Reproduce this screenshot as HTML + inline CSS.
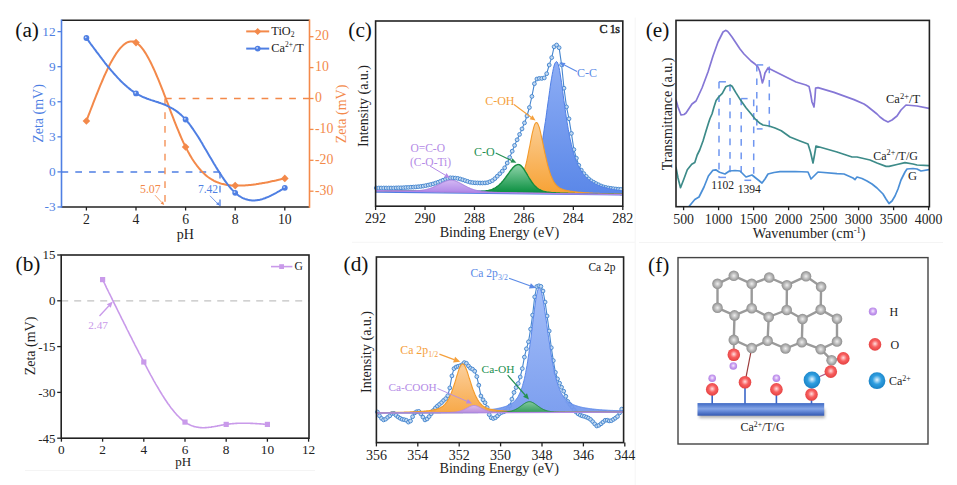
<!DOCTYPE html>
<html><head><meta charset="utf-8"><style>
html,body{margin:0;padding:0;background:#fff;}
svg{display:block;font-family:'Liberation Serif', serif;}
</style></head><body>
<svg width="957" height="485" viewBox="0 0 957 485">
<defs><linearGradient id="gcB" gradientUnits="userSpaceOnUse" x1="0" y1="60" x2="0" y2="195"><stop offset="0" stop-color="#8eaef5"/><stop offset="1" stop-color="#5a87e8"/></linearGradient><linearGradient id="gcO" gradientUnits="userSpaceOnUse" x1="0" y1="120" x2="0" y2="195"><stop offset="0" stop-color="#fbcf97"/><stop offset="1" stop-color="#f7a133"/></linearGradient><linearGradient id="gcG" gradientUnits="userSpaceOnUse" x1="0" y1="163" x2="0" y2="192"><stop offset="0" stop-color="#96d8b0"/><stop offset="1" stop-color="#0e9143"/></linearGradient><linearGradient id="gcP" gradientUnits="userSpaceOnUse" x1="0" y1="178" x2="0" y2="195"><stop offset="0" stop-color="#d9bff6"/><stop offset="1" stop-color="#a97fe4"/></linearGradient><linearGradient id="gdB" gradientUnits="userSpaceOnUse" x1="0" y1="287" x2="0" y2="413"><stop offset="0" stop-color="#9cb8f7"/><stop offset="1" stop-color="#7398ee"/></linearGradient><linearGradient id="gdO" gradientUnits="userSpaceOnUse" x1="0" y1="363" x2="0" y2="413"><stop offset="0" stop-color="#fbcd98"/><stop offset="1" stop-color="#f7a23a"/></linearGradient><linearGradient id="gdG" gradientUnits="userSpaceOnUse" x1="0" y1="400" x2="0" y2="413"><stop offset="0" stop-color="#8fd1a0"/><stop offset="1" stop-color="#2a9a50"/></linearGradient><linearGradient id="gdP" gradientUnits="userSpaceOnUse" x1="0" y1="404" x2="0" y2="413"><stop offset="0" stop-color="#e0c8f8"/><stop offset="1" stop-color="#b58ae8"/></linearGradient><radialGradient id="sgG" cx="0.5" cy="0.5" r="0.5"><stop offset="0" stop-color="#eeeeee"/><stop offset="0.45" stop-color="#c2c2c2"/><stop offset="0.8" stop-color="#a0a0a0"/><stop offset="1" stop-color="#8e8e8e"/></radialGradient><radialGradient id="sgR" cx="0.5" cy="0.45" r="0.6"><stop offset="0" stop-color="#ffe0e0"/><stop offset="0.45" stop-color="#f86060"/><stop offset="1" stop-color="#e03a3a"/></radialGradient><radialGradient id="sgC" cx="0.5" cy="0.45" r="0.6"><stop offset="0" stop-color="#e8f6ff"/><stop offset="0.45" stop-color="#2f9ee0"/><stop offset="1" stop-color="#137bbf"/></radialGradient><radialGradient id="sgH" cx="0.5" cy="0.45" r="0.6"><stop offset="0" stop-color="#f6eeff"/><stop offset="0.5" stop-color="#c89cf0"/><stop offset="1" stop-color="#a87ade"/></radialGradient><linearGradient id="barG" x1="0" y1="0" x2="0" y2="1"><stop offset="0" stop-color="#3d68c4"/><stop offset="0.45" stop-color="#86a6e6"/><stop offset="0.6" stop-color="#6d90dc"/><stop offset="1" stop-color="#3358b2"/></linearGradient><filter id="shadow" x="-10%" y="-50%" width="120%" height="250%"><feGaussianBlur stdDeviation="1.6"/></filter></defs>
<rect width="957" height="485" fill="#fff"/>
<line x1="61.50" y1="171.90" x2="220.00" y2="171.90" stroke="#4f7fe3" stroke-width="1.45" stroke-dasharray="6.7,7.1"/>
<line x1="220.00" y1="171.90" x2="220.00" y2="207.00" stroke="#4f7fe3" stroke-width="1.3" stroke-dasharray="6.7,7.1"/>
<line x1="165.00" y1="98.50" x2="309.50" y2="98.50" stroke="#f3894a" stroke-width="1.45" stroke-dasharray="6.7,7.1"/>
<line x1="165.00" y1="98.50" x2="165.00" y2="207.00" stroke="#f3894a" stroke-width="1.3" stroke-dasharray="6.7,7.1"/>
<line x1="61.50" y1="20.30" x2="309.50" y2="20.30" stroke="#222" stroke-width="1.6" />
<line x1="61.50" y1="207.00" x2="309.50" y2="207.00" stroke="#222" stroke-width="1.6" />
<line x1="61.50" y1="19.50" x2="61.50" y2="207.80" stroke="#4f7fe3" stroke-width="1.6" />
<line x1="309.50" y1="19.50" x2="309.50" y2="207.80" stroke="#f3894a" stroke-width="1.6" />
<line x1="57.50" y1="206.97" x2="61.50" y2="206.97" stroke="#4f7fe3" stroke-width="1.3" />
<text x="55.60" y="211.37" font-size="13.3" fill="#4f7fe3" stroke="#4f7fe3" stroke-width="0.0" text-anchor="end" >-3</text>
<line x1="57.50" y1="171.90" x2="61.50" y2="171.90" stroke="#4f7fe3" stroke-width="1.3" />
<text x="55.60" y="176.30" font-size="13.3" fill="#4f7fe3" stroke="#4f7fe3" stroke-width="0.0" text-anchor="end" >0</text>
<line x1="57.50" y1="136.83" x2="61.50" y2="136.83" stroke="#4f7fe3" stroke-width="1.3" />
<text x="55.60" y="141.23" font-size="13.3" fill="#4f7fe3" stroke="#4f7fe3" stroke-width="0.0" text-anchor="end" >3</text>
<line x1="57.50" y1="101.76" x2="61.50" y2="101.76" stroke="#4f7fe3" stroke-width="1.3" />
<text x="55.60" y="106.16" font-size="13.3" fill="#4f7fe3" stroke="#4f7fe3" stroke-width="0.0" text-anchor="end" >6</text>
<line x1="57.50" y1="66.69" x2="61.50" y2="66.69" stroke="#4f7fe3" stroke-width="1.3" />
<text x="55.60" y="71.09" font-size="13.3" fill="#4f7fe3" stroke="#4f7fe3" stroke-width="0.0" text-anchor="end" >9</text>
<line x1="57.50" y1="31.62" x2="61.50" y2="31.62" stroke="#4f7fe3" stroke-width="1.3" />
<text x="55.60" y="36.02" font-size="13.3" fill="#4f7fe3" stroke="#4f7fe3" stroke-width="0.0" text-anchor="end" >12</text>
<line x1="309.50" y1="36.70" x2="313.50" y2="36.70" stroke="#f3894a" stroke-width="1.3" />
<text x="315.00" y="40.30" font-size="13.8" fill="#f3894a" stroke="#f3894a" stroke-width="0.0" text-anchor="start" >20</text>
<line x1="309.50" y1="67.60" x2="313.50" y2="67.60" stroke="#f3894a" stroke-width="1.3" />
<text x="315.00" y="71.20" font-size="13.8" fill="#f3894a" stroke="#f3894a" stroke-width="0.0" text-anchor="start" >10</text>
<line x1="309.50" y1="98.50" x2="313.50" y2="98.50" stroke="#f3894a" stroke-width="1.3" />
<text x="315.00" y="102.10" font-size="13.8" fill="#f3894a" stroke="#f3894a" stroke-width="0.0" text-anchor="start" >0</text>
<line x1="309.50" y1="129.40" x2="313.50" y2="129.40" stroke="#f3894a" stroke-width="1.3" />
<text x="315.00" y="133.00" font-size="13.8" fill="#f3894a" stroke="#f3894a" stroke-width="0.0" text-anchor="start" >-10</text>
<line x1="309.50" y1="160.30" x2="313.50" y2="160.30" stroke="#f3894a" stroke-width="1.3" />
<text x="315.00" y="163.90" font-size="13.8" fill="#f3894a" stroke="#f3894a" stroke-width="0.0" text-anchor="start" >-20</text>
<line x1="309.50" y1="191.20" x2="313.50" y2="191.20" stroke="#f3894a" stroke-width="1.3" />
<text x="315.00" y="194.80" font-size="13.8" fill="#f3894a" stroke="#f3894a" stroke-width="0.0" text-anchor="start" >-30</text>
<line x1="86.40" y1="207.00" x2="86.40" y2="210.50" stroke="#222" stroke-width="1.3" />
<text x="86.40" y="223.60" font-size="13.7" fill="#222" stroke="#222" stroke-width="0.0" text-anchor="middle" >2</text>
<line x1="136.00" y1="207.00" x2="136.00" y2="210.50" stroke="#222" stroke-width="1.3" />
<text x="136.00" y="223.60" font-size="13.7" fill="#222" stroke="#222" stroke-width="0.0" text-anchor="middle" >4</text>
<line x1="185.60" y1="207.00" x2="185.60" y2="210.50" stroke="#222" stroke-width="1.3" />
<text x="185.60" y="223.60" font-size="13.7" fill="#222" stroke="#222" stroke-width="0.0" text-anchor="middle" >6</text>
<line x1="235.20" y1="207.00" x2="235.20" y2="210.50" stroke="#222" stroke-width="1.3" />
<text x="235.20" y="223.60" font-size="13.7" fill="#222" stroke="#222" stroke-width="0.0" text-anchor="middle" >8</text>
<line x1="284.80" y1="207.00" x2="284.80" y2="210.50" stroke="#222" stroke-width="1.3" />
<text x="284.80" y="223.60" font-size="13.7" fill="#222" stroke="#222" stroke-width="0.0" text-anchor="middle" >10</text>
<text x="185.30" y="239.00" font-size="14" fill="#222" stroke="#222" stroke-width="0.0" text-anchor="middle" >pH</text>
<text x="0" y="0" font-size="14" fill="#4f7fe3" stroke="#4f7fe3" stroke-width="0.0" text-anchor="middle" dominant-baseline="central" transform="translate(38.00,113.50) rotate(-90)" >Zeta (mV)</text>
<text x="0" y="0" font-size="14" fill="#f3894a" stroke="#f3894a" stroke-width="0.0" text-anchor="middle" dominant-baseline="central" transform="translate(341.50,114.00) rotate(-90)" >Zeta (mV)</text>
<text x="15.30" y="37.20" font-size="21.3" fill="#111" stroke="#111" stroke-width="0.0" text-anchor="start" >(a)</text>
<path d="M86.4,121.0 L87.4,118.4 L88.4,115.7 L89.4,113.1 L90.4,110.5 L91.4,107.9 L92.4,105.3 L93.4,102.7 L94.4,100.1 L95.4,97.6 L96.4,95.0 L97.4,92.6 L98.4,90.1 L99.4,87.6 L100.4,85.2 L101.4,82.9 L102.4,80.5 L103.3,78.3 L104.3,76.0 L105.3,73.8 L106.3,71.7 L107.3,69.6 L108.3,67.5 L109.3,65.5 L110.3,63.6 L111.3,61.8 L112.3,60.0 L113.3,58.2 L114.3,56.6 L115.3,55.0 L116.3,53.4 L117.3,52.0 L118.3,50.6 L119.3,49.4 L120.3,48.2 L121.3,47.1 L122.3,46.1 L123.3,45.1 L124.3,44.3 L125.3,43.6 L126.3,42.9 L127.3,42.4 L128.3,42.0 L129.3,41.7 L130.3,41.5 L131.3,41.4 L132.3,41.4 L133.3,41.6 L134.3,41.8 L135.3,42.2 L136.2,42.7 L137.2,43.4 L138.2,44.2 L139.2,45.0 L140.2,46.0 L141.2,47.1 L142.2,48.4 L143.2,49.7 L144.2,51.1 L145.2,52.6 L146.2,54.2 L147.2,55.9 L148.2,57.7 L149.2,59.6 L150.2,61.5 L151.2,63.5 L152.2,65.6 L153.2,67.7 L154.2,69.9 L155.2,72.2 L156.2,74.5 L157.2,76.8 L158.2,79.2 L159.2,81.7 L160.2,84.1 L161.2,86.6 L162.2,89.2 L163.2,91.7 L164.2,94.3 L165.2,96.9 L166.2,99.5 L167.2,102.1 L168.2,104.7 L169.1,107.3 L170.1,110.0 L171.1,112.6 L172.1,115.2 L173.1,117.7 L174.1,120.3 L175.1,122.8 L176.1,125.3 L177.1,127.8 L178.1,130.2 L179.1,132.6 L180.1,135.0 L181.1,137.3 L182.1,139.6 L183.1,141.8 L184.1,143.9 L185.1,146.0 L186.1,148.0 L187.1,149.9 L188.1,151.8 L189.1,153.6 L190.1,155.4 L191.1,157.0 L192.1,158.7 L193.1,160.2 L194.1,161.7 L195.1,163.2 L196.1,164.5 L197.1,165.9 L198.1,167.1 L199.1,168.3 L200.1,169.5 L201.1,170.6 L202.1,171.6 L203.0,172.6 L204.0,173.6 L205.0,174.5 L206.0,175.4 L207.0,176.2 L208.0,177.0 L209.0,177.7 L210.0,178.4 L211.0,179.0 L212.0,179.6 L213.0,180.2 L214.0,180.8 L215.0,181.3 L216.0,181.7 L217.0,182.1 L218.0,182.5 L219.0,182.9 L220.0,183.3 L221.0,183.6 L222.0,183.9 L223.0,184.1 L224.0,184.3 L225.0,184.5 L226.0,184.7 L227.0,184.9 L228.0,185.0 L229.0,185.2 L230.0,185.3 L231.0,185.4 L232.0,185.4 L233.0,185.5 L234.0,185.6 L235.0,185.6 L235.9,185.6 L236.9,185.6 L237.9,185.6 L238.9,185.6 L239.9,185.6 L240.9,185.6 L241.9,185.6 L242.9,185.5 L243.9,185.5 L244.9,185.4 L245.9,185.3 L246.9,185.3 L247.9,185.2 L248.9,185.1 L249.9,185.0 L250.9,184.9 L251.9,184.8 L252.9,184.7 L253.9,184.5 L254.9,184.4 L255.9,184.3 L256.9,184.1 L257.9,184.0 L258.9,183.8 L259.9,183.6 L260.9,183.5 L261.9,183.3 L262.9,183.1 L263.9,182.9 L264.9,182.7 L265.9,182.6 L266.9,182.4 L267.9,182.2 L268.8,182.0 L269.8,181.8 L270.8,181.5 L271.8,181.3 L272.8,181.1 L273.8,180.9 L274.8,180.7 L275.8,180.5 L276.8,180.2 L277.8,180.0 L278.8,179.8 L279.8,179.6 L280.8,179.3 L281.8,179.1 L282.8,178.9 L283.8,178.6 L284.8,178.4" stroke="#f3894a" stroke-width="2.0" fill="none" stroke-linejoin="round" stroke-linecap="round" />
<path d="M86.4,38.0 L87.4,39.4 L88.4,40.7 L89.4,42.1 L90.4,43.5 L91.4,44.8 L92.4,46.2 L93.4,47.5 L94.4,48.9 L95.4,50.2 L96.4,51.6 L97.4,52.9 L98.4,54.2 L99.4,55.5 L100.4,56.9 L101.4,58.2 L102.4,59.5 L103.3,60.7 L104.3,62.0 L105.3,63.3 L106.3,64.5 L107.3,65.8 L108.3,67.0 L109.3,68.2 L110.3,69.4 L111.3,70.6 L112.3,71.7 L113.3,72.9 L114.3,74.0 L115.3,75.1 L116.3,76.2 L117.3,77.3 L118.3,78.4 L119.3,79.4 L120.3,80.5 L121.3,81.5 L122.3,82.4 L123.3,83.4 L124.3,84.3 L125.3,85.2 L126.3,86.1 L127.3,87.0 L128.3,87.8 L129.3,88.6 L130.3,89.4 L131.3,90.2 L132.3,90.9 L133.3,91.6 L134.3,92.3 L135.3,92.9 L136.2,93.6 L137.2,94.1 L138.2,94.7 L139.2,95.2 L140.2,95.7 L141.2,96.2 L142.2,96.7 L143.2,97.1 L144.2,97.5 L145.2,97.9 L146.2,98.3 L147.2,98.7 L148.2,99.0 L149.2,99.4 L150.2,99.7 L151.2,100.1 L152.2,100.4 L153.2,100.7 L154.2,101.0 L155.2,101.4 L156.2,101.7 L157.2,102.0 L158.2,102.3 L159.2,102.7 L160.2,103.0 L161.2,103.4 L162.2,103.7 L163.2,104.1 L164.2,104.5 L165.2,104.9 L166.2,105.3 L167.2,105.8 L168.2,106.3 L169.1,106.7 L170.1,107.3 L171.1,107.8 L172.1,108.4 L173.1,108.9 L174.1,109.6 L175.1,110.2 L176.1,110.9 L177.1,111.6 L178.1,112.4 L179.1,113.2 L180.1,114.1 L181.1,114.9 L182.1,115.9 L183.1,116.9 L184.1,117.9 L185.1,118.9 L186.1,120.1 L187.1,121.2 L188.1,122.5 L189.1,123.7 L190.1,125.0 L191.1,126.4 L192.1,127.8 L193.1,129.2 L194.1,130.7 L195.1,132.2 L196.1,133.7 L197.1,135.2 L198.1,136.8 L199.1,138.4 L200.1,140.0 L201.1,141.7 L202.1,143.3 L203.0,145.0 L204.0,146.7 L205.0,148.4 L206.0,150.1 L207.0,151.8 L208.0,153.5 L209.0,155.2 L210.0,156.9 L211.0,158.6 L212.0,160.3 L213.0,162.0 L214.0,163.7 L215.0,165.3 L216.0,167.0 L217.0,168.6 L218.0,170.2 L219.0,171.8 L220.0,173.4 L221.0,174.9 L222.0,176.5 L223.0,177.9 L224.0,179.4 L225.0,180.8 L226.0,182.2 L227.0,183.5 L228.0,184.8 L229.0,186.1 L230.0,187.3 L231.0,188.5 L232.0,189.6 L233.0,190.6 L234.0,191.6 L235.0,192.6 L235.9,193.5 L236.9,194.3 L237.9,195.0 L238.9,195.8 L239.9,196.4 L240.9,197.0 L241.9,197.6 L242.9,198.1 L243.9,198.5 L244.9,198.9 L245.9,199.2 L246.9,199.5 L247.9,199.8 L248.9,200.0 L249.9,200.2 L250.9,200.3 L251.9,200.4 L252.9,200.4 L253.9,200.4 L254.9,200.4 L255.9,200.3 L256.9,200.2 L257.9,200.0 L258.9,199.9 L259.9,199.7 L260.9,199.4 L261.9,199.2 L262.9,198.9 L263.9,198.5 L264.9,198.2 L265.9,197.8 L266.9,197.4 L267.9,197.0 L268.8,196.6 L269.8,196.1 L270.8,195.7 L271.8,195.2 L272.8,194.7 L273.8,194.1 L274.8,193.6 L275.8,193.1 L276.8,192.5 L277.8,191.9 L278.8,191.4 L279.8,190.8 L280.8,190.2 L281.8,189.6 L282.8,189.0 L283.8,188.4 L284.8,187.8" stroke="#4f7fe3" stroke-width="2.0" fill="none" stroke-linejoin="round" stroke-linecap="round" />
<path d="M86.40,117.20 L90.20,121.00 L86.40,124.80 L82.60,121.00 Z" fill="#f3894a"/>
<path d="M136.00,38.80 L139.80,42.60 L136.00,46.40 L132.20,42.60 Z" fill="#f3894a"/>
<path d="M185.60,143.20 L189.40,147.00 L185.60,150.80 L181.80,147.00 Z" fill="#f3894a"/>
<path d="M235.20,181.80 L239.00,185.60 L235.20,189.40 L231.40,185.60 Z" fill="#f3894a"/>
<path d="M284.80,174.60 L288.60,178.40 L284.80,182.20 L281.00,178.40 Z" fill="#f3894a"/>
<circle cx="86.40" cy="38.00" r="2.9" fill="#4f7fe3"/><circle cx="85.70" cy="37.30" r="0.9" fill="#c9d8f7"/>
<circle cx="136.00" cy="93.40" r="2.9" fill="#4f7fe3"/><circle cx="135.30" cy="92.70" r="0.9" fill="#c9d8f7"/>
<circle cx="185.60" cy="119.50" r="2.9" fill="#4f7fe3"/><circle cx="184.90" cy="118.80" r="0.9" fill="#c9d8f7"/>
<circle cx="235.20" cy="192.80" r="2.9" fill="#4f7fe3"/><circle cx="234.50" cy="192.10" r="0.9" fill="#c9d8f7"/>
<circle cx="284.80" cy="187.80" r="2.9" fill="#4f7fe3"/><circle cx="284.10" cy="187.10" r="0.9" fill="#c9d8f7"/>
<text x="140.00" y="192.80" font-size="11.8" fill="#f3894a" stroke="#f3894a" stroke-width="0.0" text-anchor="start" >5.07</text>
<text x="197.90" y="192.70" font-size="11.5" fill="#4f7fe3" stroke="#4f7fe3" stroke-width="0.0" text-anchor="start" >7.42</text>
<line x1="155.00" y1="195.20" x2="161.80" y2="202.45" stroke="#f3894a" stroke-width="0.8" />
<path d="M164.20,205.00 L160.64,203.54 L162.97,201.35 Z" fill="#f3894a"/>
<line x1="210.00" y1="195.80" x2="217.15" y2="203.10" stroke="#4f7fe3" stroke-width="0.8" />
<path d="M219.60,205.60 L216.01,204.22 L218.29,201.98 Z" fill="#4f7fe3"/>
<line x1="246.20" y1="31.40" x2="269.20" y2="31.40" stroke="#f3894a" stroke-width="2" />
<path d="M257.70,27.90 L261.20,31.40 L257.70,34.90 L254.20,31.40 Z" fill="#f3894a"/>
<text x="271.30" y="34.70" font-size="12.3" fill="#222" stroke="#222" stroke-width="0.0" text-anchor="start" >TiO<tspan font-size="7.6" dy="2.6">2</tspan></text>
<line x1="246.20" y1="48.60" x2="269.20" y2="48.60" stroke="#4f7fe3" stroke-width="2" />
<circle cx="257.7" cy="48.6" r="2.9" fill="#4f7fe3"/><circle cx="257.1" cy="47.9" r="0.9" fill="#c9d8f7"/>
<text x="271.30" y="51.80" font-size="12.3" fill="#222" stroke="#222" stroke-width="0.0" text-anchor="start" >Ca<tspan font-size="7.4" dy="-5">2+</tspan><tspan dy="5">/T</tspan></text>
<line x1="61.20" y1="300.80" x2="309.00" y2="300.80" stroke="#c2c2c2" stroke-width="1.3" stroke-dasharray="7,6"/>
<rect x="61.2" y="255.0" width="247.8" height="183.2" fill="none" stroke="#222" stroke-width="1.6"/>
<line x1="57.20" y1="255.00" x2="61.20" y2="255.00" stroke="#222" stroke-width="1.3" />
<text x="55.50" y="259.40" font-size="12.9" fill="#222" stroke="#222" stroke-width="0.0" text-anchor="end" >15</text>
<line x1="57.20" y1="300.80" x2="61.20" y2="300.80" stroke="#222" stroke-width="1.3" />
<text x="55.50" y="305.20" font-size="12.9" fill="#222" stroke="#222" stroke-width="0.0" text-anchor="end" >0</text>
<line x1="57.20" y1="346.60" x2="61.20" y2="346.60" stroke="#222" stroke-width="1.3" />
<text x="55.50" y="351.00" font-size="12.9" fill="#222" stroke="#222" stroke-width="0.0" text-anchor="end" >-15</text>
<line x1="57.20" y1="392.39" x2="61.20" y2="392.39" stroke="#222" stroke-width="1.3" />
<text x="55.50" y="396.79" font-size="12.9" fill="#222" stroke="#222" stroke-width="0.0" text-anchor="end" >-30</text>
<line x1="57.20" y1="438.19" x2="61.20" y2="438.19" stroke="#222" stroke-width="1.3" />
<text x="55.50" y="442.58" font-size="12.9" fill="#222" stroke="#222" stroke-width="0.0" text-anchor="end" >-45</text>
<line x1="61.40" y1="438.20" x2="61.40" y2="441.70" stroke="#222" stroke-width="1.3" />
<text x="61.40" y="454.30" font-size="13.3" fill="#222" stroke="#222" stroke-width="0.0" text-anchor="middle" >0</text>
<line x1="102.60" y1="438.20" x2="102.60" y2="441.70" stroke="#222" stroke-width="1.3" />
<text x="102.60" y="454.30" font-size="13.3" fill="#222" stroke="#222" stroke-width="0.0" text-anchor="middle" >2</text>
<line x1="143.80" y1="438.20" x2="143.80" y2="441.70" stroke="#222" stroke-width="1.3" />
<text x="143.80" y="454.30" font-size="13.3" fill="#222" stroke="#222" stroke-width="0.0" text-anchor="middle" >4</text>
<line x1="185.00" y1="438.20" x2="185.00" y2="441.70" stroke="#222" stroke-width="1.3" />
<text x="185.00" y="454.30" font-size="13.3" fill="#222" stroke="#222" stroke-width="0.0" text-anchor="middle" >6</text>
<line x1="226.20" y1="438.20" x2="226.20" y2="441.70" stroke="#222" stroke-width="1.3" />
<text x="226.20" y="454.30" font-size="13.3" fill="#222" stroke="#222" stroke-width="0.0" text-anchor="middle" >8</text>
<line x1="267.40" y1="438.20" x2="267.40" y2="441.70" stroke="#222" stroke-width="1.3" />
<text x="267.40" y="454.30" font-size="13.3" fill="#222" stroke="#222" stroke-width="0.0" text-anchor="middle" >10</text>
<line x1="308.60" y1="438.20" x2="308.60" y2="441.70" stroke="#222" stroke-width="1.3" />
<text x="308.60" y="454.30" font-size="13.3" fill="#222" stroke="#222" stroke-width="0.0" text-anchor="middle" >12</text>
<text x="183.10" y="466.00" font-size="13" fill="#222" stroke="#222" stroke-width="0.0" text-anchor="middle" >pH</text>
<text x="0" y="0" font-size="14" fill="#222" stroke="#222" stroke-width="0.0" text-anchor="middle" dominant-baseline="central" transform="translate(30.50,346.00) rotate(-90)" >Zeta (mV)</text>
<text x="15.60" y="271.20" font-size="21.3" fill="#111" stroke="#111" stroke-width="0.0" text-anchor="start" >(b)</text>
<path d="M102.6,279.6 L103.4,281.3 L104.3,283.0 L105.1,284.7 L105.9,286.4 L106.7,288.1 L107.6,289.8 L108.4,291.5 L109.2,293.1 L110.1,294.8 L110.9,296.5 L111.7,298.2 L112.5,299.9 L113.4,301.6 L114.2,303.3 L115.0,305.0 L115.9,306.6 L116.7,308.3 L117.5,310.0 L118.3,311.7 L119.2,313.4 L120.0,315.0 L120.8,316.7 L121.6,318.4 L122.5,320.0 L123.3,321.7 L124.1,323.4 L125.0,325.0 L125.8,326.7 L126.6,328.4 L127.4,330.0 L128.3,331.7 L129.1,333.3 L129.9,335.0 L130.8,336.6 L131.6,338.2 L132.4,339.9 L133.2,341.5 L134.1,343.1 L134.9,344.8 L135.7,346.4 L136.6,348.0 L137.4,349.6 L138.2,351.2 L139.0,352.8 L139.9,354.4 L140.7,356.0 L141.5,357.6 L142.4,359.2 L143.2,360.8 L144.0,362.4 L144.8,364.0 L145.7,365.5 L146.5,367.1 L147.3,368.7 L148.1,370.2 L149.0,371.8 L149.8,373.3 L150.6,374.8 L151.5,376.3 L152.3,377.8 L153.1,379.3 L153.9,380.8 L154.8,382.3 L155.6,383.8 L156.4,385.2 L157.3,386.6 L158.1,388.0 L158.9,389.4 L159.7,390.8 L160.6,392.2 L161.4,393.5 L162.2,394.9 L163.1,396.2 L163.9,397.5 L164.7,398.8 L165.5,400.0 L166.4,401.3 L167.2,402.5 L168.0,403.7 L168.9,404.8 L169.7,406.0 L170.5,407.1 L171.3,408.2 L172.2,409.3 L173.0,410.3 L173.8,411.3 L174.6,412.3 L175.5,413.3 L176.3,414.2 L177.1,415.1 L178.0,416.0 L178.8,416.8 L179.6,417.6 L180.4,418.4 L181.3,419.2 L182.1,419.9 L182.9,420.5 L183.8,421.2 L184.6,421.8 L185.4,422.4 L186.2,422.9 L187.1,423.4 L187.9,423.9 L188.7,424.3 L189.6,424.8 L190.4,425.1 L191.2,425.5 L192.0,425.8 L192.9,426.1 L193.7,426.4 L194.5,426.6 L195.4,426.8 L196.2,427.0 L197.0,427.1 L197.8,427.3 L198.7,427.4 L199.5,427.5 L200.3,427.6 L201.1,427.6 L202.0,427.7 L202.8,427.7 L203.6,427.7 L204.5,427.7 L205.3,427.6 L206.1,427.6 L206.9,427.5 L207.8,427.5 L208.6,427.4 L209.4,427.3 L210.3,427.2 L211.1,427.1 L211.9,426.9 L212.7,426.8 L213.6,426.7 L214.4,426.5 L215.2,426.4 L216.1,426.2 L216.9,426.1 L217.7,425.9 L218.5,425.8 L219.4,425.6 L220.2,425.5 L221.0,425.3 L221.9,425.1 L222.7,425.0 L223.5,424.8 L224.3,424.7 L225.2,424.6 L226.0,424.4 L226.8,424.3 L227.6,424.2 L228.5,424.1 L229.3,424.0 L230.1,423.9 L231.0,423.8 L231.8,423.7 L232.6,423.6 L233.4,423.6 L234.3,423.5 L235.1,423.5 L235.9,423.4 L236.8,423.4 L237.6,423.3 L238.4,423.3 L239.2,423.3 L240.1,423.2 L240.9,423.2 L241.7,423.2 L242.6,423.2 L243.4,423.2 L244.2,423.2 L245.0,423.2 L245.9,423.2 L246.7,423.2 L247.5,423.2 L248.4,423.3 L249.2,423.3 L250.0,423.3 L250.8,423.4 L251.7,423.4 L252.5,423.4 L253.3,423.5 L254.1,423.5 L255.0,423.5 L255.8,423.6 L256.6,423.6 L257.5,423.7 L258.3,423.7 L259.1,423.8 L259.9,423.9 L260.8,423.9 L261.6,424.0 L262.4,424.0 L263.3,424.1 L264.1,424.2 L264.9,424.2 L265.7,424.3 L266.6,424.3 L267.4,424.4" stroke="#c99aea" stroke-width="1.6" fill="none" stroke-linejoin="round" stroke-linecap="round" />
<rect x="100.00" y="277.00" width="5.2" height="5.2" fill="#c99aea"/>
<rect x="141.20" y="359.40" width="5.2" height="5.2" fill="#c99aea"/>
<rect x="182.40" y="419.50" width="5.2" height="5.2" fill="#c99aea"/>
<rect x="223.60" y="421.80" width="5.2" height="5.2" fill="#c99aea"/>
<rect x="264.80" y="421.80" width="5.2" height="5.2" fill="#c99aea"/>
<text x="88.20" y="328.80" font-size="11.3" fill="#c99aea" stroke="#c99aea" stroke-width="0.0" text-anchor="start" >2.47</text>
<line x1="99.50" y1="316.00" x2="108.73" y2="306.01" stroke="#c99aea" stroke-width="1.3" />
<path d="M112.80,301.60 L110.71,307.84 L106.75,304.18 Z" fill="#c99aea"/>
<line x1="271.00" y1="266.60" x2="292.40" y2="266.60" stroke="#c99aea" stroke-width="1.6" />
<rect x="279.2" y="264.2" width="4.8" height="4.8" fill="#c99aea"/>
<text x="294.60" y="270.20" font-size="11.6" fill="#222" stroke="#222" stroke-width="0.0" text-anchor="start" >G</text>
<line x1="25.00" y1="470.50" x2="315.00" y2="470.50" stroke="#f4f4f4" stroke-width="1" />
<line x1="639.00" y1="242.50" x2="943.00" y2="242.50" stroke="#f4f4f4" stroke-width="1" />
<line x1="635.20" y1="17.50" x2="635.20" y2="485.00" stroke="#f5f5f5" stroke-width="1" />
<line x1="352.00" y1="242.30" x2="635.20" y2="242.30" stroke="#f6f6f6" stroke-width="1" />
<path d="M376.3,188.0 L378.8,188.0 L381.2,188.0 L383.7,188.0 L386.2,188.0 L388.7,188.0 L391.1,188.0 L393.6,188.0 L396.1,187.9 L398.5,187.8 L401.0,187.8 L403.5,187.7 L405.9,187.5 L408.4,187.4 L410.9,187.2 L413.4,187.1 L415.8,186.9 L418.3,186.7 L420.8,186.4 L423.2,186.1 L425.7,185.6 L428.2,185.1 L430.6,184.5 L433.1,183.9 L435.6,183.1 L438.1,182.2 L440.5,181.3 L443.0,180.2 L445.5,179.2 L447.9,178.4 L450.4,177.8 L452.9,177.9 L455.3,178.1 L457.8,178.4 L460.3,179.0 L462.8,179.8 L465.2,180.6 L467.7,181.4 L470.2,182.2 L472.6,182.6 L475.1,182.8 L477.6,182.9 L480.0,183.0 L482.5,183.0 L485.0,182.9 L487.5,182.6 L489.9,181.7 L492.4,180.6 L494.9,178.6 L497.3,176.2 L499.8,173.7 L502.3,171.1 L504.7,167.8 L507.2,163.0 L509.7,157.4 L512.2,151.2 L514.6,145.4 L517.1,139.8 L519.6,134.4 L522.0,128.9 L524.5,122.9 L527.0,116.0 L529.4,107.5 L531.9,96.4 L534.4,83.7 L536.9,79.0 L539.3,78.4 L541.8,78.4 L544.3,77.9 L546.7,73.7 L549.2,65.0 L551.7,57.6 L554.1,46.8 L556.6,45.0 L559.1,47.7 L561.6,64.8 L564.0,88.2 L566.5,106.9 L569.0,118.8 L571.4,133.4 L573.9,149.6 L576.4,158.2 L578.8,165.3 L581.3,170.2 L583.8,173.6 L586.3,176.4 L588.7,178.9 L591.2,180.8 L593.7,182.3 L596.1,183.6 L598.6,184.8 L601.1,186.0 L603.5,186.9 L606.0,187.5 L608.5,188.0 L611.0,188.4 L613.4,188.7 L615.9,189.0 L618.4,189.2 L620.8,189.4" stroke="#4686cf" stroke-width="1.1" fill="none" stroke-linejoin="round" stroke-linecap="round" />
<circle cx="376.3" cy="188.0" r="1.9" fill="#c2d9f1" stroke="#4686cf" stroke-width="0.95"/>
<circle cx="378.8" cy="188.0" r="1.9" fill="#c2d9f1" stroke="#4686cf" stroke-width="0.95"/>
<circle cx="381.2" cy="188.0" r="1.9" fill="#c2d9f1" stroke="#4686cf" stroke-width="0.95"/>
<circle cx="383.7" cy="188.0" r="1.9" fill="#c2d9f1" stroke="#4686cf" stroke-width="0.95"/>
<circle cx="386.2" cy="188.0" r="1.9" fill="#c2d9f1" stroke="#4686cf" stroke-width="0.95"/>
<circle cx="388.7" cy="188.0" r="1.9" fill="#c2d9f1" stroke="#4686cf" stroke-width="0.95"/>
<circle cx="391.1" cy="188.0" r="1.9" fill="#c2d9f1" stroke="#4686cf" stroke-width="0.95"/>
<circle cx="393.6" cy="188.0" r="1.9" fill="#c2d9f1" stroke="#4686cf" stroke-width="0.95"/>
<circle cx="396.1" cy="187.9" r="1.9" fill="#c2d9f1" stroke="#4686cf" stroke-width="0.95"/>
<circle cx="398.5" cy="187.8" r="1.9" fill="#c2d9f1" stroke="#4686cf" stroke-width="0.95"/>
<circle cx="401.0" cy="187.8" r="1.9" fill="#c2d9f1" stroke="#4686cf" stroke-width="0.95"/>
<circle cx="403.5" cy="187.7" r="1.9" fill="#c2d9f1" stroke="#4686cf" stroke-width="0.95"/>
<circle cx="405.9" cy="187.5" r="1.9" fill="#c2d9f1" stroke="#4686cf" stroke-width="0.95"/>
<circle cx="408.4" cy="187.4" r="1.9" fill="#c2d9f1" stroke="#4686cf" stroke-width="0.95"/>
<circle cx="410.9" cy="187.2" r="1.9" fill="#c2d9f1" stroke="#4686cf" stroke-width="0.95"/>
<circle cx="413.4" cy="187.1" r="1.9" fill="#c2d9f1" stroke="#4686cf" stroke-width="0.95"/>
<circle cx="415.8" cy="186.9" r="1.9" fill="#c2d9f1" stroke="#4686cf" stroke-width="0.95"/>
<circle cx="418.3" cy="186.7" r="1.9" fill="#c2d9f1" stroke="#4686cf" stroke-width="0.95"/>
<circle cx="420.8" cy="186.4" r="1.9" fill="#c2d9f1" stroke="#4686cf" stroke-width="0.95"/>
<circle cx="423.2" cy="186.1" r="1.9" fill="#c2d9f1" stroke="#4686cf" stroke-width="0.95"/>
<circle cx="425.7" cy="185.6" r="1.9" fill="#c2d9f1" stroke="#4686cf" stroke-width="0.95"/>
<circle cx="428.2" cy="185.1" r="1.9" fill="#c2d9f1" stroke="#4686cf" stroke-width="0.95"/>
<circle cx="430.6" cy="184.5" r="1.9" fill="#c2d9f1" stroke="#4686cf" stroke-width="0.95"/>
<circle cx="433.1" cy="183.9" r="1.9" fill="#c2d9f1" stroke="#4686cf" stroke-width="0.95"/>
<circle cx="435.6" cy="183.1" r="1.9" fill="#c2d9f1" stroke="#4686cf" stroke-width="0.95"/>
<circle cx="438.1" cy="182.2" r="1.9" fill="#c2d9f1" stroke="#4686cf" stroke-width="0.95"/>
<circle cx="440.5" cy="181.3" r="1.9" fill="#c2d9f1" stroke="#4686cf" stroke-width="0.95"/>
<circle cx="443.0" cy="180.2" r="1.9" fill="#c2d9f1" stroke="#4686cf" stroke-width="0.95"/>
<circle cx="445.5" cy="179.2" r="1.9" fill="#c2d9f1" stroke="#4686cf" stroke-width="0.95"/>
<circle cx="447.9" cy="178.4" r="1.9" fill="#c2d9f1" stroke="#4686cf" stroke-width="0.95"/>
<circle cx="450.4" cy="177.8" r="1.9" fill="#c2d9f1" stroke="#4686cf" stroke-width="0.95"/>
<circle cx="452.9" cy="177.9" r="1.9" fill="#c2d9f1" stroke="#4686cf" stroke-width="0.95"/>
<circle cx="455.3" cy="178.1" r="1.9" fill="#c2d9f1" stroke="#4686cf" stroke-width="0.95"/>
<circle cx="457.8" cy="178.4" r="1.9" fill="#c2d9f1" stroke="#4686cf" stroke-width="0.95"/>
<circle cx="460.3" cy="179.0" r="1.9" fill="#c2d9f1" stroke="#4686cf" stroke-width="0.95"/>
<circle cx="462.8" cy="179.8" r="1.9" fill="#c2d9f1" stroke="#4686cf" stroke-width="0.95"/>
<circle cx="465.2" cy="180.6" r="1.9" fill="#c2d9f1" stroke="#4686cf" stroke-width="0.95"/>
<circle cx="467.7" cy="181.4" r="1.9" fill="#c2d9f1" stroke="#4686cf" stroke-width="0.95"/>
<circle cx="470.2" cy="182.2" r="1.9" fill="#c2d9f1" stroke="#4686cf" stroke-width="0.95"/>
<circle cx="472.6" cy="182.6" r="1.9" fill="#c2d9f1" stroke="#4686cf" stroke-width="0.95"/>
<circle cx="475.1" cy="182.8" r="1.9" fill="#c2d9f1" stroke="#4686cf" stroke-width="0.95"/>
<circle cx="477.6" cy="182.9" r="1.9" fill="#c2d9f1" stroke="#4686cf" stroke-width="0.95"/>
<circle cx="480.0" cy="183.0" r="1.9" fill="#c2d9f1" stroke="#4686cf" stroke-width="0.95"/>
<circle cx="482.5" cy="183.0" r="1.9" fill="#c2d9f1" stroke="#4686cf" stroke-width="0.95"/>
<circle cx="485.0" cy="182.9" r="1.9" fill="#c2d9f1" stroke="#4686cf" stroke-width="0.95"/>
<circle cx="487.5" cy="182.6" r="1.9" fill="#c2d9f1" stroke="#4686cf" stroke-width="0.95"/>
<circle cx="489.9" cy="181.7" r="1.9" fill="#c2d9f1" stroke="#4686cf" stroke-width="0.95"/>
<circle cx="492.4" cy="180.6" r="1.9" fill="#c2d9f1" stroke="#4686cf" stroke-width="0.95"/>
<circle cx="494.9" cy="178.6" r="1.9" fill="#c2d9f1" stroke="#4686cf" stroke-width="0.95"/>
<circle cx="497.3" cy="176.2" r="1.9" fill="#c2d9f1" stroke="#4686cf" stroke-width="0.95"/>
<circle cx="499.8" cy="173.7" r="1.9" fill="#c2d9f1" stroke="#4686cf" stroke-width="0.95"/>
<circle cx="502.3" cy="171.1" r="1.9" fill="#c2d9f1" stroke="#4686cf" stroke-width="0.95"/>
<circle cx="504.7" cy="167.8" r="1.9" fill="#c2d9f1" stroke="#4686cf" stroke-width="0.95"/>
<circle cx="507.2" cy="163.0" r="1.9" fill="#c2d9f1" stroke="#4686cf" stroke-width="0.95"/>
<circle cx="509.7" cy="157.4" r="1.9" fill="#c2d9f1" stroke="#4686cf" stroke-width="0.95"/>
<circle cx="512.2" cy="151.2" r="1.9" fill="#c2d9f1" stroke="#4686cf" stroke-width="0.95"/>
<circle cx="514.6" cy="145.4" r="1.9" fill="#c2d9f1" stroke="#4686cf" stroke-width="0.95"/>
<circle cx="517.1" cy="139.8" r="1.9" fill="#c2d9f1" stroke="#4686cf" stroke-width="0.95"/>
<circle cx="519.6" cy="134.4" r="1.9" fill="#c2d9f1" stroke="#4686cf" stroke-width="0.95"/>
<circle cx="522.0" cy="128.9" r="1.9" fill="#c2d9f1" stroke="#4686cf" stroke-width="0.95"/>
<circle cx="524.5" cy="122.9" r="1.9" fill="#c2d9f1" stroke="#4686cf" stroke-width="0.95"/>
<circle cx="527.0" cy="116.0" r="1.9" fill="#c2d9f1" stroke="#4686cf" stroke-width="0.95"/>
<circle cx="529.4" cy="107.5" r="1.9" fill="#c2d9f1" stroke="#4686cf" stroke-width="0.95"/>
<circle cx="531.9" cy="96.4" r="1.9" fill="#c2d9f1" stroke="#4686cf" stroke-width="0.95"/>
<circle cx="534.4" cy="83.7" r="1.9" fill="#c2d9f1" stroke="#4686cf" stroke-width="0.95"/>
<circle cx="536.9" cy="79.0" r="1.9" fill="#c2d9f1" stroke="#4686cf" stroke-width="0.95"/>
<circle cx="539.3" cy="78.4" r="1.9" fill="#c2d9f1" stroke="#4686cf" stroke-width="0.95"/>
<circle cx="541.8" cy="78.4" r="1.9" fill="#c2d9f1" stroke="#4686cf" stroke-width="0.95"/>
<circle cx="544.3" cy="77.9" r="1.9" fill="#c2d9f1" stroke="#4686cf" stroke-width="0.95"/>
<circle cx="546.7" cy="73.7" r="1.9" fill="#c2d9f1" stroke="#4686cf" stroke-width="0.95"/>
<circle cx="549.2" cy="65.0" r="1.9" fill="#c2d9f1" stroke="#4686cf" stroke-width="0.95"/>
<circle cx="551.7" cy="57.6" r="1.9" fill="#c2d9f1" stroke="#4686cf" stroke-width="0.95"/>
<circle cx="554.1" cy="46.8" r="1.9" fill="#c2d9f1" stroke="#4686cf" stroke-width="0.95"/>
<circle cx="556.6" cy="45.0" r="1.9" fill="#c2d9f1" stroke="#4686cf" stroke-width="0.95"/>
<circle cx="559.1" cy="47.7" r="1.9" fill="#c2d9f1" stroke="#4686cf" stroke-width="0.95"/>
<circle cx="561.6" cy="64.8" r="1.9" fill="#c2d9f1" stroke="#4686cf" stroke-width="0.95"/>
<circle cx="564.0" cy="88.2" r="1.9" fill="#c2d9f1" stroke="#4686cf" stroke-width="0.95"/>
<circle cx="566.5" cy="106.9" r="1.9" fill="#c2d9f1" stroke="#4686cf" stroke-width="0.95"/>
<circle cx="569.0" cy="118.8" r="1.9" fill="#c2d9f1" stroke="#4686cf" stroke-width="0.95"/>
<circle cx="571.4" cy="133.4" r="1.9" fill="#c2d9f1" stroke="#4686cf" stroke-width="0.95"/>
<circle cx="573.9" cy="149.6" r="1.9" fill="#c2d9f1" stroke="#4686cf" stroke-width="0.95"/>
<circle cx="576.4" cy="158.2" r="1.9" fill="#c2d9f1" stroke="#4686cf" stroke-width="0.95"/>
<circle cx="578.8" cy="165.3" r="1.9" fill="#c2d9f1" stroke="#4686cf" stroke-width="0.95"/>
<circle cx="581.3" cy="170.2" r="1.9" fill="#c2d9f1" stroke="#4686cf" stroke-width="0.95"/>
<circle cx="583.8" cy="173.6" r="1.9" fill="#c2d9f1" stroke="#4686cf" stroke-width="0.95"/>
<circle cx="586.3" cy="176.4" r="1.9" fill="#c2d9f1" stroke="#4686cf" stroke-width="0.95"/>
<circle cx="588.7" cy="178.9" r="1.9" fill="#c2d9f1" stroke="#4686cf" stroke-width="0.95"/>
<circle cx="591.2" cy="180.8" r="1.9" fill="#c2d9f1" stroke="#4686cf" stroke-width="0.95"/>
<circle cx="593.7" cy="182.3" r="1.9" fill="#c2d9f1" stroke="#4686cf" stroke-width="0.95"/>
<circle cx="596.1" cy="183.6" r="1.9" fill="#c2d9f1" stroke="#4686cf" stroke-width="0.95"/>
<circle cx="598.6" cy="184.8" r="1.9" fill="#c2d9f1" stroke="#4686cf" stroke-width="0.95"/>
<circle cx="601.1" cy="186.0" r="1.9" fill="#c2d9f1" stroke="#4686cf" stroke-width="0.95"/>
<circle cx="603.5" cy="186.9" r="1.9" fill="#c2d9f1" stroke="#4686cf" stroke-width="0.95"/>
<circle cx="606.0" cy="187.5" r="1.9" fill="#c2d9f1" stroke="#4686cf" stroke-width="0.95"/>
<circle cx="608.5" cy="188.0" r="1.9" fill="#c2d9f1" stroke="#4686cf" stroke-width="0.95"/>
<circle cx="611.0" cy="188.4" r="1.9" fill="#c2d9f1" stroke="#4686cf" stroke-width="0.95"/>
<circle cx="613.4" cy="188.7" r="1.9" fill="#c2d9f1" stroke="#4686cf" stroke-width="0.95"/>
<circle cx="615.9" cy="189.0" r="1.9" fill="#c2d9f1" stroke="#4686cf" stroke-width="0.95"/>
<circle cx="618.4" cy="189.2" r="1.9" fill="#c2d9f1" stroke="#4686cf" stroke-width="0.95"/>
<circle cx="620.8" cy="189.4" r="1.9" fill="#c2d9f1" stroke="#4686cf" stroke-width="0.95"/>
<path d="M375.6,190.6 L376.2,190.6 L376.8,190.7 L377.5,190.7 L378.1,190.7 L378.7,190.7 L379.3,190.7 L379.9,190.7 L380.6,190.7 L381.2,190.7 L381.8,190.7 L382.4,190.7 L383.0,190.7 L383.7,190.7 L384.3,190.7 L384.9,190.8 L385.5,190.8 L386.1,190.8 L386.8,190.8 L387.4,190.8 L388.0,190.8 L388.6,190.8 L389.2,190.8 L389.8,190.8 L390.5,190.8 L391.1,190.8 L391.7,190.8 L392.3,190.8 L392.9,190.8 L393.6,190.8 L394.2,190.9 L394.8,190.9 L395.4,190.9 L396.0,190.9 L396.7,190.9 L397.3,190.9 L397.9,190.9 L398.5,190.9 L399.1,190.9 L399.8,190.9 L400.4,190.9 L401.0,190.9 L401.6,190.9 L402.2,190.9 L402.9,190.9 L403.5,191.0 L404.1,191.0 L404.7,191.0 L405.3,191.0 L406.0,191.0 L406.6,191.0 L407.2,191.0 L407.8,191.0 L408.4,191.0 L409.1,191.0 L409.7,191.0 L410.3,191.0 L410.9,191.0 L411.5,191.0 L412.2,191.0 L412.8,191.0 L413.4,191.1 L414.0,191.1 L414.6,191.1 L415.3,191.1 L415.9,191.1 L416.5,191.1 L417.1,191.1 L417.7,191.1 L418.3,191.1 L419.0,191.1 L419.6,191.1 L420.2,191.1 L420.8,191.1 L421.4,191.1 L422.1,191.1 L422.7,191.1 L423.3,191.1 L423.9,191.1 L424.5,191.1 L425.2,191.2 L425.8,191.2 L426.4,191.2 L427.0,191.2 L427.6,191.2 L428.3,191.2 L428.9,191.2 L429.5,191.2 L430.1,191.2 L430.7,191.2 L431.4,191.2 L432.0,191.2 L432.6,191.2 L433.2,191.2 L433.8,191.2 L434.5,191.2 L435.1,191.2 L435.7,191.2 L436.3,191.2 L436.9,191.2 L437.6,191.2 L438.2,191.2 L438.8,191.2 L439.4,191.2 L440.0,191.2 L440.7,191.2 L441.3,191.2 L441.9,191.2 L442.5,191.3 L443.1,191.3 L443.8,191.3 L444.4,191.3 L445.0,191.3 L445.6,191.3 L446.2,191.3 L446.8,191.3 L447.5,191.3 L448.1,191.3 L448.7,191.3 L449.3,191.3 L449.9,191.3 L450.6,191.3 L451.2,191.3 L451.8,191.3 L452.4,191.3 L453.0,191.3 L453.7,191.3 L454.3,191.3 L454.9,191.3 L455.5,191.3 L456.1,191.3 L456.8,191.3 L457.4,191.3 L458.0,191.3 L458.6,191.3 L459.2,191.3 L459.9,191.3 L460.5,191.3 L461.1,191.3 L461.7,191.3 L462.3,191.2 L463.0,191.2 L463.6,191.2 L464.2,191.2 L464.8,191.2 L465.4,191.2 L466.1,191.2 L466.7,191.2 L467.3,191.2 L467.9,191.2 L468.5,191.2 L469.2,191.2 L469.8,191.2 L470.4,191.2 L471.0,191.2 L471.6,191.2 L472.2,191.2 L472.9,191.2 L473.5,191.1 L474.1,191.1 L474.7,191.1 L475.3,191.1 L476.0,191.1 L476.6,191.1 L477.2,191.1 L477.8,191.1 L478.4,191.1 L479.1,191.1 L479.7,191.0 L480.3,191.0 L480.9,191.0 L481.5,191.0 L482.2,191.0 L482.8,191.0 L483.4,191.0 L484.0,190.9 L484.6,190.9 L485.3,190.9 L485.9,190.9 L486.5,190.9 L487.1,190.8 L487.7,190.8 L488.4,190.8 L489.0,190.8 L489.6,190.8 L490.2,190.7 L490.8,190.7 L491.5,190.7 L492.1,190.7 L492.7,190.6 L493.3,190.6 L493.9,190.6 L494.6,190.5 L495.2,190.5 L495.8,190.5 L496.4,190.4 L497.0,190.4 L497.7,190.4 L498.3,190.3 L498.9,190.3 L499.5,190.2 L500.1,190.2 L500.7,190.1 L501.4,190.1 L502.0,190.0 L502.6,190.0 L503.2,189.9 L503.8,189.9 L504.5,189.8 L505.1,189.8 L505.7,189.7 L506.3,189.6 L506.9,189.6 L507.6,189.5 L508.2,189.4 L508.8,189.4 L509.4,189.3 L510.0,189.2 L510.7,189.1 L511.3,189.0 L511.9,188.9 L512.5,188.8 L513.1,188.7 L513.8,188.6 L514.4,188.5 L515.0,188.4 L515.6,188.3 L516.2,188.1 L516.9,188.0 L517.5,187.8 L518.1,187.7 L518.7,187.5 L519.3,187.3 L520.0,187.2 L520.6,187.0 L521.2,186.7 L521.8,186.5 L522.4,186.3 L523.1,186.0 L523.7,185.7 L524.3,185.4 L524.9,185.0 L525.5,184.7 L526.2,184.3 L526.8,183.8 L527.4,183.3 L528.0,182.8 L528.6,182.2 L529.2,181.5 L529.9,180.8 L530.5,180.0 L531.1,179.1 L531.7,178.2 L532.3,177.1 L533.0,176.0 L533.6,174.7 L534.2,173.3 L534.8,171.8 L535.4,170.1 L536.1,168.3 L536.7,166.4 L537.3,164.3 L537.9,162.1 L538.5,159.6 L539.2,157.0 L539.8,154.3 L540.4,151.3 L541.0,148.2 L541.6,144.9 L542.3,141.4 L542.9,137.7 L543.5,133.9 L544.1,129.9 L544.7,125.8 L545.4,121.6 L546.0,117.3 L546.6,112.9 L547.2,108.4 L547.8,103.9 L548.5,99.3 L549.1,94.9 L549.7,90.5 L550.3,86.2 L550.9,82.1 L551.6,78.2 L552.2,74.6 L552.8,71.4 L553.4,68.5 L554.0,66.1 L554.6,64.1 L555.3,62.7 L555.9,61.9 L556.5,61.6 L557.1,62.0 L557.7,63.1 L558.4,65.0 L559.0,67.5 L559.6,70.6 L560.2,74.1 L560.8,78.0 L561.5,82.3 L562.1,86.7 L562.7,91.3 L563.3,95.9 L563.9,100.5 L564.6,105.1 L565.2,109.5 L565.8,113.8 L566.4,118.0 L567.0,122.0 L567.7,125.8 L568.3,129.4 L568.9,132.8 L569.5,136.1 L570.1,139.1 L570.8,142.0 L571.4,144.7 L572.0,147.2 L572.6,149.6 L573.2,151.9 L573.9,154.0 L574.5,156.0 L575.1,157.8 L575.7,159.6 L576.3,161.2 L577.0,162.7 L577.6,164.2 L578.2,165.5 L578.8,166.8 L579.4,168.0 L580.1,169.1 L580.7,170.1 L581.3,171.1 L581.9,172.1 L582.5,173.0 L583.1,173.8 L583.8,174.6 L584.4,175.3 L585.0,176.1 L585.6,176.7 L586.2,177.4 L586.9,178.0 L587.5,178.5 L588.1,179.1 L588.7,179.6 L589.3,180.1 L590.0,180.6 L590.6,181.0 L591.2,181.5 L591.8,181.9 L592.4,182.3 L593.1,182.6 L593.7,183.0 L594.3,183.3 L594.9,183.7 L595.5,184.0 L596.2,184.3 L596.8,184.6 L597.4,184.8 L598.0,185.1 L598.6,185.4 L599.3,185.6 L599.9,185.8 L600.5,186.1 L601.1,186.3 L601.7,186.5 L602.4,186.7 L603.0,186.9 L603.6,187.1 L604.2,187.3 L604.8,187.5 L605.5,187.6 L606.1,187.8 L606.7,188.0 L607.3,188.1 L607.9,188.3 L608.6,188.4 L609.2,188.6 L609.8,188.7 L610.4,188.8 L611.0,189.0 L611.6,189.1 L612.3,189.2 L612.9,189.3 L613.5,189.5 L614.1,189.6 L614.7,189.7 L615.4,189.8 L616.0,189.9 L616.6,190.0 L617.2,190.1 L617.8,190.2 L618.5,190.3 L619.1,190.4 L619.7,190.5 L620.3,190.5 L620.9,190.6 L621.6,190.7 L622.2,190.8 L622.8,190.9 L622.8,194.6 L622.2,194.6 L621.6,194.6 L620.9,194.6 L620.3,194.6 L619.7,194.6 L619.1,194.5 L618.5,194.5 L617.8,194.5 L617.2,194.5 L616.6,194.5 L616.0,194.5 L615.4,194.5 L614.7,194.5 L614.1,194.5 L613.5,194.5 L612.9,194.5 L612.3,194.4 L611.6,194.4 L611.0,194.4 L610.4,194.4 L609.8,194.4 L609.2,194.4 L608.6,194.4 L607.9,194.4 L607.3,194.4 L606.7,194.4 L606.1,194.3 L605.5,194.3 L604.8,194.3 L604.2,194.3 L603.6,194.3 L603.0,194.3 L602.4,194.3 L601.7,194.3 L601.1,194.3 L600.5,194.3 L599.9,194.3 L599.3,194.2 L598.6,194.2 L598.0,194.2 L597.4,194.2 L596.8,194.2 L596.2,194.2 L595.5,194.2 L594.9,194.2 L594.3,194.2 L593.7,194.2 L593.1,194.2 L592.4,194.1 L591.8,194.1 L591.2,194.1 L590.6,194.1 L590.0,194.1 L589.3,194.1 L588.7,194.1 L588.1,194.1 L587.5,194.1 L586.9,194.1 L586.2,194.1 L585.6,194.0 L585.0,194.0 L584.4,194.0 L583.8,194.0 L583.1,194.0 L582.5,194.0 L581.9,194.0 L581.3,194.0 L580.7,194.0 L580.1,194.0 L579.4,194.0 L578.8,193.9 L578.2,193.9 L577.6,193.9 L577.0,193.9 L576.3,193.9 L575.7,193.9 L575.1,193.9 L574.5,193.9 L573.9,193.9 L573.2,193.9 L572.6,193.8 L572.0,193.8 L571.4,193.8 L570.8,193.8 L570.1,193.8 L569.5,193.8 L568.9,193.8 L568.3,193.8 L567.7,193.8 L567.0,193.8 L566.4,193.8 L565.8,193.7 L565.2,193.7 L564.6,193.7 L563.9,193.7 L563.3,193.7 L562.7,193.7 L562.1,193.7 L561.5,193.7 L560.8,193.7 L560.2,193.7 L559.6,193.7 L559.0,193.6 L558.4,193.6 L557.7,193.6 L557.1,193.6 L556.5,193.6 L555.9,193.6 L555.3,193.6 L554.6,193.6 L554.0,193.6 L553.4,193.6 L552.8,193.6 L552.2,193.5 L551.6,193.5 L550.9,193.5 L550.3,193.5 L549.7,193.5 L549.1,193.5 L548.5,193.5 L547.8,193.5 L547.2,193.5 L546.6,193.5 L546.0,193.5 L545.4,193.4 L544.7,193.4 L544.1,193.4 L543.5,193.4 L542.9,193.4 L542.3,193.4 L541.6,193.4 L541.0,193.4 L540.4,193.4 L539.8,193.4 L539.2,193.3 L538.5,193.3 L537.9,193.3 L537.3,193.3 L536.7,193.3 L536.1,193.3 L535.4,193.3 L534.8,193.3 L534.2,193.3 L533.6,193.3 L533.0,193.3 L532.3,193.2 L531.7,193.2 L531.1,193.2 L530.5,193.2 L529.9,193.2 L529.2,193.2 L528.6,193.2 L528.0,193.2 L527.4,193.2 L526.8,193.2 L526.2,193.2 L525.5,193.1 L524.9,193.1 L524.3,193.1 L523.7,193.1 L523.1,193.1 L522.4,193.1 L521.8,193.1 L521.2,193.1 L520.6,193.1 L520.0,193.1 L519.3,193.1 L518.7,193.0 L518.1,193.0 L517.5,193.0 L516.9,193.0 L516.2,193.0 L515.6,193.0 L515.0,193.0 L514.4,193.0 L513.8,193.0 L513.1,193.0 L512.5,192.9 L511.9,192.9 L511.3,192.9 L510.7,192.9 L510.0,192.9 L509.4,192.9 L508.8,192.9 L508.2,192.9 L507.6,192.9 L506.9,192.9 L506.3,192.9 L505.7,192.8 L505.1,192.8 L504.5,192.8 L503.8,192.8 L503.2,192.8 L502.6,192.8 L502.0,192.8 L501.4,192.8 L500.7,192.8 L500.1,192.8 L499.5,192.8 L498.9,192.7 L498.3,192.7 L497.7,192.7 L497.0,192.7 L496.4,192.7 L495.8,192.7 L495.2,192.7 L494.6,192.7 L493.9,192.7 L493.3,192.7 L492.7,192.7 L492.1,192.6 L491.5,192.6 L490.8,192.6 L490.2,192.6 L489.6,192.6 L489.0,192.6 L488.4,192.6 L487.7,192.6 L487.1,192.6 L486.5,192.6 L485.9,192.6 L485.3,192.5 L484.6,192.5 L484.0,192.5 L483.4,192.5 L482.8,192.5 L482.2,192.5 L481.5,192.5 L480.9,192.5 L480.3,192.5 L479.7,192.5 L479.1,192.4 L478.4,192.4 L477.8,192.4 L477.2,192.4 L476.6,192.4 L476.0,192.4 L475.3,192.4 L474.7,192.4 L474.1,192.4 L473.5,192.4 L472.9,192.4 L472.2,192.3 L471.6,192.3 L471.0,192.3 L470.4,192.3 L469.8,192.3 L469.2,192.3 L468.5,192.3 L467.9,192.3 L467.3,192.3 L466.7,192.3 L466.1,192.3 L465.4,192.2 L464.8,192.2 L464.2,192.2 L463.6,192.2 L463.0,192.2 L462.3,192.2 L461.7,192.2 L461.1,192.2 L460.5,192.2 L459.9,192.2 L459.2,192.2 L458.6,192.1 L458.0,192.1 L457.4,192.1 L456.8,192.1 L456.1,192.1 L455.5,192.1 L454.9,192.1 L454.3,192.1 L453.7,192.1 L453.0,192.1 L452.4,192.0 L451.8,192.0 L451.2,192.0 L450.6,192.0 L449.9,192.0 L449.3,192.0 L448.7,192.0 L448.1,192.0 L447.5,192.0 L446.8,192.0 L446.2,192.0 L445.6,191.9 L445.0,191.9 L444.4,191.9 L443.8,191.9 L443.1,191.9 L442.5,191.9 L441.9,191.9 L441.3,191.9 L440.7,191.9 L440.0,191.9 L439.4,191.9 L438.8,191.8 L438.2,191.8 L437.6,191.8 L436.9,191.8 L436.3,191.8 L435.7,191.8 L435.1,191.8 L434.5,191.8 L433.8,191.8 L433.2,191.8 L432.6,191.8 L432.0,191.7 L431.4,191.7 L430.7,191.7 L430.1,191.7 L429.5,191.7 L428.9,191.7 L428.3,191.7 L427.6,191.7 L427.0,191.7 L426.4,191.7 L425.8,191.7 L425.2,191.6 L424.5,191.6 L423.9,191.6 L423.3,191.6 L422.7,191.6 L422.1,191.6 L421.4,191.6 L420.8,191.6 L420.2,191.6 L419.6,191.6 L419.0,191.5 L418.3,191.5 L417.7,191.5 L417.1,191.5 L416.5,191.5 L415.9,191.5 L415.3,191.5 L414.6,191.5 L414.0,191.5 L413.4,191.5 L412.8,191.5 L412.2,191.4 L411.5,191.4 L410.9,191.4 L410.3,191.4 L409.7,191.4 L409.1,191.4 L408.4,191.4 L407.8,191.4 L407.2,191.4 L406.6,191.4 L406.0,191.4 L405.3,191.3 L404.7,191.3 L404.1,191.3 L403.5,191.3 L402.9,191.3 L402.2,191.3 L401.6,191.3 L401.0,191.3 L400.4,191.3 L399.8,191.3 L399.1,191.3 L398.5,191.2 L397.9,191.2 L397.3,191.2 L396.7,191.2 L396.0,191.2 L395.4,191.2 L394.8,191.2 L394.2,191.2 L393.6,191.2 L392.9,191.2 L392.3,191.2 L391.7,191.1 L391.1,191.1 L390.5,191.1 L389.8,191.1 L389.2,191.1 L388.6,191.1 L388.0,191.1 L387.4,191.1 L386.8,191.1 L386.1,191.1 L385.5,191.0 L384.9,191.0 L384.3,191.0 L383.7,191.0 L383.0,191.0 L382.4,191.0 L381.8,191.0 L381.2,191.0 L380.6,191.0 L379.9,191.0 L379.3,191.0 L378.7,190.9 L378.1,190.9 L377.5,190.9 L376.8,190.9 L376.2,190.9 L375.6,190.9 Z" fill="url(#gcB)" fill-opacity="1.0" stroke="none"/>
<path d="M375.6,190.6 L376.2,190.6 L376.8,190.7 L377.5,190.7 L378.1,190.7 L378.7,190.7 L379.3,190.7 L379.9,190.7 L380.6,190.7 L381.2,190.7 L381.8,190.7 L382.4,190.7 L383.0,190.7 L383.7,190.7 L384.3,190.7 L384.9,190.8 L385.5,190.8 L386.1,190.8 L386.8,190.8 L387.4,190.8 L388.0,190.8 L388.6,190.8 L389.2,190.8 L389.8,190.8 L390.5,190.8 L391.1,190.8 L391.7,190.8 L392.3,190.8 L392.9,190.8 L393.6,190.8 L394.2,190.9 L394.8,190.9 L395.4,190.9 L396.0,190.9 L396.7,190.9 L397.3,190.9 L397.9,190.9 L398.5,190.9 L399.1,190.9 L399.8,190.9 L400.4,190.9 L401.0,190.9 L401.6,190.9 L402.2,190.9 L402.9,190.9 L403.5,191.0 L404.1,191.0 L404.7,191.0 L405.3,191.0 L406.0,191.0 L406.6,191.0 L407.2,191.0 L407.8,191.0 L408.4,191.0 L409.1,191.0 L409.7,191.0 L410.3,191.0 L410.9,191.0 L411.5,191.0 L412.2,191.0 L412.8,191.0 L413.4,191.1 L414.0,191.1 L414.6,191.1 L415.3,191.1 L415.9,191.1 L416.5,191.1 L417.1,191.1 L417.7,191.1 L418.3,191.1 L419.0,191.1 L419.6,191.1 L420.2,191.1 L420.8,191.1 L421.4,191.1 L422.1,191.1 L422.7,191.1 L423.3,191.1 L423.9,191.1 L424.5,191.1 L425.2,191.2 L425.8,191.2 L426.4,191.2 L427.0,191.2 L427.6,191.2 L428.3,191.2 L428.9,191.2 L429.5,191.2 L430.1,191.2 L430.7,191.2 L431.4,191.2 L432.0,191.2 L432.6,191.2 L433.2,191.2 L433.8,191.2 L434.5,191.2 L435.1,191.2 L435.7,191.2 L436.3,191.2 L436.9,191.2 L437.6,191.2 L438.2,191.2 L438.8,191.2 L439.4,191.2 L440.0,191.2 L440.7,191.2 L441.3,191.2 L441.9,191.2 L442.5,191.3 L443.1,191.3 L443.8,191.3 L444.4,191.3 L445.0,191.3 L445.6,191.3 L446.2,191.3 L446.8,191.3 L447.5,191.3 L448.1,191.3 L448.7,191.3 L449.3,191.3 L449.9,191.3 L450.6,191.3 L451.2,191.3 L451.8,191.3 L452.4,191.3 L453.0,191.3 L453.7,191.3 L454.3,191.3 L454.9,191.3 L455.5,191.3 L456.1,191.3 L456.8,191.3 L457.4,191.3 L458.0,191.3 L458.6,191.3 L459.2,191.3 L459.9,191.3 L460.5,191.3 L461.1,191.3 L461.7,191.3 L462.3,191.2 L463.0,191.2 L463.6,191.2 L464.2,191.2 L464.8,191.2 L465.4,191.2 L466.1,191.2 L466.7,191.2 L467.3,191.2 L467.9,191.2 L468.5,191.2 L469.2,191.2 L469.8,191.2 L470.4,191.2 L471.0,191.2 L471.6,191.2 L472.2,191.2 L472.9,191.2 L473.5,191.1 L474.1,191.1 L474.7,191.1 L475.3,191.1 L476.0,191.1 L476.6,191.1 L477.2,191.1 L477.8,191.1 L478.4,191.1 L479.1,191.1 L479.7,191.0 L480.3,191.0 L480.9,191.0 L481.5,191.0 L482.2,191.0 L482.8,191.0 L483.4,191.0 L484.0,190.9 L484.6,190.9 L485.3,190.9 L485.9,190.9 L486.5,190.9 L487.1,190.8 L487.7,190.8 L488.4,190.8 L489.0,190.8 L489.6,190.8 L490.2,190.7 L490.8,190.7 L491.5,190.7 L492.1,190.7 L492.7,190.6 L493.3,190.6 L493.9,190.6 L494.6,190.5 L495.2,190.5 L495.8,190.5 L496.4,190.4 L497.0,190.4 L497.7,190.4 L498.3,190.3 L498.9,190.3 L499.5,190.2 L500.1,190.2 L500.7,190.1 L501.4,190.1 L502.0,190.0 L502.6,190.0 L503.2,189.9 L503.8,189.9 L504.5,189.8 L505.1,189.8 L505.7,189.7 L506.3,189.6 L506.9,189.6 L507.6,189.5 L508.2,189.4 L508.8,189.4 L509.4,189.3 L510.0,189.2 L510.7,189.1 L511.3,189.0 L511.9,188.9 L512.5,188.8 L513.1,188.7 L513.8,188.6 L514.4,188.5 L515.0,188.4 L515.6,188.3 L516.2,188.1 L516.9,188.0 L517.5,187.8 L518.1,187.7 L518.7,187.5 L519.3,187.3 L520.0,187.2 L520.6,187.0 L521.2,186.7 L521.8,186.5 L522.4,186.3 L523.1,186.0 L523.7,185.7 L524.3,185.4 L524.9,185.0 L525.5,184.7 L526.2,184.3 L526.8,183.8 L527.4,183.3 L528.0,182.8 L528.6,182.2 L529.2,181.5 L529.9,180.8 L530.5,180.0 L531.1,179.1 L531.7,178.2 L532.3,177.1 L533.0,176.0 L533.6,174.7 L534.2,173.3 L534.8,171.8 L535.4,170.1 L536.1,168.3 L536.7,166.4 L537.3,164.3 L537.9,162.1 L538.5,159.6 L539.2,157.0 L539.8,154.3 L540.4,151.3 L541.0,148.2 L541.6,144.9 L542.3,141.4 L542.9,137.7 L543.5,133.9 L544.1,129.9 L544.7,125.8 L545.4,121.6 L546.0,117.3 L546.6,112.9 L547.2,108.4 L547.8,103.9 L548.5,99.3 L549.1,94.9 L549.7,90.5 L550.3,86.2 L550.9,82.1 L551.6,78.2 L552.2,74.6 L552.8,71.4 L553.4,68.5 L554.0,66.1 L554.6,64.1 L555.3,62.7 L555.9,61.9 L556.5,61.6 L557.1,62.0 L557.7,63.1 L558.4,65.0 L559.0,67.5 L559.6,70.6 L560.2,74.1 L560.8,78.0 L561.5,82.3 L562.1,86.7 L562.7,91.3 L563.3,95.9 L563.9,100.5 L564.6,105.1 L565.2,109.5 L565.8,113.8 L566.4,118.0 L567.0,122.0 L567.7,125.8 L568.3,129.4 L568.9,132.8 L569.5,136.1 L570.1,139.1 L570.8,142.0 L571.4,144.7 L572.0,147.2 L572.6,149.6 L573.2,151.9 L573.9,154.0 L574.5,156.0 L575.1,157.8 L575.7,159.6 L576.3,161.2 L577.0,162.7 L577.6,164.2 L578.2,165.5 L578.8,166.8 L579.4,168.0 L580.1,169.1 L580.7,170.1 L581.3,171.1 L581.9,172.1 L582.5,173.0 L583.1,173.8 L583.8,174.6 L584.4,175.3 L585.0,176.1 L585.6,176.7 L586.2,177.4 L586.9,178.0 L587.5,178.5 L588.1,179.1 L588.7,179.6 L589.3,180.1 L590.0,180.6 L590.6,181.0 L591.2,181.5 L591.8,181.9 L592.4,182.3 L593.1,182.6 L593.7,183.0 L594.3,183.3 L594.9,183.7 L595.5,184.0 L596.2,184.3 L596.8,184.6 L597.4,184.8 L598.0,185.1 L598.6,185.4 L599.3,185.6 L599.9,185.8 L600.5,186.1 L601.1,186.3 L601.7,186.5 L602.4,186.7 L603.0,186.9 L603.6,187.1 L604.2,187.3 L604.8,187.5 L605.5,187.6 L606.1,187.8 L606.7,188.0 L607.3,188.1 L607.9,188.3 L608.6,188.4 L609.2,188.6 L609.8,188.7 L610.4,188.8 L611.0,189.0 L611.6,189.1 L612.3,189.2 L612.9,189.3 L613.5,189.5 L614.1,189.6 L614.7,189.7 L615.4,189.8 L616.0,189.9 L616.6,190.0 L617.2,190.1 L617.8,190.2 L618.5,190.3 L619.1,190.4 L619.7,190.5 L620.3,190.5 L620.9,190.6 L621.6,190.7 L622.2,190.8 L622.8,190.9" fill="none" stroke="#4f7fe6" stroke-width="1.0" stroke-linejoin="round"/>
<path d="M375.6,190.8 L376.2,190.8 L376.8,190.8 L377.5,190.8 L378.1,190.8 L378.7,190.8 L379.3,190.8 L379.9,190.8 L380.6,190.9 L381.2,190.9 L381.8,190.9 L382.4,190.9 L383.0,190.9 L383.7,190.9 L384.3,190.9 L384.9,190.9 L385.5,190.9 L386.1,190.9 L386.8,190.9 L387.4,190.9 L388.0,191.0 L388.6,191.0 L389.2,191.0 L389.8,191.0 L390.5,191.0 L391.1,191.0 L391.7,191.0 L392.3,191.0 L392.9,191.0 L393.6,191.0 L394.2,191.0 L394.8,191.0 L395.4,191.1 L396.0,191.1 L396.7,191.1 L397.3,191.1 L397.9,191.1 L398.5,191.1 L399.1,191.1 L399.8,191.1 L400.4,191.1 L401.0,191.1 L401.6,191.1 L402.2,191.1 L402.9,191.1 L403.5,191.2 L404.1,191.2 L404.7,191.2 L405.3,191.2 L406.0,191.2 L406.6,191.2 L407.2,191.2 L407.8,191.2 L408.4,191.2 L409.1,191.2 L409.7,191.2 L410.3,191.2 L410.9,191.2 L411.5,191.3 L412.2,191.3 L412.8,191.3 L413.4,191.3 L414.0,191.3 L414.6,191.3 L415.3,191.3 L415.9,191.3 L416.5,191.3 L417.1,191.3 L417.7,191.3 L418.3,191.3 L419.0,191.3 L419.6,191.3 L420.2,191.4 L420.8,191.4 L421.4,191.4 L422.1,191.4 L422.7,191.4 L423.3,191.4 L423.9,191.4 L424.5,191.4 L425.2,191.4 L425.8,191.4 L426.4,191.4 L427.0,191.4 L427.6,191.4 L428.3,191.4 L428.9,191.5 L429.5,191.5 L430.1,191.5 L430.7,191.5 L431.4,191.5 L432.0,191.5 L432.6,191.5 L433.2,191.5 L433.8,191.5 L434.5,191.5 L435.1,191.5 L435.7,191.5 L436.3,191.5 L436.9,191.5 L437.6,191.5 L438.2,191.5 L438.8,191.5 L439.4,191.6 L440.0,191.6 L440.7,191.6 L441.3,191.6 L441.9,191.6 L442.5,191.6 L443.1,191.6 L443.8,191.6 L444.4,191.6 L445.0,191.6 L445.6,191.6 L446.2,191.6 L446.8,191.6 L447.5,191.6 L448.1,191.6 L448.7,191.6 L449.3,191.6 L449.9,191.6 L450.6,191.6 L451.2,191.6 L451.8,191.6 L452.4,191.6 L453.0,191.7 L453.7,191.7 L454.3,191.7 L454.9,191.7 L455.5,191.7 L456.1,191.7 L456.8,191.7 L457.4,191.7 L458.0,191.7 L458.6,191.7 L459.2,191.7 L459.9,191.7 L460.5,191.7 L461.1,191.7 L461.7,191.7 L462.3,191.7 L463.0,191.7 L463.6,191.7 L464.2,191.7 L464.8,191.7 L465.4,191.7 L466.1,191.7 L466.7,191.7 L467.3,191.7 L467.9,191.7 L468.5,191.7 L469.2,191.7 L469.8,191.7 L470.4,191.7 L471.0,191.7 L471.6,191.7 L472.2,191.7 L472.9,191.7 L473.5,191.7 L474.1,191.7 L474.7,191.6 L475.3,191.6 L476.0,191.6 L476.6,191.6 L477.2,191.6 L477.8,191.6 L478.4,191.6 L479.1,191.6 L479.7,191.6 L480.3,191.6 L480.9,191.6 L481.5,191.6 L482.2,191.5 L482.8,191.5 L483.4,191.5 L484.0,191.5 L484.6,191.5 L485.3,191.5 L485.9,191.5 L486.5,191.4 L487.1,191.4 L487.7,191.4 L488.4,191.4 L489.0,191.4 L489.6,191.3 L490.2,191.3 L490.8,191.3 L491.5,191.3 L492.1,191.2 L492.7,191.2 L493.3,191.2 L493.9,191.1 L494.6,191.1 L495.2,191.1 L495.8,191.0 L496.4,191.0 L497.0,191.0 L497.7,190.9 L498.3,190.9 L498.9,190.8 L499.5,190.8 L500.1,190.7 L500.7,190.7 L501.4,190.6 L502.0,190.5 L502.6,190.5 L503.2,190.4 L503.8,190.3 L504.5,190.2 L505.1,190.1 L505.7,190.0 L506.3,189.9 L506.9,189.8 L507.6,189.7 L508.2,189.6 L508.8,189.4 L509.4,189.3 L510.0,189.1 L510.7,188.9 L511.3,188.7 L511.9,188.5 L512.5,188.3 L513.1,188.0 L513.8,187.7 L514.4,187.4 L515.0,187.0 L515.6,186.5 L516.2,186.0 L516.9,185.5 L517.5,184.8 L518.1,184.1 L518.7,183.3 L519.3,182.4 L520.0,181.4 L520.6,180.3 L521.2,179.0 L521.8,177.6 L522.4,176.0 L523.1,174.3 L523.7,172.5 L524.3,170.4 L524.9,168.2 L525.5,165.9 L526.2,163.3 L526.8,160.7 L527.4,157.8 L528.0,154.9 L528.6,151.8 L529.2,148.7 L529.9,145.5 L530.5,142.2 L531.1,139.1 L531.7,136.0 L532.3,133.1 L533.0,130.4 L533.6,127.9 L534.2,125.9 L534.8,124.3 L535.4,123.2 L536.1,122.6 L536.7,122.6 L537.3,123.0 L537.9,124.0 L538.5,125.4 L539.2,127.2 L539.8,129.4 L540.4,131.8 L541.0,134.5 L541.6,137.3 L542.3,140.3 L542.9,143.3 L543.5,146.3 L544.1,149.3 L544.7,152.3 L545.4,155.2 L546.0,157.9 L546.6,160.6 L547.2,163.2 L547.8,165.6 L548.5,167.9 L549.1,170.0 L549.7,172.0 L550.3,173.8 L550.9,175.5 L551.6,177.1 L552.2,178.5 L552.8,179.8 L553.4,181.0 L554.0,182.1 L554.6,183.0 L555.3,183.9 L555.9,184.7 L556.5,185.3 L557.1,186.0 L557.7,186.5 L558.4,187.0 L559.0,187.5 L559.6,187.9 L560.2,188.2 L560.8,188.5 L561.5,188.8 L562.1,189.1 L562.7,189.3 L563.3,189.6 L563.9,189.8 L564.6,190.0 L565.2,190.1 L565.8,190.3 L566.4,190.4 L567.0,190.6 L567.7,190.7 L568.3,190.8 L568.9,190.9 L569.5,191.0 L570.1,191.2 L570.8,191.3 L571.4,191.3 L572.0,191.4 L572.6,191.5 L573.2,191.6 L573.9,191.7 L574.5,191.8 L575.1,191.8 L575.7,191.9 L576.3,192.0 L577.0,192.0 L577.6,192.1 L578.2,192.2 L578.8,192.2 L579.4,192.3 L580.1,192.3 L580.7,192.4 L581.3,192.4 L581.9,192.5 L582.5,192.5 L583.1,192.6 L583.8,192.6 L584.4,192.7 L585.0,192.7 L585.6,192.7 L586.2,192.8 L586.9,192.8 L587.5,192.9 L588.1,192.9 L588.7,192.9 L589.3,193.0 L590.0,193.0 L590.6,193.0 L591.2,193.1 L591.8,193.1 L592.4,193.1 L593.1,193.2 L593.7,193.2 L594.3,193.2 L594.9,193.3 L595.5,193.3 L596.2,193.3 L596.8,193.3 L597.4,193.4 L598.0,193.4 L598.6,193.4 L599.3,193.4 L599.9,193.5 L600.5,193.5 L601.1,193.5 L601.7,193.5 L602.4,193.6 L603.0,193.6 L603.6,193.6 L604.2,193.6 L604.8,193.6 L605.5,193.7 L606.1,193.7 L606.7,193.7 L607.3,193.7 L607.9,193.8 L608.6,193.8 L609.2,193.8 L609.8,193.8 L610.4,193.8 L611.0,193.8 L611.6,193.9 L612.3,193.9 L612.9,193.9 L613.5,193.9 L614.1,193.9 L614.7,194.0 L615.4,194.0 L616.0,194.0 L616.6,194.0 L617.2,194.0 L617.8,194.0 L618.5,194.1 L619.1,194.1 L619.7,194.1 L620.3,194.1 L620.9,194.1 L621.6,194.1 L622.2,194.2 L622.8,194.2 L622.8,194.6 L622.2,194.6 L621.6,194.6 L620.9,194.6 L620.3,194.6 L619.7,194.6 L619.1,194.5 L618.5,194.5 L617.8,194.5 L617.2,194.5 L616.6,194.5 L616.0,194.5 L615.4,194.5 L614.7,194.5 L614.1,194.5 L613.5,194.5 L612.9,194.5 L612.3,194.4 L611.6,194.4 L611.0,194.4 L610.4,194.4 L609.8,194.4 L609.2,194.4 L608.6,194.4 L607.9,194.4 L607.3,194.4 L606.7,194.4 L606.1,194.3 L605.5,194.3 L604.8,194.3 L604.2,194.3 L603.6,194.3 L603.0,194.3 L602.4,194.3 L601.7,194.3 L601.1,194.3 L600.5,194.3 L599.9,194.3 L599.3,194.2 L598.6,194.2 L598.0,194.2 L597.4,194.2 L596.8,194.2 L596.2,194.2 L595.5,194.2 L594.9,194.2 L594.3,194.2 L593.7,194.2 L593.1,194.2 L592.4,194.1 L591.8,194.1 L591.2,194.1 L590.6,194.1 L590.0,194.1 L589.3,194.1 L588.7,194.1 L588.1,194.1 L587.5,194.1 L586.9,194.1 L586.2,194.1 L585.6,194.0 L585.0,194.0 L584.4,194.0 L583.8,194.0 L583.1,194.0 L582.5,194.0 L581.9,194.0 L581.3,194.0 L580.7,194.0 L580.1,194.0 L579.4,194.0 L578.8,193.9 L578.2,193.9 L577.6,193.9 L577.0,193.9 L576.3,193.9 L575.7,193.9 L575.1,193.9 L574.5,193.9 L573.9,193.9 L573.2,193.9 L572.6,193.8 L572.0,193.8 L571.4,193.8 L570.8,193.8 L570.1,193.8 L569.5,193.8 L568.9,193.8 L568.3,193.8 L567.7,193.8 L567.0,193.8 L566.4,193.8 L565.8,193.7 L565.2,193.7 L564.6,193.7 L563.9,193.7 L563.3,193.7 L562.7,193.7 L562.1,193.7 L561.5,193.7 L560.8,193.7 L560.2,193.7 L559.6,193.7 L559.0,193.6 L558.4,193.6 L557.7,193.6 L557.1,193.6 L556.5,193.6 L555.9,193.6 L555.3,193.6 L554.6,193.6 L554.0,193.6 L553.4,193.6 L552.8,193.6 L552.2,193.5 L551.6,193.5 L550.9,193.5 L550.3,193.5 L549.7,193.5 L549.1,193.5 L548.5,193.5 L547.8,193.5 L547.2,193.5 L546.6,193.5 L546.0,193.5 L545.4,193.4 L544.7,193.4 L544.1,193.4 L543.5,193.4 L542.9,193.4 L542.3,193.4 L541.6,193.4 L541.0,193.4 L540.4,193.4 L539.8,193.4 L539.2,193.3 L538.5,193.3 L537.9,193.3 L537.3,193.3 L536.7,193.3 L536.1,193.3 L535.4,193.3 L534.8,193.3 L534.2,193.3 L533.6,193.3 L533.0,193.3 L532.3,193.2 L531.7,193.2 L531.1,193.2 L530.5,193.2 L529.9,193.2 L529.2,193.2 L528.6,193.2 L528.0,193.2 L527.4,193.2 L526.8,193.2 L526.2,193.2 L525.5,193.1 L524.9,193.1 L524.3,193.1 L523.7,193.1 L523.1,193.1 L522.4,193.1 L521.8,193.1 L521.2,193.1 L520.6,193.1 L520.0,193.1 L519.3,193.1 L518.7,193.0 L518.1,193.0 L517.5,193.0 L516.9,193.0 L516.2,193.0 L515.6,193.0 L515.0,193.0 L514.4,193.0 L513.8,193.0 L513.1,193.0 L512.5,192.9 L511.9,192.9 L511.3,192.9 L510.7,192.9 L510.0,192.9 L509.4,192.9 L508.8,192.9 L508.2,192.9 L507.6,192.9 L506.9,192.9 L506.3,192.9 L505.7,192.8 L505.1,192.8 L504.5,192.8 L503.8,192.8 L503.2,192.8 L502.6,192.8 L502.0,192.8 L501.4,192.8 L500.7,192.8 L500.1,192.8 L499.5,192.8 L498.9,192.7 L498.3,192.7 L497.7,192.7 L497.0,192.7 L496.4,192.7 L495.8,192.7 L495.2,192.7 L494.6,192.7 L493.9,192.7 L493.3,192.7 L492.7,192.7 L492.1,192.6 L491.5,192.6 L490.8,192.6 L490.2,192.6 L489.6,192.6 L489.0,192.6 L488.4,192.6 L487.7,192.6 L487.1,192.6 L486.5,192.6 L485.9,192.6 L485.3,192.5 L484.6,192.5 L484.0,192.5 L483.4,192.5 L482.8,192.5 L482.2,192.5 L481.5,192.5 L480.9,192.5 L480.3,192.5 L479.7,192.5 L479.1,192.4 L478.4,192.4 L477.8,192.4 L477.2,192.4 L476.6,192.4 L476.0,192.4 L475.3,192.4 L474.7,192.4 L474.1,192.4 L473.5,192.4 L472.9,192.4 L472.2,192.3 L471.6,192.3 L471.0,192.3 L470.4,192.3 L469.8,192.3 L469.2,192.3 L468.5,192.3 L467.9,192.3 L467.3,192.3 L466.7,192.3 L466.1,192.3 L465.4,192.2 L464.8,192.2 L464.2,192.2 L463.6,192.2 L463.0,192.2 L462.3,192.2 L461.7,192.2 L461.1,192.2 L460.5,192.2 L459.9,192.2 L459.2,192.2 L458.6,192.1 L458.0,192.1 L457.4,192.1 L456.8,192.1 L456.1,192.1 L455.5,192.1 L454.9,192.1 L454.3,192.1 L453.7,192.1 L453.0,192.1 L452.4,192.0 L451.8,192.0 L451.2,192.0 L450.6,192.0 L449.9,192.0 L449.3,192.0 L448.7,192.0 L448.1,192.0 L447.5,192.0 L446.8,192.0 L446.2,192.0 L445.6,191.9 L445.0,191.9 L444.4,191.9 L443.8,191.9 L443.1,191.9 L442.5,191.9 L441.9,191.9 L441.3,191.9 L440.7,191.9 L440.0,191.9 L439.4,191.9 L438.8,191.8 L438.2,191.8 L437.6,191.8 L436.9,191.8 L436.3,191.8 L435.7,191.8 L435.1,191.8 L434.5,191.8 L433.8,191.8 L433.2,191.8 L432.6,191.8 L432.0,191.7 L431.4,191.7 L430.7,191.7 L430.1,191.7 L429.5,191.7 L428.9,191.7 L428.3,191.7 L427.6,191.7 L427.0,191.7 L426.4,191.7 L425.8,191.7 L425.2,191.6 L424.5,191.6 L423.9,191.6 L423.3,191.6 L422.7,191.6 L422.1,191.6 L421.4,191.6 L420.8,191.6 L420.2,191.6 L419.6,191.6 L419.0,191.5 L418.3,191.5 L417.7,191.5 L417.1,191.5 L416.5,191.5 L415.9,191.5 L415.3,191.5 L414.6,191.5 L414.0,191.5 L413.4,191.5 L412.8,191.5 L412.2,191.4 L411.5,191.4 L410.9,191.4 L410.3,191.4 L409.7,191.4 L409.1,191.4 L408.4,191.4 L407.8,191.4 L407.2,191.4 L406.6,191.4 L406.0,191.4 L405.3,191.3 L404.7,191.3 L404.1,191.3 L403.5,191.3 L402.9,191.3 L402.2,191.3 L401.6,191.3 L401.0,191.3 L400.4,191.3 L399.8,191.3 L399.1,191.3 L398.5,191.2 L397.9,191.2 L397.3,191.2 L396.7,191.2 L396.0,191.2 L395.4,191.2 L394.8,191.2 L394.2,191.2 L393.6,191.2 L392.9,191.2 L392.3,191.2 L391.7,191.1 L391.1,191.1 L390.5,191.1 L389.8,191.1 L389.2,191.1 L388.6,191.1 L388.0,191.1 L387.4,191.1 L386.8,191.1 L386.1,191.1 L385.5,191.0 L384.9,191.0 L384.3,191.0 L383.7,191.0 L383.0,191.0 L382.4,191.0 L381.8,191.0 L381.2,191.0 L380.6,191.0 L379.9,191.0 L379.3,191.0 L378.7,190.9 L378.1,190.9 L377.5,190.9 L376.8,190.9 L376.2,190.9 L375.6,190.9 Z" fill="url(#gcO)" fill-opacity="1.0" stroke="none"/>
<path d="M375.6,190.8 L376.2,190.8 L376.8,190.8 L377.5,190.8 L378.1,190.8 L378.7,190.8 L379.3,190.8 L379.9,190.8 L380.6,190.9 L381.2,190.9 L381.8,190.9 L382.4,190.9 L383.0,190.9 L383.7,190.9 L384.3,190.9 L384.9,190.9 L385.5,190.9 L386.1,190.9 L386.8,190.9 L387.4,190.9 L388.0,191.0 L388.6,191.0 L389.2,191.0 L389.8,191.0 L390.5,191.0 L391.1,191.0 L391.7,191.0 L392.3,191.0 L392.9,191.0 L393.6,191.0 L394.2,191.0 L394.8,191.0 L395.4,191.1 L396.0,191.1 L396.7,191.1 L397.3,191.1 L397.9,191.1 L398.5,191.1 L399.1,191.1 L399.8,191.1 L400.4,191.1 L401.0,191.1 L401.6,191.1 L402.2,191.1 L402.9,191.1 L403.5,191.2 L404.1,191.2 L404.7,191.2 L405.3,191.2 L406.0,191.2 L406.6,191.2 L407.2,191.2 L407.8,191.2 L408.4,191.2 L409.1,191.2 L409.7,191.2 L410.3,191.2 L410.9,191.2 L411.5,191.3 L412.2,191.3 L412.8,191.3 L413.4,191.3 L414.0,191.3 L414.6,191.3 L415.3,191.3 L415.9,191.3 L416.5,191.3 L417.1,191.3 L417.7,191.3 L418.3,191.3 L419.0,191.3 L419.6,191.3 L420.2,191.4 L420.8,191.4 L421.4,191.4 L422.1,191.4 L422.7,191.4 L423.3,191.4 L423.9,191.4 L424.5,191.4 L425.2,191.4 L425.8,191.4 L426.4,191.4 L427.0,191.4 L427.6,191.4 L428.3,191.4 L428.9,191.5 L429.5,191.5 L430.1,191.5 L430.7,191.5 L431.4,191.5 L432.0,191.5 L432.6,191.5 L433.2,191.5 L433.8,191.5 L434.5,191.5 L435.1,191.5 L435.7,191.5 L436.3,191.5 L436.9,191.5 L437.6,191.5 L438.2,191.5 L438.8,191.5 L439.4,191.6 L440.0,191.6 L440.7,191.6 L441.3,191.6 L441.9,191.6 L442.5,191.6 L443.1,191.6 L443.8,191.6 L444.4,191.6 L445.0,191.6 L445.6,191.6 L446.2,191.6 L446.8,191.6 L447.5,191.6 L448.1,191.6 L448.7,191.6 L449.3,191.6 L449.9,191.6 L450.6,191.6 L451.2,191.6 L451.8,191.6 L452.4,191.6 L453.0,191.7 L453.7,191.7 L454.3,191.7 L454.9,191.7 L455.5,191.7 L456.1,191.7 L456.8,191.7 L457.4,191.7 L458.0,191.7 L458.6,191.7 L459.2,191.7 L459.9,191.7 L460.5,191.7 L461.1,191.7 L461.7,191.7 L462.3,191.7 L463.0,191.7 L463.6,191.7 L464.2,191.7 L464.8,191.7 L465.4,191.7 L466.1,191.7 L466.7,191.7 L467.3,191.7 L467.9,191.7 L468.5,191.7 L469.2,191.7 L469.8,191.7 L470.4,191.7 L471.0,191.7 L471.6,191.7 L472.2,191.7 L472.9,191.7 L473.5,191.7 L474.1,191.7 L474.7,191.6 L475.3,191.6 L476.0,191.6 L476.6,191.6 L477.2,191.6 L477.8,191.6 L478.4,191.6 L479.1,191.6 L479.7,191.6 L480.3,191.6 L480.9,191.6 L481.5,191.6 L482.2,191.5 L482.8,191.5 L483.4,191.5 L484.0,191.5 L484.6,191.5 L485.3,191.5 L485.9,191.5 L486.5,191.4 L487.1,191.4 L487.7,191.4 L488.4,191.4 L489.0,191.4 L489.6,191.3 L490.2,191.3 L490.8,191.3 L491.5,191.3 L492.1,191.2 L492.7,191.2 L493.3,191.2 L493.9,191.1 L494.6,191.1 L495.2,191.1 L495.8,191.0 L496.4,191.0 L497.0,191.0 L497.7,190.9 L498.3,190.9 L498.9,190.8 L499.5,190.8 L500.1,190.7 L500.7,190.7 L501.4,190.6 L502.0,190.5 L502.6,190.5 L503.2,190.4 L503.8,190.3 L504.5,190.2 L505.1,190.1 L505.7,190.0 L506.3,189.9 L506.9,189.8 L507.6,189.7 L508.2,189.6 L508.8,189.4 L509.4,189.3 L510.0,189.1 L510.7,188.9 L511.3,188.7 L511.9,188.5 L512.5,188.3 L513.1,188.0 L513.8,187.7 L514.4,187.4 L515.0,187.0 L515.6,186.5 L516.2,186.0 L516.9,185.5 L517.5,184.8 L518.1,184.1 L518.7,183.3 L519.3,182.4 L520.0,181.4 L520.6,180.3 L521.2,179.0 L521.8,177.6 L522.4,176.0 L523.1,174.3 L523.7,172.5 L524.3,170.4 L524.9,168.2 L525.5,165.9 L526.2,163.3 L526.8,160.7 L527.4,157.8 L528.0,154.9 L528.6,151.8 L529.2,148.7 L529.9,145.5 L530.5,142.2 L531.1,139.1 L531.7,136.0 L532.3,133.1 L533.0,130.4 L533.6,127.9 L534.2,125.9 L534.8,124.3 L535.4,123.2 L536.1,122.6 L536.7,122.6 L537.3,123.0 L537.9,124.0 L538.5,125.4 L539.2,127.2 L539.8,129.4 L540.4,131.8 L541.0,134.5 L541.6,137.3 L542.3,140.3 L542.9,143.3 L543.5,146.3 L544.1,149.3 L544.7,152.3 L545.4,155.2 L546.0,157.9 L546.6,160.6 L547.2,163.2 L547.8,165.6 L548.5,167.9 L549.1,170.0 L549.7,172.0 L550.3,173.8 L550.9,175.5 L551.6,177.1 L552.2,178.5 L552.8,179.8 L553.4,181.0 L554.0,182.1 L554.6,183.0 L555.3,183.9 L555.9,184.7 L556.5,185.3 L557.1,186.0 L557.7,186.5 L558.4,187.0 L559.0,187.5 L559.6,187.9 L560.2,188.2 L560.8,188.5 L561.5,188.8 L562.1,189.1 L562.7,189.3 L563.3,189.6 L563.9,189.8 L564.6,190.0 L565.2,190.1 L565.8,190.3 L566.4,190.4 L567.0,190.6 L567.7,190.7 L568.3,190.8 L568.9,190.9 L569.5,191.0 L570.1,191.2 L570.8,191.3 L571.4,191.3 L572.0,191.4 L572.6,191.5 L573.2,191.6 L573.9,191.7 L574.5,191.8 L575.1,191.8 L575.7,191.9 L576.3,192.0 L577.0,192.0 L577.6,192.1 L578.2,192.2 L578.8,192.2 L579.4,192.3 L580.1,192.3 L580.7,192.4 L581.3,192.4 L581.9,192.5 L582.5,192.5 L583.1,192.6 L583.8,192.6 L584.4,192.7 L585.0,192.7 L585.6,192.7 L586.2,192.8 L586.9,192.8 L587.5,192.9 L588.1,192.9 L588.7,192.9 L589.3,193.0 L590.0,193.0 L590.6,193.0 L591.2,193.1 L591.8,193.1 L592.4,193.1 L593.1,193.2 L593.7,193.2 L594.3,193.2 L594.9,193.3 L595.5,193.3 L596.2,193.3 L596.8,193.3 L597.4,193.4 L598.0,193.4 L598.6,193.4 L599.3,193.4 L599.9,193.5 L600.5,193.5 L601.1,193.5 L601.7,193.5 L602.4,193.6 L603.0,193.6 L603.6,193.6 L604.2,193.6 L604.8,193.6 L605.5,193.7 L606.1,193.7 L606.7,193.7 L607.3,193.7 L607.9,193.8 L608.6,193.8 L609.2,193.8 L609.8,193.8 L610.4,193.8 L611.0,193.8 L611.6,193.9 L612.3,193.9 L612.9,193.9 L613.5,193.9 L614.1,193.9 L614.7,194.0 L615.4,194.0 L616.0,194.0 L616.6,194.0 L617.2,194.0 L617.8,194.0 L618.5,194.1 L619.1,194.1 L619.7,194.1 L620.3,194.1 L620.9,194.1 L621.6,194.1 L622.2,194.2 L622.8,194.2" fill="none" stroke="#f39a2a" stroke-width="1.1" stroke-linejoin="round"/>
<path d="M375.6,190.8 L376.2,190.8 L376.8,190.8 L377.5,190.8 L378.1,190.9 L378.7,190.9 L379.3,190.9 L379.9,190.9 L380.6,190.9 L381.2,190.9 L381.8,190.9 L382.4,190.9 L383.0,190.9 L383.7,190.9 L384.3,190.9 L384.9,191.0 L385.5,191.0 L386.1,191.0 L386.8,191.0 L387.4,191.0 L388.0,191.0 L388.6,191.0 L389.2,191.0 L389.8,191.0 L390.5,191.0 L391.1,191.0 L391.7,191.0 L392.3,191.1 L392.9,191.1 L393.6,191.1 L394.2,191.1 L394.8,191.1 L395.4,191.1 L396.0,191.1 L396.7,191.1 L397.3,191.1 L397.9,191.1 L398.5,191.1 L399.1,191.1 L399.8,191.2 L400.4,191.2 L401.0,191.2 L401.6,191.2 L402.2,191.2 L402.9,191.2 L403.5,191.2 L404.1,191.2 L404.7,191.2 L405.3,191.2 L406.0,191.2 L406.6,191.2 L407.2,191.2 L407.8,191.3 L408.4,191.3 L409.1,191.3 L409.7,191.3 L410.3,191.3 L410.9,191.3 L411.5,191.3 L412.2,191.3 L412.8,191.3 L413.4,191.3 L414.0,191.3 L414.6,191.3 L415.3,191.3 L415.9,191.4 L416.5,191.4 L417.1,191.4 L417.7,191.4 L418.3,191.4 L419.0,191.4 L419.6,191.4 L420.2,191.4 L420.8,191.4 L421.4,191.4 L422.1,191.4 L422.7,191.4 L423.3,191.4 L423.9,191.4 L424.5,191.5 L425.2,191.5 L425.8,191.5 L426.4,191.5 L427.0,191.5 L427.6,191.5 L428.3,191.5 L428.9,191.5 L429.5,191.5 L430.1,191.5 L430.7,191.5 L431.4,191.5 L432.0,191.5 L432.6,191.5 L433.2,191.5 L433.8,191.6 L434.5,191.6 L435.1,191.6 L435.7,191.6 L436.3,191.6 L436.9,191.6 L437.6,191.6 L438.2,191.6 L438.8,191.6 L439.4,191.6 L440.0,191.6 L440.7,191.6 L441.3,191.6 L441.9,191.6 L442.5,191.6 L443.1,191.6 L443.8,191.6 L444.4,191.7 L445.0,191.7 L445.6,191.7 L446.2,191.7 L446.8,191.7 L447.5,191.7 L448.1,191.7 L448.7,191.7 L449.3,191.7 L449.9,191.7 L450.6,191.7 L451.2,191.7 L451.8,191.7 L452.4,191.7 L453.0,191.7 L453.7,191.7 L454.3,191.7 L454.9,191.7 L455.5,191.7 L456.1,191.7 L456.8,191.7 L457.4,191.7 L458.0,191.7 L458.6,191.7 L459.2,191.7 L459.9,191.7 L460.5,191.7 L461.1,191.7 L461.7,191.7 L462.3,191.7 L463.0,191.7 L463.6,191.7 L464.2,191.7 L464.8,191.7 L465.4,191.7 L466.1,191.7 L466.7,191.7 L467.3,191.7 L467.9,191.7 L468.5,191.7 L469.2,191.7 L469.8,191.7 L470.4,191.7 L471.0,191.7 L471.6,191.7 L472.2,191.7 L472.9,191.6 L473.5,191.6 L474.1,191.6 L474.7,191.6 L475.3,191.6 L476.0,191.6 L476.6,191.6 L477.2,191.5 L477.8,191.5 L478.4,191.5 L479.1,191.5 L479.7,191.4 L480.3,191.4 L480.9,191.4 L481.5,191.3 L482.2,191.3 L482.8,191.2 L483.4,191.2 L484.0,191.1 L484.6,191.1 L485.3,191.0 L485.9,190.9 L486.5,190.8 L487.1,190.7 L487.7,190.6 L488.4,190.5 L489.0,190.3 L489.6,190.2 L490.2,190.0 L490.8,189.8 L491.5,189.6 L492.1,189.4 L492.7,189.1 L493.3,188.8 L493.9,188.5 L494.6,188.2 L495.2,187.9 L495.8,187.5 L496.4,187.1 L497.0,186.6 L497.7,186.2 L498.3,185.7 L498.9,185.2 L499.5,184.6 L500.1,184.0 L500.7,183.4 L501.4,182.7 L502.0,182.0 L502.6,181.3 L503.2,180.6 L503.8,179.8 L504.5,179.0 L505.1,178.2 L505.7,177.4 L506.3,176.5 L506.9,175.7 L507.6,174.8 L508.2,173.9 L508.8,173.1 L509.4,172.2 L510.0,171.4 L510.7,170.5 L511.3,169.7 L511.9,169.0 L512.5,168.2 L513.1,167.5 L513.8,166.9 L514.4,166.3 L515.0,165.8 L515.6,165.4 L516.2,165.1 L516.9,164.8 L517.5,164.6 L518.1,164.5 L518.7,164.6 L519.3,164.7 L520.0,165.0 L520.6,165.4 L521.2,165.9 L521.8,166.5 L522.4,167.2 L523.1,168.0 L523.7,168.9 L524.3,169.8 L524.9,170.8 L525.5,171.8 L526.2,172.8 L526.8,173.9 L527.4,174.9 L528.0,176.0 L528.6,177.0 L529.2,178.1 L529.9,179.1 L530.5,180.0 L531.1,181.0 L531.7,181.9 L532.3,182.8 L533.0,183.6 L533.6,184.4 L534.2,185.1 L534.8,185.8 L535.4,186.4 L536.1,187.0 L536.7,187.6 L537.3,188.1 L537.9,188.5 L538.5,189.0 L539.2,189.4 L539.8,189.7 L540.4,190.0 L541.0,190.3 L541.6,190.6 L542.3,190.8 L542.9,191.1 L543.5,191.3 L544.1,191.4 L544.7,191.6 L545.4,191.7 L546.0,191.9 L546.6,192.0 L547.2,192.1 L547.8,192.2 L548.5,192.3 L549.1,192.3 L549.7,192.4 L550.3,192.5 L550.9,192.5 L551.6,192.6 L552.2,192.6 L552.8,192.7 L553.4,192.7 L554.0,192.8 L554.6,192.8 L555.3,192.8 L555.9,192.9 L556.5,192.9 L557.1,192.9 L557.7,193.0 L558.4,193.0 L559.0,193.0 L559.6,193.0 L560.2,193.1 L560.8,193.1 L561.5,193.1 L562.1,193.1 L562.7,193.2 L563.3,193.2 L563.9,193.2 L564.6,193.2 L565.2,193.3 L565.8,193.3 L566.4,193.3 L567.0,193.3 L567.7,193.3 L568.3,193.4 L568.9,193.4 L569.5,193.4 L570.1,193.4 L570.8,193.4 L571.4,193.5 L572.0,193.5 L572.6,193.5 L573.2,193.5 L573.9,193.5 L574.5,193.5 L575.1,193.6 L575.7,193.6 L576.3,193.6 L577.0,193.6 L577.6,193.6 L578.2,193.6 L578.8,193.6 L579.4,193.7 L580.1,193.7 L580.7,193.7 L581.3,193.7 L581.9,193.7 L582.5,193.7 L583.1,193.7 L583.8,193.8 L584.4,193.8 L585.0,193.8 L585.6,193.8 L586.2,193.8 L586.9,193.8 L587.5,193.8 L588.1,193.9 L588.7,193.9 L589.3,193.9 L590.0,193.9 L590.6,193.9 L591.2,193.9 L591.8,193.9 L592.4,193.9 L593.1,194.0 L593.7,194.0 L594.3,194.0 L594.9,194.0 L595.5,194.0 L596.2,194.0 L596.8,194.0 L597.4,194.0 L598.0,194.1 L598.6,194.1 L599.3,194.1 L599.9,194.1 L600.5,194.1 L601.1,194.1 L601.7,194.1 L602.4,194.1 L603.0,194.2 L603.6,194.2 L604.2,194.2 L604.8,194.2 L605.5,194.2 L606.1,194.2 L606.7,194.2 L607.3,194.2 L607.9,194.2 L608.6,194.3 L609.2,194.3 L609.8,194.3 L610.4,194.3 L611.0,194.3 L611.6,194.3 L612.3,194.3 L612.9,194.3 L613.5,194.3 L614.1,194.4 L614.7,194.4 L615.4,194.4 L616.0,194.4 L616.6,194.4 L617.2,194.4 L617.8,194.4 L618.5,194.4 L619.1,194.4 L619.7,194.4 L620.3,194.5 L620.9,194.5 L621.6,194.5 L622.2,194.5 L622.8,194.5 L622.8,194.6 L622.2,194.6 L621.6,194.6 L620.9,194.6 L620.3,194.6 L619.7,194.6 L619.1,194.5 L618.5,194.5 L617.8,194.5 L617.2,194.5 L616.6,194.5 L616.0,194.5 L615.4,194.5 L614.7,194.5 L614.1,194.5 L613.5,194.5 L612.9,194.5 L612.3,194.4 L611.6,194.4 L611.0,194.4 L610.4,194.4 L609.8,194.4 L609.2,194.4 L608.6,194.4 L607.9,194.4 L607.3,194.4 L606.7,194.4 L606.1,194.3 L605.5,194.3 L604.8,194.3 L604.2,194.3 L603.6,194.3 L603.0,194.3 L602.4,194.3 L601.7,194.3 L601.1,194.3 L600.5,194.3 L599.9,194.3 L599.3,194.2 L598.6,194.2 L598.0,194.2 L597.4,194.2 L596.8,194.2 L596.2,194.2 L595.5,194.2 L594.9,194.2 L594.3,194.2 L593.7,194.2 L593.1,194.2 L592.4,194.1 L591.8,194.1 L591.2,194.1 L590.6,194.1 L590.0,194.1 L589.3,194.1 L588.7,194.1 L588.1,194.1 L587.5,194.1 L586.9,194.1 L586.2,194.1 L585.6,194.0 L585.0,194.0 L584.4,194.0 L583.8,194.0 L583.1,194.0 L582.5,194.0 L581.9,194.0 L581.3,194.0 L580.7,194.0 L580.1,194.0 L579.4,194.0 L578.8,193.9 L578.2,193.9 L577.6,193.9 L577.0,193.9 L576.3,193.9 L575.7,193.9 L575.1,193.9 L574.5,193.9 L573.9,193.9 L573.2,193.9 L572.6,193.8 L572.0,193.8 L571.4,193.8 L570.8,193.8 L570.1,193.8 L569.5,193.8 L568.9,193.8 L568.3,193.8 L567.7,193.8 L567.0,193.8 L566.4,193.8 L565.8,193.7 L565.2,193.7 L564.6,193.7 L563.9,193.7 L563.3,193.7 L562.7,193.7 L562.1,193.7 L561.5,193.7 L560.8,193.7 L560.2,193.7 L559.6,193.7 L559.0,193.6 L558.4,193.6 L557.7,193.6 L557.1,193.6 L556.5,193.6 L555.9,193.6 L555.3,193.6 L554.6,193.6 L554.0,193.6 L553.4,193.6 L552.8,193.6 L552.2,193.5 L551.6,193.5 L550.9,193.5 L550.3,193.5 L549.7,193.5 L549.1,193.5 L548.5,193.5 L547.8,193.5 L547.2,193.5 L546.6,193.5 L546.0,193.5 L545.4,193.4 L544.7,193.4 L544.1,193.4 L543.5,193.4 L542.9,193.4 L542.3,193.4 L541.6,193.4 L541.0,193.4 L540.4,193.4 L539.8,193.4 L539.2,193.3 L538.5,193.3 L537.9,193.3 L537.3,193.3 L536.7,193.3 L536.1,193.3 L535.4,193.3 L534.8,193.3 L534.2,193.3 L533.6,193.3 L533.0,193.3 L532.3,193.2 L531.7,193.2 L531.1,193.2 L530.5,193.2 L529.9,193.2 L529.2,193.2 L528.6,193.2 L528.0,193.2 L527.4,193.2 L526.8,193.2 L526.2,193.2 L525.5,193.1 L524.9,193.1 L524.3,193.1 L523.7,193.1 L523.1,193.1 L522.4,193.1 L521.8,193.1 L521.2,193.1 L520.6,193.1 L520.0,193.1 L519.3,193.1 L518.7,193.0 L518.1,193.0 L517.5,193.0 L516.9,193.0 L516.2,193.0 L515.6,193.0 L515.0,193.0 L514.4,193.0 L513.8,193.0 L513.1,193.0 L512.5,192.9 L511.9,192.9 L511.3,192.9 L510.7,192.9 L510.0,192.9 L509.4,192.9 L508.8,192.9 L508.2,192.9 L507.6,192.9 L506.9,192.9 L506.3,192.9 L505.7,192.8 L505.1,192.8 L504.5,192.8 L503.8,192.8 L503.2,192.8 L502.6,192.8 L502.0,192.8 L501.4,192.8 L500.7,192.8 L500.1,192.8 L499.5,192.8 L498.9,192.7 L498.3,192.7 L497.7,192.7 L497.0,192.7 L496.4,192.7 L495.8,192.7 L495.2,192.7 L494.6,192.7 L493.9,192.7 L493.3,192.7 L492.7,192.7 L492.1,192.6 L491.5,192.6 L490.8,192.6 L490.2,192.6 L489.6,192.6 L489.0,192.6 L488.4,192.6 L487.7,192.6 L487.1,192.6 L486.5,192.6 L485.9,192.6 L485.3,192.5 L484.6,192.5 L484.0,192.5 L483.4,192.5 L482.8,192.5 L482.2,192.5 L481.5,192.5 L480.9,192.5 L480.3,192.5 L479.7,192.5 L479.1,192.4 L478.4,192.4 L477.8,192.4 L477.2,192.4 L476.6,192.4 L476.0,192.4 L475.3,192.4 L474.7,192.4 L474.1,192.4 L473.5,192.4 L472.9,192.4 L472.2,192.3 L471.6,192.3 L471.0,192.3 L470.4,192.3 L469.8,192.3 L469.2,192.3 L468.5,192.3 L467.9,192.3 L467.3,192.3 L466.7,192.3 L466.1,192.3 L465.4,192.2 L464.8,192.2 L464.2,192.2 L463.6,192.2 L463.0,192.2 L462.3,192.2 L461.7,192.2 L461.1,192.2 L460.5,192.2 L459.9,192.2 L459.2,192.2 L458.6,192.1 L458.0,192.1 L457.4,192.1 L456.8,192.1 L456.1,192.1 L455.5,192.1 L454.9,192.1 L454.3,192.1 L453.7,192.1 L453.0,192.1 L452.4,192.0 L451.8,192.0 L451.2,192.0 L450.6,192.0 L449.9,192.0 L449.3,192.0 L448.7,192.0 L448.1,192.0 L447.5,192.0 L446.8,192.0 L446.2,192.0 L445.6,191.9 L445.0,191.9 L444.4,191.9 L443.8,191.9 L443.1,191.9 L442.5,191.9 L441.9,191.9 L441.3,191.9 L440.7,191.9 L440.0,191.9 L439.4,191.9 L438.8,191.8 L438.2,191.8 L437.6,191.8 L436.9,191.8 L436.3,191.8 L435.7,191.8 L435.1,191.8 L434.5,191.8 L433.8,191.8 L433.2,191.8 L432.6,191.8 L432.0,191.7 L431.4,191.7 L430.7,191.7 L430.1,191.7 L429.5,191.7 L428.9,191.7 L428.3,191.7 L427.6,191.7 L427.0,191.7 L426.4,191.7 L425.8,191.7 L425.2,191.6 L424.5,191.6 L423.9,191.6 L423.3,191.6 L422.7,191.6 L422.1,191.6 L421.4,191.6 L420.8,191.6 L420.2,191.6 L419.6,191.6 L419.0,191.5 L418.3,191.5 L417.7,191.5 L417.1,191.5 L416.5,191.5 L415.9,191.5 L415.3,191.5 L414.6,191.5 L414.0,191.5 L413.4,191.5 L412.8,191.5 L412.2,191.4 L411.5,191.4 L410.9,191.4 L410.3,191.4 L409.7,191.4 L409.1,191.4 L408.4,191.4 L407.8,191.4 L407.2,191.4 L406.6,191.4 L406.0,191.4 L405.3,191.3 L404.7,191.3 L404.1,191.3 L403.5,191.3 L402.9,191.3 L402.2,191.3 L401.6,191.3 L401.0,191.3 L400.4,191.3 L399.8,191.3 L399.1,191.3 L398.5,191.2 L397.9,191.2 L397.3,191.2 L396.7,191.2 L396.0,191.2 L395.4,191.2 L394.8,191.2 L394.2,191.2 L393.6,191.2 L392.9,191.2 L392.3,191.2 L391.7,191.1 L391.1,191.1 L390.5,191.1 L389.8,191.1 L389.2,191.1 L388.6,191.1 L388.0,191.1 L387.4,191.1 L386.8,191.1 L386.1,191.1 L385.5,191.0 L384.9,191.0 L384.3,191.0 L383.7,191.0 L383.0,191.0 L382.4,191.0 L381.8,191.0 L381.2,191.0 L380.6,191.0 L379.9,191.0 L379.3,191.0 L378.7,190.9 L378.1,190.9 L377.5,190.9 L376.8,190.9 L376.2,190.9 L375.6,190.9 Z" fill="url(#gcG)" fill-opacity="1.0" stroke="none"/>
<path d="M375.6,190.8 L376.2,190.8 L376.8,190.8 L377.5,190.8 L378.1,190.9 L378.7,190.9 L379.3,190.9 L379.9,190.9 L380.6,190.9 L381.2,190.9 L381.8,190.9 L382.4,190.9 L383.0,190.9 L383.7,190.9 L384.3,190.9 L384.9,191.0 L385.5,191.0 L386.1,191.0 L386.8,191.0 L387.4,191.0 L388.0,191.0 L388.6,191.0 L389.2,191.0 L389.8,191.0 L390.5,191.0 L391.1,191.0 L391.7,191.0 L392.3,191.1 L392.9,191.1 L393.6,191.1 L394.2,191.1 L394.8,191.1 L395.4,191.1 L396.0,191.1 L396.7,191.1 L397.3,191.1 L397.9,191.1 L398.5,191.1 L399.1,191.1 L399.8,191.2 L400.4,191.2 L401.0,191.2 L401.6,191.2 L402.2,191.2 L402.9,191.2 L403.5,191.2 L404.1,191.2 L404.7,191.2 L405.3,191.2 L406.0,191.2 L406.6,191.2 L407.2,191.2 L407.8,191.3 L408.4,191.3 L409.1,191.3 L409.7,191.3 L410.3,191.3 L410.9,191.3 L411.5,191.3 L412.2,191.3 L412.8,191.3 L413.4,191.3 L414.0,191.3 L414.6,191.3 L415.3,191.3 L415.9,191.4 L416.5,191.4 L417.1,191.4 L417.7,191.4 L418.3,191.4 L419.0,191.4 L419.6,191.4 L420.2,191.4 L420.8,191.4 L421.4,191.4 L422.1,191.4 L422.7,191.4 L423.3,191.4 L423.9,191.4 L424.5,191.5 L425.2,191.5 L425.8,191.5 L426.4,191.5 L427.0,191.5 L427.6,191.5 L428.3,191.5 L428.9,191.5 L429.5,191.5 L430.1,191.5 L430.7,191.5 L431.4,191.5 L432.0,191.5 L432.6,191.5 L433.2,191.5 L433.8,191.6 L434.5,191.6 L435.1,191.6 L435.7,191.6 L436.3,191.6 L436.9,191.6 L437.6,191.6 L438.2,191.6 L438.8,191.6 L439.4,191.6 L440.0,191.6 L440.7,191.6 L441.3,191.6 L441.9,191.6 L442.5,191.6 L443.1,191.6 L443.8,191.6 L444.4,191.7 L445.0,191.7 L445.6,191.7 L446.2,191.7 L446.8,191.7 L447.5,191.7 L448.1,191.7 L448.7,191.7 L449.3,191.7 L449.9,191.7 L450.6,191.7 L451.2,191.7 L451.8,191.7 L452.4,191.7 L453.0,191.7 L453.7,191.7 L454.3,191.7 L454.9,191.7 L455.5,191.7 L456.1,191.7 L456.8,191.7 L457.4,191.7 L458.0,191.7 L458.6,191.7 L459.2,191.7 L459.9,191.7 L460.5,191.7 L461.1,191.7 L461.7,191.7 L462.3,191.7 L463.0,191.7 L463.6,191.7 L464.2,191.7 L464.8,191.7 L465.4,191.7 L466.1,191.7 L466.7,191.7 L467.3,191.7 L467.9,191.7 L468.5,191.7 L469.2,191.7 L469.8,191.7 L470.4,191.7 L471.0,191.7 L471.6,191.7 L472.2,191.7 L472.9,191.6 L473.5,191.6 L474.1,191.6 L474.7,191.6 L475.3,191.6 L476.0,191.6 L476.6,191.6 L477.2,191.5 L477.8,191.5 L478.4,191.5 L479.1,191.5 L479.7,191.4 L480.3,191.4 L480.9,191.4 L481.5,191.3 L482.2,191.3 L482.8,191.2 L483.4,191.2 L484.0,191.1 L484.6,191.1 L485.3,191.0 L485.9,190.9 L486.5,190.8 L487.1,190.7 L487.7,190.6 L488.4,190.5 L489.0,190.3 L489.6,190.2 L490.2,190.0 L490.8,189.8 L491.5,189.6 L492.1,189.4 L492.7,189.1 L493.3,188.8 L493.9,188.5 L494.6,188.2 L495.2,187.9 L495.8,187.5 L496.4,187.1 L497.0,186.6 L497.7,186.2 L498.3,185.7 L498.9,185.2 L499.5,184.6 L500.1,184.0 L500.7,183.4 L501.4,182.7 L502.0,182.0 L502.6,181.3 L503.2,180.6 L503.8,179.8 L504.5,179.0 L505.1,178.2 L505.7,177.4 L506.3,176.5 L506.9,175.7 L507.6,174.8 L508.2,173.9 L508.8,173.1 L509.4,172.2 L510.0,171.4 L510.7,170.5 L511.3,169.7 L511.9,169.0 L512.5,168.2 L513.1,167.5 L513.8,166.9 L514.4,166.3 L515.0,165.8 L515.6,165.4 L516.2,165.1 L516.9,164.8 L517.5,164.6 L518.1,164.5 L518.7,164.6 L519.3,164.7 L520.0,165.0 L520.6,165.4 L521.2,165.9 L521.8,166.5 L522.4,167.2 L523.1,168.0 L523.7,168.9 L524.3,169.8 L524.9,170.8 L525.5,171.8 L526.2,172.8 L526.8,173.9 L527.4,174.9 L528.0,176.0 L528.6,177.0 L529.2,178.1 L529.9,179.1 L530.5,180.0 L531.1,181.0 L531.7,181.9 L532.3,182.8 L533.0,183.6 L533.6,184.4 L534.2,185.1 L534.8,185.8 L535.4,186.4 L536.1,187.0 L536.7,187.6 L537.3,188.1 L537.9,188.5 L538.5,189.0 L539.2,189.4 L539.8,189.7 L540.4,190.0 L541.0,190.3 L541.6,190.6 L542.3,190.8 L542.9,191.1 L543.5,191.3 L544.1,191.4 L544.7,191.6 L545.4,191.7 L546.0,191.9 L546.6,192.0 L547.2,192.1 L547.8,192.2 L548.5,192.3 L549.1,192.3 L549.7,192.4 L550.3,192.5 L550.9,192.5 L551.6,192.6 L552.2,192.6 L552.8,192.7 L553.4,192.7 L554.0,192.8 L554.6,192.8 L555.3,192.8 L555.9,192.9 L556.5,192.9 L557.1,192.9 L557.7,193.0 L558.4,193.0 L559.0,193.0 L559.6,193.0 L560.2,193.1 L560.8,193.1 L561.5,193.1 L562.1,193.1 L562.7,193.2 L563.3,193.2 L563.9,193.2 L564.6,193.2 L565.2,193.3 L565.8,193.3 L566.4,193.3 L567.0,193.3 L567.7,193.3 L568.3,193.4 L568.9,193.4 L569.5,193.4 L570.1,193.4 L570.8,193.4 L571.4,193.5 L572.0,193.5 L572.6,193.5 L573.2,193.5 L573.9,193.5 L574.5,193.5 L575.1,193.6 L575.7,193.6 L576.3,193.6 L577.0,193.6 L577.6,193.6 L578.2,193.6 L578.8,193.6 L579.4,193.7 L580.1,193.7 L580.7,193.7 L581.3,193.7 L581.9,193.7 L582.5,193.7 L583.1,193.7 L583.8,193.8 L584.4,193.8 L585.0,193.8 L585.6,193.8 L586.2,193.8 L586.9,193.8 L587.5,193.8 L588.1,193.9 L588.7,193.9 L589.3,193.9 L590.0,193.9 L590.6,193.9 L591.2,193.9 L591.8,193.9 L592.4,193.9 L593.1,194.0 L593.7,194.0 L594.3,194.0 L594.9,194.0 L595.5,194.0 L596.2,194.0 L596.8,194.0 L597.4,194.0 L598.0,194.1 L598.6,194.1 L599.3,194.1 L599.9,194.1 L600.5,194.1 L601.1,194.1 L601.7,194.1 L602.4,194.1 L603.0,194.2 L603.6,194.2 L604.2,194.2 L604.8,194.2 L605.5,194.2 L606.1,194.2 L606.7,194.2 L607.3,194.2 L607.9,194.2 L608.6,194.3 L609.2,194.3 L609.8,194.3 L610.4,194.3 L611.0,194.3 L611.6,194.3 L612.3,194.3 L612.9,194.3 L613.5,194.3 L614.1,194.4 L614.7,194.4 L615.4,194.4 L616.0,194.4 L616.6,194.4 L617.2,194.4 L617.8,194.4 L618.5,194.4 L619.1,194.4 L619.7,194.4 L620.3,194.5 L620.9,194.5 L621.6,194.5 L622.2,194.5 L622.8,194.5" fill="none" stroke="#148c3e" stroke-width="1.4" stroke-linejoin="round"/>
<path d="M375.6,190.8 L376.2,190.8 L376.8,190.8 L377.5,190.8 L378.1,190.8 L378.7,190.8 L379.3,190.8 L379.9,190.8 L380.6,190.8 L381.2,190.8 L381.8,190.8 L382.4,190.8 L383.0,190.8 L383.7,190.9 L384.3,190.9 L384.9,190.9 L385.5,190.9 L386.1,190.9 L386.8,190.9 L387.4,190.9 L388.0,190.9 L388.6,190.9 L389.2,190.9 L389.8,190.9 L390.5,190.9 L391.1,190.9 L391.7,190.9 L392.3,190.9 L392.9,190.9 L393.6,190.9 L394.2,190.9 L394.8,190.9 L395.4,191.0 L396.0,191.0 L396.7,191.0 L397.3,191.0 L397.9,191.0 L398.5,191.0 L399.1,191.0 L399.8,191.0 L400.4,191.0 L401.0,191.0 L401.6,191.0 L402.2,191.0 L402.9,191.0 L403.5,191.0 L404.1,191.0 L404.7,191.0 L405.3,191.0 L406.0,191.0 L406.6,191.0 L407.2,191.0 L407.8,191.0 L408.4,191.0 L409.1,191.0 L409.7,191.0 L410.3,190.9 L410.9,190.9 L411.5,190.9 L412.2,190.9 L412.8,190.9 L413.4,190.9 L414.0,190.8 L414.6,190.8 L415.3,190.8 L415.9,190.8 L416.5,190.7 L417.1,190.7 L417.7,190.7 L418.3,190.6 L419.0,190.6 L419.6,190.5 L420.2,190.4 L420.8,190.4 L421.4,190.3 L422.1,190.2 L422.7,190.1 L423.3,190.0 L423.9,189.9 L424.5,189.8 L425.2,189.7 L425.8,189.5 L426.4,189.4 L427.0,189.2 L427.6,189.1 L428.3,188.9 L428.9,188.7 L429.5,188.5 L430.1,188.3 L430.7,188.1 L431.4,187.9 L432.0,187.6 L432.6,187.4 L433.2,187.1 L433.8,186.9 L434.5,186.6 L435.1,186.3 L435.7,186.0 L436.3,185.7 L436.9,185.4 L437.6,185.1 L438.2,184.8 L438.8,184.4 L439.4,184.1 L440.0,183.8 L440.7,183.5 L441.3,183.1 L441.9,182.8 L442.5,182.5 L443.1,182.2 L443.8,181.9 L444.4,181.7 L445.0,181.4 L445.6,181.2 L446.2,180.9 L446.8,180.8 L447.5,180.6 L448.1,180.4 L448.7,180.3 L449.3,180.2 L449.9,180.2 L450.6,180.1 L451.2,180.1 L451.8,180.2 L452.4,180.2 L453.0,180.3 L453.7,180.5 L454.3,180.6 L454.9,180.8 L455.5,181.0 L456.1,181.2 L456.8,181.5 L457.4,181.8 L458.0,182.0 L458.6,182.3 L459.2,182.7 L459.9,183.0 L460.5,183.3 L461.1,183.6 L461.7,184.0 L462.3,184.3 L463.0,184.7 L463.6,185.0 L464.2,185.3 L464.8,185.7 L465.4,186.0 L466.1,186.3 L466.7,186.6 L467.3,187.0 L467.9,187.3 L468.5,187.6 L469.2,187.8 L469.8,188.1 L470.4,188.4 L471.0,188.6 L471.6,188.9 L472.2,189.1 L472.9,189.3 L473.5,189.5 L474.1,189.7 L474.7,189.9 L475.3,190.1 L476.0,190.2 L476.6,190.4 L477.2,190.5 L477.8,190.7 L478.4,190.8 L479.1,190.9 L479.7,191.0 L480.3,191.1 L480.9,191.2 L481.5,191.3 L482.2,191.4 L482.8,191.5 L483.4,191.6 L484.0,191.6 L484.6,191.7 L485.3,191.7 L485.9,191.8 L486.5,191.8 L487.1,191.9 L487.7,191.9 L488.4,192.0 L489.0,192.0 L489.6,192.1 L490.2,192.1 L490.8,192.1 L491.5,192.1 L492.1,192.2 L492.7,192.2 L493.3,192.2 L493.9,192.3 L494.6,192.3 L495.2,192.3 L495.8,192.3 L496.4,192.3 L497.0,192.4 L497.7,192.4 L498.3,192.4 L498.9,192.4 L499.5,192.4 L500.1,192.5 L500.7,192.5 L501.4,192.5 L502.0,192.5 L502.6,192.5 L503.2,192.5 L503.8,192.6 L504.5,192.6 L505.1,192.6 L505.7,192.6 L506.3,192.6 L506.9,192.6 L507.6,192.6 L508.2,192.7 L508.8,192.7 L509.4,192.7 L510.0,192.7 L510.7,192.7 L511.3,192.7 L511.9,192.7 L512.5,192.7 L513.1,192.8 L513.8,192.8 L514.4,192.8 L515.0,192.8 L515.6,192.8 L516.2,192.8 L516.9,192.8 L517.5,192.9 L518.1,192.9 L518.7,192.9 L519.3,192.9 L520.0,192.9 L520.6,192.9 L521.2,192.9 L521.8,192.9 L522.4,192.9 L523.1,193.0 L523.7,193.0 L524.3,193.0 L524.9,193.0 L525.5,193.0 L526.2,193.0 L526.8,193.0 L527.4,193.0 L528.0,193.1 L528.6,193.1 L529.2,193.1 L529.9,193.1 L530.5,193.1 L531.1,193.1 L531.7,193.1 L532.3,193.1 L533.0,193.1 L533.6,193.2 L534.2,193.2 L534.8,193.2 L535.4,193.2 L536.1,193.2 L536.7,193.2 L537.3,193.2 L537.9,193.2 L538.5,193.2 L539.2,193.2 L539.8,193.3 L540.4,193.3 L541.0,193.3 L541.6,193.3 L542.3,193.3 L542.9,193.3 L543.5,193.3 L544.1,193.3 L544.7,193.3 L545.4,193.4 L546.0,193.4 L546.6,193.4 L547.2,193.4 L547.8,193.4 L548.5,193.4 L549.1,193.4 L549.7,193.4 L550.3,193.4 L550.9,193.4 L551.6,193.5 L552.2,193.5 L552.8,193.5 L553.4,193.5 L554.0,193.5 L554.6,193.5 L555.3,193.5 L555.9,193.5 L556.5,193.5 L557.1,193.5 L557.7,193.6 L558.4,193.6 L559.0,193.6 L559.6,193.6 L560.2,193.6 L560.8,193.6 L561.5,193.6 L562.1,193.6 L562.7,193.6 L563.3,193.6 L563.9,193.7 L564.6,193.7 L565.2,193.7 L565.8,193.7 L566.4,193.7 L567.0,193.7 L567.7,193.7 L568.3,193.7 L568.9,193.7 L569.5,193.7 L570.1,193.8 L570.8,193.8 L571.4,193.8 L572.0,193.8 L572.6,193.8 L573.2,193.8 L573.9,193.8 L574.5,193.8 L575.1,193.8 L575.7,193.8 L576.3,193.9 L577.0,193.9 L577.6,193.9 L578.2,193.9 L578.8,193.9 L579.4,193.9 L580.1,193.9 L580.7,193.9 L581.3,193.9 L581.9,193.9 L582.5,194.0 L583.1,194.0 L583.8,194.0 L584.4,194.0 L585.0,194.0 L585.6,194.0 L586.2,194.0 L586.9,194.0 L587.5,194.0 L588.1,194.0 L588.7,194.0 L589.3,194.1 L590.0,194.1 L590.6,194.1 L591.2,194.1 L591.8,194.1 L592.4,194.1 L593.1,194.1 L593.7,194.1 L594.3,194.1 L594.9,194.1 L595.5,194.2 L596.2,194.2 L596.8,194.2 L597.4,194.2 L598.0,194.2 L598.6,194.2 L599.3,194.2 L599.9,194.2 L600.5,194.2 L601.1,194.2 L601.7,194.2 L602.4,194.3 L603.0,194.3 L603.6,194.3 L604.2,194.3 L604.8,194.3 L605.5,194.3 L606.1,194.3 L606.7,194.3 L607.3,194.3 L607.9,194.3 L608.6,194.4 L609.2,194.4 L609.8,194.4 L610.4,194.4 L611.0,194.4 L611.6,194.4 L612.3,194.4 L612.9,194.4 L613.5,194.4 L614.1,194.4 L614.7,194.4 L615.4,194.5 L616.0,194.5 L616.6,194.5 L617.2,194.5 L617.8,194.5 L618.5,194.5 L619.1,194.5 L619.7,194.5 L620.3,194.5 L620.9,194.5 L621.6,194.6 L622.2,194.6 L622.8,194.6 L622.8,194.6 L622.2,194.6 L621.6,194.6 L620.9,194.6 L620.3,194.6 L619.7,194.6 L619.1,194.5 L618.5,194.5 L617.8,194.5 L617.2,194.5 L616.6,194.5 L616.0,194.5 L615.4,194.5 L614.7,194.5 L614.1,194.5 L613.5,194.5 L612.9,194.5 L612.3,194.4 L611.6,194.4 L611.0,194.4 L610.4,194.4 L609.8,194.4 L609.2,194.4 L608.6,194.4 L607.9,194.4 L607.3,194.4 L606.7,194.4 L606.1,194.3 L605.5,194.3 L604.8,194.3 L604.2,194.3 L603.6,194.3 L603.0,194.3 L602.4,194.3 L601.7,194.3 L601.1,194.3 L600.5,194.3 L599.9,194.3 L599.3,194.2 L598.6,194.2 L598.0,194.2 L597.4,194.2 L596.8,194.2 L596.2,194.2 L595.5,194.2 L594.9,194.2 L594.3,194.2 L593.7,194.2 L593.1,194.2 L592.4,194.1 L591.8,194.1 L591.2,194.1 L590.6,194.1 L590.0,194.1 L589.3,194.1 L588.7,194.1 L588.1,194.1 L587.5,194.1 L586.9,194.1 L586.2,194.1 L585.6,194.0 L585.0,194.0 L584.4,194.0 L583.8,194.0 L583.1,194.0 L582.5,194.0 L581.9,194.0 L581.3,194.0 L580.7,194.0 L580.1,194.0 L579.4,194.0 L578.8,193.9 L578.2,193.9 L577.6,193.9 L577.0,193.9 L576.3,193.9 L575.7,193.9 L575.1,193.9 L574.5,193.9 L573.9,193.9 L573.2,193.9 L572.6,193.8 L572.0,193.8 L571.4,193.8 L570.8,193.8 L570.1,193.8 L569.5,193.8 L568.9,193.8 L568.3,193.8 L567.7,193.8 L567.0,193.8 L566.4,193.8 L565.8,193.7 L565.2,193.7 L564.6,193.7 L563.9,193.7 L563.3,193.7 L562.7,193.7 L562.1,193.7 L561.5,193.7 L560.8,193.7 L560.2,193.7 L559.6,193.7 L559.0,193.6 L558.4,193.6 L557.7,193.6 L557.1,193.6 L556.5,193.6 L555.9,193.6 L555.3,193.6 L554.6,193.6 L554.0,193.6 L553.4,193.6 L552.8,193.6 L552.2,193.5 L551.6,193.5 L550.9,193.5 L550.3,193.5 L549.7,193.5 L549.1,193.5 L548.5,193.5 L547.8,193.5 L547.2,193.5 L546.6,193.5 L546.0,193.5 L545.4,193.4 L544.7,193.4 L544.1,193.4 L543.5,193.4 L542.9,193.4 L542.3,193.4 L541.6,193.4 L541.0,193.4 L540.4,193.4 L539.8,193.4 L539.2,193.3 L538.5,193.3 L537.9,193.3 L537.3,193.3 L536.7,193.3 L536.1,193.3 L535.4,193.3 L534.8,193.3 L534.2,193.3 L533.6,193.3 L533.0,193.3 L532.3,193.2 L531.7,193.2 L531.1,193.2 L530.5,193.2 L529.9,193.2 L529.2,193.2 L528.6,193.2 L528.0,193.2 L527.4,193.2 L526.8,193.2 L526.2,193.2 L525.5,193.1 L524.9,193.1 L524.3,193.1 L523.7,193.1 L523.1,193.1 L522.4,193.1 L521.8,193.1 L521.2,193.1 L520.6,193.1 L520.0,193.1 L519.3,193.1 L518.7,193.0 L518.1,193.0 L517.5,193.0 L516.9,193.0 L516.2,193.0 L515.6,193.0 L515.0,193.0 L514.4,193.0 L513.8,193.0 L513.1,193.0 L512.5,192.9 L511.9,192.9 L511.3,192.9 L510.7,192.9 L510.0,192.9 L509.4,192.9 L508.8,192.9 L508.2,192.9 L507.6,192.9 L506.9,192.9 L506.3,192.9 L505.7,192.8 L505.1,192.8 L504.5,192.8 L503.8,192.8 L503.2,192.8 L502.6,192.8 L502.0,192.8 L501.4,192.8 L500.7,192.8 L500.1,192.8 L499.5,192.8 L498.9,192.7 L498.3,192.7 L497.7,192.7 L497.0,192.7 L496.4,192.7 L495.8,192.7 L495.2,192.7 L494.6,192.7 L493.9,192.7 L493.3,192.7 L492.7,192.7 L492.1,192.6 L491.5,192.6 L490.8,192.6 L490.2,192.6 L489.6,192.6 L489.0,192.6 L488.4,192.6 L487.7,192.6 L487.1,192.6 L486.5,192.6 L485.9,192.6 L485.3,192.5 L484.6,192.5 L484.0,192.5 L483.4,192.5 L482.8,192.5 L482.2,192.5 L481.5,192.5 L480.9,192.5 L480.3,192.5 L479.7,192.5 L479.1,192.4 L478.4,192.4 L477.8,192.4 L477.2,192.4 L476.6,192.4 L476.0,192.4 L475.3,192.4 L474.7,192.4 L474.1,192.4 L473.5,192.4 L472.9,192.4 L472.2,192.3 L471.6,192.3 L471.0,192.3 L470.4,192.3 L469.8,192.3 L469.2,192.3 L468.5,192.3 L467.9,192.3 L467.3,192.3 L466.7,192.3 L466.1,192.3 L465.4,192.2 L464.8,192.2 L464.2,192.2 L463.6,192.2 L463.0,192.2 L462.3,192.2 L461.7,192.2 L461.1,192.2 L460.5,192.2 L459.9,192.2 L459.2,192.2 L458.6,192.1 L458.0,192.1 L457.4,192.1 L456.8,192.1 L456.1,192.1 L455.5,192.1 L454.9,192.1 L454.3,192.1 L453.7,192.1 L453.0,192.1 L452.4,192.0 L451.8,192.0 L451.2,192.0 L450.6,192.0 L449.9,192.0 L449.3,192.0 L448.7,192.0 L448.1,192.0 L447.5,192.0 L446.8,192.0 L446.2,192.0 L445.6,191.9 L445.0,191.9 L444.4,191.9 L443.8,191.9 L443.1,191.9 L442.5,191.9 L441.9,191.9 L441.3,191.9 L440.7,191.9 L440.0,191.9 L439.4,191.9 L438.8,191.8 L438.2,191.8 L437.6,191.8 L436.9,191.8 L436.3,191.8 L435.7,191.8 L435.1,191.8 L434.5,191.8 L433.8,191.8 L433.2,191.8 L432.6,191.8 L432.0,191.7 L431.4,191.7 L430.7,191.7 L430.1,191.7 L429.5,191.7 L428.9,191.7 L428.3,191.7 L427.6,191.7 L427.0,191.7 L426.4,191.7 L425.8,191.7 L425.2,191.6 L424.5,191.6 L423.9,191.6 L423.3,191.6 L422.7,191.6 L422.1,191.6 L421.4,191.6 L420.8,191.6 L420.2,191.6 L419.6,191.6 L419.0,191.5 L418.3,191.5 L417.7,191.5 L417.1,191.5 L416.5,191.5 L415.9,191.5 L415.3,191.5 L414.6,191.5 L414.0,191.5 L413.4,191.5 L412.8,191.5 L412.2,191.4 L411.5,191.4 L410.9,191.4 L410.3,191.4 L409.7,191.4 L409.1,191.4 L408.4,191.4 L407.8,191.4 L407.2,191.4 L406.6,191.4 L406.0,191.4 L405.3,191.3 L404.7,191.3 L404.1,191.3 L403.5,191.3 L402.9,191.3 L402.2,191.3 L401.6,191.3 L401.0,191.3 L400.4,191.3 L399.8,191.3 L399.1,191.3 L398.5,191.2 L397.9,191.2 L397.3,191.2 L396.7,191.2 L396.0,191.2 L395.4,191.2 L394.8,191.2 L394.2,191.2 L393.6,191.2 L392.9,191.2 L392.3,191.2 L391.7,191.1 L391.1,191.1 L390.5,191.1 L389.8,191.1 L389.2,191.1 L388.6,191.1 L388.0,191.1 L387.4,191.1 L386.8,191.1 L386.1,191.1 L385.5,191.0 L384.9,191.0 L384.3,191.0 L383.7,191.0 L383.0,191.0 L382.4,191.0 L381.8,191.0 L381.2,191.0 L380.6,191.0 L379.9,191.0 L379.3,191.0 L378.7,190.9 L378.1,190.9 L377.5,190.9 L376.8,190.9 L376.2,190.9 L375.6,190.9 Z" fill="url(#gcP)" fill-opacity="1.0" stroke="none"/>
<path d="M375.6,190.8 L376.2,190.8 L376.8,190.8 L377.5,190.8 L378.1,190.8 L378.7,190.8 L379.3,190.8 L379.9,190.8 L380.6,190.8 L381.2,190.8 L381.8,190.8 L382.4,190.8 L383.0,190.8 L383.7,190.9 L384.3,190.9 L384.9,190.9 L385.5,190.9 L386.1,190.9 L386.8,190.9 L387.4,190.9 L388.0,190.9 L388.6,190.9 L389.2,190.9 L389.8,190.9 L390.5,190.9 L391.1,190.9 L391.7,190.9 L392.3,190.9 L392.9,190.9 L393.6,190.9 L394.2,190.9 L394.8,190.9 L395.4,191.0 L396.0,191.0 L396.7,191.0 L397.3,191.0 L397.9,191.0 L398.5,191.0 L399.1,191.0 L399.8,191.0 L400.4,191.0 L401.0,191.0 L401.6,191.0 L402.2,191.0 L402.9,191.0 L403.5,191.0 L404.1,191.0 L404.7,191.0 L405.3,191.0 L406.0,191.0 L406.6,191.0 L407.2,191.0 L407.8,191.0 L408.4,191.0 L409.1,191.0 L409.7,191.0 L410.3,190.9 L410.9,190.9 L411.5,190.9 L412.2,190.9 L412.8,190.9 L413.4,190.9 L414.0,190.8 L414.6,190.8 L415.3,190.8 L415.9,190.8 L416.5,190.7 L417.1,190.7 L417.7,190.7 L418.3,190.6 L419.0,190.6 L419.6,190.5 L420.2,190.4 L420.8,190.4 L421.4,190.3 L422.1,190.2 L422.7,190.1 L423.3,190.0 L423.9,189.9 L424.5,189.8 L425.2,189.7 L425.8,189.5 L426.4,189.4 L427.0,189.2 L427.6,189.1 L428.3,188.9 L428.9,188.7 L429.5,188.5 L430.1,188.3 L430.7,188.1 L431.4,187.9 L432.0,187.6 L432.6,187.4 L433.2,187.1 L433.8,186.9 L434.5,186.6 L435.1,186.3 L435.7,186.0 L436.3,185.7 L436.9,185.4 L437.6,185.1 L438.2,184.8 L438.8,184.4 L439.4,184.1 L440.0,183.8 L440.7,183.5 L441.3,183.1 L441.9,182.8 L442.5,182.5 L443.1,182.2 L443.8,181.9 L444.4,181.7 L445.0,181.4 L445.6,181.2 L446.2,180.9 L446.8,180.8 L447.5,180.6 L448.1,180.4 L448.7,180.3 L449.3,180.2 L449.9,180.2 L450.6,180.1 L451.2,180.1 L451.8,180.2 L452.4,180.2 L453.0,180.3 L453.7,180.5 L454.3,180.6 L454.9,180.8 L455.5,181.0 L456.1,181.2 L456.8,181.5 L457.4,181.8 L458.0,182.0 L458.6,182.3 L459.2,182.7 L459.9,183.0 L460.5,183.3 L461.1,183.6 L461.7,184.0 L462.3,184.3 L463.0,184.7 L463.6,185.0 L464.2,185.3 L464.8,185.7 L465.4,186.0 L466.1,186.3 L466.7,186.6 L467.3,187.0 L467.9,187.3 L468.5,187.6 L469.2,187.8 L469.8,188.1 L470.4,188.4 L471.0,188.6 L471.6,188.9 L472.2,189.1 L472.9,189.3 L473.5,189.5 L474.1,189.7 L474.7,189.9 L475.3,190.1 L476.0,190.2 L476.6,190.4 L477.2,190.5 L477.8,190.7 L478.4,190.8 L479.1,190.9 L479.7,191.0 L480.3,191.1 L480.9,191.2 L481.5,191.3 L482.2,191.4 L482.8,191.5 L483.4,191.6 L484.0,191.6 L484.6,191.7 L485.3,191.7 L485.9,191.8 L486.5,191.8 L487.1,191.9 L487.7,191.9 L488.4,192.0 L489.0,192.0 L489.6,192.1 L490.2,192.1 L490.8,192.1 L491.5,192.1 L492.1,192.2 L492.7,192.2 L493.3,192.2 L493.9,192.3 L494.6,192.3 L495.2,192.3 L495.8,192.3 L496.4,192.3 L497.0,192.4 L497.7,192.4 L498.3,192.4 L498.9,192.4 L499.5,192.4 L500.1,192.5 L500.7,192.5 L501.4,192.5 L502.0,192.5 L502.6,192.5 L503.2,192.5 L503.8,192.6 L504.5,192.6 L505.1,192.6 L505.7,192.6 L506.3,192.6 L506.9,192.6 L507.6,192.6 L508.2,192.7 L508.8,192.7 L509.4,192.7 L510.0,192.7 L510.7,192.7 L511.3,192.7 L511.9,192.7 L512.5,192.7 L513.1,192.8 L513.8,192.8 L514.4,192.8 L515.0,192.8 L515.6,192.8 L516.2,192.8 L516.9,192.8 L517.5,192.9 L518.1,192.9 L518.7,192.9 L519.3,192.9 L520.0,192.9 L520.6,192.9 L521.2,192.9 L521.8,192.9 L522.4,192.9 L523.1,193.0 L523.7,193.0 L524.3,193.0 L524.9,193.0 L525.5,193.0 L526.2,193.0 L526.8,193.0 L527.4,193.0 L528.0,193.1 L528.6,193.1 L529.2,193.1 L529.9,193.1 L530.5,193.1 L531.1,193.1 L531.7,193.1 L532.3,193.1 L533.0,193.1 L533.6,193.2 L534.2,193.2 L534.8,193.2 L535.4,193.2 L536.1,193.2 L536.7,193.2 L537.3,193.2 L537.9,193.2 L538.5,193.2 L539.2,193.2 L539.8,193.3 L540.4,193.3 L541.0,193.3 L541.6,193.3 L542.3,193.3 L542.9,193.3 L543.5,193.3 L544.1,193.3 L544.7,193.3 L545.4,193.4 L546.0,193.4 L546.6,193.4 L547.2,193.4 L547.8,193.4 L548.5,193.4 L549.1,193.4 L549.7,193.4 L550.3,193.4 L550.9,193.4 L551.6,193.5 L552.2,193.5 L552.8,193.5 L553.4,193.5 L554.0,193.5 L554.6,193.5 L555.3,193.5 L555.9,193.5 L556.5,193.5 L557.1,193.5 L557.7,193.6 L558.4,193.6 L559.0,193.6 L559.6,193.6 L560.2,193.6 L560.8,193.6 L561.5,193.6 L562.1,193.6 L562.7,193.6 L563.3,193.6 L563.9,193.7 L564.6,193.7 L565.2,193.7 L565.8,193.7 L566.4,193.7 L567.0,193.7 L567.7,193.7 L568.3,193.7 L568.9,193.7 L569.5,193.7 L570.1,193.8 L570.8,193.8 L571.4,193.8 L572.0,193.8 L572.6,193.8 L573.2,193.8 L573.9,193.8 L574.5,193.8 L575.1,193.8 L575.7,193.8 L576.3,193.9 L577.0,193.9 L577.6,193.9 L578.2,193.9 L578.8,193.9 L579.4,193.9 L580.1,193.9 L580.7,193.9 L581.3,193.9 L581.9,193.9 L582.5,194.0 L583.1,194.0 L583.8,194.0 L584.4,194.0 L585.0,194.0 L585.6,194.0 L586.2,194.0 L586.9,194.0 L587.5,194.0 L588.1,194.0 L588.7,194.0 L589.3,194.1 L590.0,194.1 L590.6,194.1 L591.2,194.1 L591.8,194.1 L592.4,194.1 L593.1,194.1 L593.7,194.1 L594.3,194.1 L594.9,194.1 L595.5,194.2 L596.2,194.2 L596.8,194.2 L597.4,194.2 L598.0,194.2 L598.6,194.2 L599.3,194.2 L599.9,194.2 L600.5,194.2 L601.1,194.2 L601.7,194.2 L602.4,194.3 L603.0,194.3 L603.6,194.3 L604.2,194.3 L604.8,194.3 L605.5,194.3 L606.1,194.3 L606.7,194.3 L607.3,194.3 L607.9,194.3 L608.6,194.4 L609.2,194.4 L609.8,194.4 L610.4,194.4 L611.0,194.4 L611.6,194.4 L612.3,194.4 L612.9,194.4 L613.5,194.4 L614.1,194.4 L614.7,194.4 L615.4,194.5 L616.0,194.5 L616.6,194.5 L617.2,194.5 L617.8,194.5 L618.5,194.5 L619.1,194.5 L619.7,194.5 L620.3,194.5 L620.9,194.5 L621.6,194.6 L622.2,194.6 L622.8,194.6" fill="none" stroke="#a57ddd" stroke-width="1.0" stroke-linejoin="round"/>
<line x1="375.60" y1="192.10" x2="622.80" y2="194.80" stroke="#4f7fe6" stroke-width="1.2" />
<line x1="375.60" y1="190.80" x2="622.80" y2="194.60" stroke="#b083e6" stroke-width="1.4" />
<rect x="375.6" y="21.0" width="247.19999999999993" height="185.2" fill="none" stroke="#222" stroke-width="1.6"/>
<line x1="375.60" y1="206.20" x2="375.60" y2="210.00" stroke="#222" stroke-width="1.3" />
<text x="375.60" y="223.20" font-size="14" fill="#222" stroke="#222" stroke-width="0.0" text-anchor="middle" >292</text>
<line x1="425.04" y1="206.20" x2="425.04" y2="210.00" stroke="#222" stroke-width="1.3" />
<text x="425.04" y="223.20" font-size="14" fill="#222" stroke="#222" stroke-width="0.0" text-anchor="middle" >290</text>
<line x1="474.48" y1="206.20" x2="474.48" y2="210.00" stroke="#222" stroke-width="1.3" />
<text x="474.48" y="223.20" font-size="14" fill="#222" stroke="#222" stroke-width="0.0" text-anchor="middle" >288</text>
<line x1="523.92" y1="206.20" x2="523.92" y2="210.00" stroke="#222" stroke-width="1.3" />
<text x="523.92" y="223.20" font-size="14" fill="#222" stroke="#222" stroke-width="0.0" text-anchor="middle" >286</text>
<line x1="573.36" y1="206.20" x2="573.36" y2="210.00" stroke="#222" stroke-width="1.3" />
<text x="573.36" y="223.20" font-size="14" fill="#222" stroke="#222" stroke-width="0.0" text-anchor="middle" >284</text>
<line x1="622.80" y1="206.20" x2="622.80" y2="210.00" stroke="#222" stroke-width="1.3" />
<text x="622.80" y="223.20" font-size="14" fill="#222" stroke="#222" stroke-width="0.0" text-anchor="middle" >282</text>
<text x="499.40" y="236.60" font-size="14.2" fill="#222" stroke="#222" stroke-width="0.0" text-anchor="middle" >Binding Energy (eV)</text>
<text x="0" y="0" font-size="14" fill="#222" stroke="#222" stroke-width="0.0" text-anchor="middle" dominant-baseline="central" transform="translate(363.80,106.00) rotate(-90)" >Intensity (a.u.)</text>
<text x="348.30" y="36.90" font-size="21.3" fill="#111" stroke="#111" stroke-width="0.0" text-anchor="start" >(c)</text>
<text x="599.6" y="33.0" font-size="12" letter-spacing="-0.45" fill="#222" stroke="#222" stroke-width="0.45">C 1s</text>
<text x="410.40" y="152.20" font-size="11.5" fill="#b48be6" stroke="#b48be6" stroke-width="0.0" text-anchor="start" >O=C-O</text>
<text x="410.00" y="165.80" font-size="11.5" fill="#b48be6" stroke="#b48be6" stroke-width="0.0" text-anchor="start" >(C-O-Ti)</text>
<line x1="430.00" y1="166.00" x2="445.28" y2="175.17" stroke="#b48be6" stroke-width="1.0" />
<path d="M450.00,178.00 L444.05,177.23 L446.52,173.11 Z" fill="#b48be6"/>
<text x="474.00" y="155.80" font-size="12" fill="#259052" stroke="#259052" stroke-width="0.0" text-anchor="start" >C-O</text>
<line x1="495.70" y1="153.00" x2="511.43" y2="160.45" stroke="#259052" stroke-width="1.1" />
<path d="M516.40,162.80 L510.40,162.62 L512.46,158.28 Z" fill="#259052"/>
<text x="485.20" y="105.20" font-size="12" fill="#f5a03c" stroke="#f5a03c" stroke-width="0.0" text-anchor="start" >C-OH</text>
<line x1="514.00" y1="104.50" x2="531.09" y2="117.22" stroke="#f5a03c" stroke-width="1.1" />
<path d="M535.50,120.50 L529.65,119.14 L532.52,115.29 Z" fill="#f5a03c"/>
<text x="577.00" y="76.60" font-size="12" fill="#5b8ae6" stroke="#5b8ae6" stroke-width="0.0" text-anchor="start" >C-C</text>
<line x1="577.00" y1="71.50" x2="564.39" y2="65.02" stroke="#5b8ae6" stroke-width="1.1" />
<path d="M559.50,62.50 L565.49,62.88 L563.29,67.15 Z" fill="#5b8ae6"/>
<path d="M377.4,412.0 L379.5,415.8 L381.5,418.4 L383.6,419.9 L385.7,419.1 L387.7,417.3 L389.8,415.8 L391.9,413.5 L394.0,413.4 L396.0,415.3 L398.1,417.0 L400.2,418.3 L402.2,419.3 L404.3,419.7 L406.4,420.3 L408.4,422.1 L410.5,421.0 L412.6,416.7 L414.7,412.9 L416.7,411.7 L418.8,411.4 L420.9,413.9 L422.9,417.1 L425.0,419.9 L427.1,418.9 L429.1,416.6 L431.2,413.7 L433.3,410.5 L435.4,407.9 L437.4,406.0 L439.5,404.3 L441.6,402.5 L443.6,400.4 L445.7,398.6 L447.8,395.7 L449.8,387.9 L451.9,375.9 L454.0,368.6 L456.1,367.0 L458.1,366.3 L460.2,365.7 L462.3,364.7 L464.3,362.6 L466.4,363.3 L468.5,366.0 L470.5,368.2 L472.6,369.2 L474.7,371.2 L476.8,376.6 L478.8,385.2 L480.9,396.0 L483.0,399.8 L485.0,402.7 L487.1,407.6 L489.2,414.6 L491.2,417.7 L493.3,418.5 L495.4,417.7 L497.5,415.9 L499.5,413.7 L501.6,412.4 L503.7,411.8 L505.7,410.9 L507.8,409.0 L509.9,405.8 L511.9,399.1 L514.0,392.4 L516.1,387.5 L518.2,383.5 L520.2,377.0 L522.3,368.6 L524.4,357.1 L526.4,348.8 L528.5,341.8 L530.6,329.1 L532.6,315.1 L534.7,296.9 L536.8,286.5 L538.9,285.8 L540.9,286.4 L543.0,291.0 L545.1,302.1 L547.1,316.0 L549.2,331.0 L551.3,347.7 L553.3,360.6 L555.4,372.4 L557.5,378.9 L559.6,383.2 L561.6,387.3 L563.7,391.2 L565.8,396.3 L567.8,401.5 L569.9,404.4 L572.0,407.0 L574.0,409.8 L576.1,412.1 L578.2,413.9 L580.3,415.1 L582.3,415.9 L584.4,416.4 L586.5,417.2 L588.5,418.1 L590.6,419.5 L592.7,421.6 L594.7,423.9 L596.8,426.0 L598.9,425.3 L601.0,423.8 L603.0,422.1 L605.1,420.3 L607.2,420.2 L609.2,420.9 L611.3,420.7 L613.4,419.4 L615.4,418.1 L617.5,416.5 L619.6,412.9 L621.7,409.1" stroke="#4686cf" stroke-width="1.1" fill="none" stroke-linejoin="round" stroke-linecap="round" />
<circle cx="377.4" cy="412.0" r="1.9" fill="#c2d9f1" stroke="#4686cf" stroke-width="0.95"/>
<circle cx="379.5" cy="415.8" r="1.9" fill="#c2d9f1" stroke="#4686cf" stroke-width="0.95"/>
<circle cx="381.5" cy="418.4" r="1.9" fill="#c2d9f1" stroke="#4686cf" stroke-width="0.95"/>
<circle cx="383.6" cy="419.9" r="1.9" fill="#c2d9f1" stroke="#4686cf" stroke-width="0.95"/>
<circle cx="385.7" cy="419.1" r="1.9" fill="#c2d9f1" stroke="#4686cf" stroke-width="0.95"/>
<circle cx="387.7" cy="417.3" r="1.9" fill="#c2d9f1" stroke="#4686cf" stroke-width="0.95"/>
<circle cx="389.8" cy="415.8" r="1.9" fill="#c2d9f1" stroke="#4686cf" stroke-width="0.95"/>
<circle cx="391.9" cy="413.5" r="1.9" fill="#c2d9f1" stroke="#4686cf" stroke-width="0.95"/>
<circle cx="394.0" cy="413.4" r="1.9" fill="#c2d9f1" stroke="#4686cf" stroke-width="0.95"/>
<circle cx="396.0" cy="415.3" r="1.9" fill="#c2d9f1" stroke="#4686cf" stroke-width="0.95"/>
<circle cx="398.1" cy="417.0" r="1.9" fill="#c2d9f1" stroke="#4686cf" stroke-width="0.95"/>
<circle cx="400.2" cy="418.3" r="1.9" fill="#c2d9f1" stroke="#4686cf" stroke-width="0.95"/>
<circle cx="402.2" cy="419.3" r="1.9" fill="#c2d9f1" stroke="#4686cf" stroke-width="0.95"/>
<circle cx="404.3" cy="419.7" r="1.9" fill="#c2d9f1" stroke="#4686cf" stroke-width="0.95"/>
<circle cx="406.4" cy="420.3" r="1.9" fill="#c2d9f1" stroke="#4686cf" stroke-width="0.95"/>
<circle cx="408.4" cy="422.1" r="1.9" fill="#c2d9f1" stroke="#4686cf" stroke-width="0.95"/>
<circle cx="410.5" cy="421.0" r="1.9" fill="#c2d9f1" stroke="#4686cf" stroke-width="0.95"/>
<circle cx="412.6" cy="416.7" r="1.9" fill="#c2d9f1" stroke="#4686cf" stroke-width="0.95"/>
<circle cx="414.7" cy="412.9" r="1.9" fill="#c2d9f1" stroke="#4686cf" stroke-width="0.95"/>
<circle cx="416.7" cy="411.7" r="1.9" fill="#c2d9f1" stroke="#4686cf" stroke-width="0.95"/>
<circle cx="418.8" cy="411.4" r="1.9" fill="#c2d9f1" stroke="#4686cf" stroke-width="0.95"/>
<circle cx="420.9" cy="413.9" r="1.9" fill="#c2d9f1" stroke="#4686cf" stroke-width="0.95"/>
<circle cx="422.9" cy="417.1" r="1.9" fill="#c2d9f1" stroke="#4686cf" stroke-width="0.95"/>
<circle cx="425.0" cy="419.9" r="1.9" fill="#c2d9f1" stroke="#4686cf" stroke-width="0.95"/>
<circle cx="427.1" cy="418.9" r="1.9" fill="#c2d9f1" stroke="#4686cf" stroke-width="0.95"/>
<circle cx="429.1" cy="416.6" r="1.9" fill="#c2d9f1" stroke="#4686cf" stroke-width="0.95"/>
<circle cx="431.2" cy="413.7" r="1.9" fill="#c2d9f1" stroke="#4686cf" stroke-width="0.95"/>
<circle cx="433.3" cy="410.5" r="1.9" fill="#c2d9f1" stroke="#4686cf" stroke-width="0.95"/>
<circle cx="435.4" cy="407.9" r="1.9" fill="#c2d9f1" stroke="#4686cf" stroke-width="0.95"/>
<circle cx="437.4" cy="406.0" r="1.9" fill="#c2d9f1" stroke="#4686cf" stroke-width="0.95"/>
<circle cx="439.5" cy="404.3" r="1.9" fill="#c2d9f1" stroke="#4686cf" stroke-width="0.95"/>
<circle cx="441.6" cy="402.5" r="1.9" fill="#c2d9f1" stroke="#4686cf" stroke-width="0.95"/>
<circle cx="443.6" cy="400.4" r="1.9" fill="#c2d9f1" stroke="#4686cf" stroke-width="0.95"/>
<circle cx="445.7" cy="398.6" r="1.9" fill="#c2d9f1" stroke="#4686cf" stroke-width="0.95"/>
<circle cx="447.8" cy="395.7" r="1.9" fill="#c2d9f1" stroke="#4686cf" stroke-width="0.95"/>
<circle cx="449.8" cy="387.9" r="1.9" fill="#c2d9f1" stroke="#4686cf" stroke-width="0.95"/>
<circle cx="451.9" cy="375.9" r="1.9" fill="#c2d9f1" stroke="#4686cf" stroke-width="0.95"/>
<circle cx="454.0" cy="368.6" r="1.9" fill="#c2d9f1" stroke="#4686cf" stroke-width="0.95"/>
<circle cx="456.1" cy="367.0" r="1.9" fill="#c2d9f1" stroke="#4686cf" stroke-width="0.95"/>
<circle cx="458.1" cy="366.3" r="1.9" fill="#c2d9f1" stroke="#4686cf" stroke-width="0.95"/>
<circle cx="460.2" cy="365.7" r="1.9" fill="#c2d9f1" stroke="#4686cf" stroke-width="0.95"/>
<circle cx="462.3" cy="364.7" r="1.9" fill="#c2d9f1" stroke="#4686cf" stroke-width="0.95"/>
<circle cx="464.3" cy="362.6" r="1.9" fill="#c2d9f1" stroke="#4686cf" stroke-width="0.95"/>
<circle cx="466.4" cy="363.3" r="1.9" fill="#c2d9f1" stroke="#4686cf" stroke-width="0.95"/>
<circle cx="468.5" cy="366.0" r="1.9" fill="#c2d9f1" stroke="#4686cf" stroke-width="0.95"/>
<circle cx="470.5" cy="368.2" r="1.9" fill="#c2d9f1" stroke="#4686cf" stroke-width="0.95"/>
<circle cx="472.6" cy="369.2" r="1.9" fill="#c2d9f1" stroke="#4686cf" stroke-width="0.95"/>
<circle cx="474.7" cy="371.2" r="1.9" fill="#c2d9f1" stroke="#4686cf" stroke-width="0.95"/>
<circle cx="476.8" cy="376.6" r="1.9" fill="#c2d9f1" stroke="#4686cf" stroke-width="0.95"/>
<circle cx="478.8" cy="385.2" r="1.9" fill="#c2d9f1" stroke="#4686cf" stroke-width="0.95"/>
<circle cx="480.9" cy="396.0" r="1.9" fill="#c2d9f1" stroke="#4686cf" stroke-width="0.95"/>
<circle cx="483.0" cy="399.8" r="1.9" fill="#c2d9f1" stroke="#4686cf" stroke-width="0.95"/>
<circle cx="485.0" cy="402.7" r="1.9" fill="#c2d9f1" stroke="#4686cf" stroke-width="0.95"/>
<circle cx="487.1" cy="407.6" r="1.9" fill="#c2d9f1" stroke="#4686cf" stroke-width="0.95"/>
<circle cx="489.2" cy="414.6" r="1.9" fill="#c2d9f1" stroke="#4686cf" stroke-width="0.95"/>
<circle cx="491.2" cy="417.7" r="1.9" fill="#c2d9f1" stroke="#4686cf" stroke-width="0.95"/>
<circle cx="493.3" cy="418.5" r="1.9" fill="#c2d9f1" stroke="#4686cf" stroke-width="0.95"/>
<circle cx="495.4" cy="417.7" r="1.9" fill="#c2d9f1" stroke="#4686cf" stroke-width="0.95"/>
<circle cx="497.5" cy="415.9" r="1.9" fill="#c2d9f1" stroke="#4686cf" stroke-width="0.95"/>
<circle cx="499.5" cy="413.7" r="1.9" fill="#c2d9f1" stroke="#4686cf" stroke-width="0.95"/>
<circle cx="501.6" cy="412.4" r="1.9" fill="#c2d9f1" stroke="#4686cf" stroke-width="0.95"/>
<circle cx="503.7" cy="411.8" r="1.9" fill="#c2d9f1" stroke="#4686cf" stroke-width="0.95"/>
<circle cx="505.7" cy="410.9" r="1.9" fill="#c2d9f1" stroke="#4686cf" stroke-width="0.95"/>
<circle cx="507.8" cy="409.0" r="1.9" fill="#c2d9f1" stroke="#4686cf" stroke-width="0.95"/>
<circle cx="509.9" cy="405.8" r="1.9" fill="#c2d9f1" stroke="#4686cf" stroke-width="0.95"/>
<circle cx="511.9" cy="399.1" r="1.9" fill="#c2d9f1" stroke="#4686cf" stroke-width="0.95"/>
<circle cx="514.0" cy="392.4" r="1.9" fill="#c2d9f1" stroke="#4686cf" stroke-width="0.95"/>
<circle cx="516.1" cy="387.5" r="1.9" fill="#c2d9f1" stroke="#4686cf" stroke-width="0.95"/>
<circle cx="518.2" cy="383.5" r="1.9" fill="#c2d9f1" stroke="#4686cf" stroke-width="0.95"/>
<circle cx="520.2" cy="377.0" r="1.9" fill="#c2d9f1" stroke="#4686cf" stroke-width="0.95"/>
<circle cx="522.3" cy="368.6" r="1.9" fill="#c2d9f1" stroke="#4686cf" stroke-width="0.95"/>
<circle cx="524.4" cy="357.1" r="1.9" fill="#c2d9f1" stroke="#4686cf" stroke-width="0.95"/>
<circle cx="526.4" cy="348.8" r="1.9" fill="#c2d9f1" stroke="#4686cf" stroke-width="0.95"/>
<circle cx="528.5" cy="341.8" r="1.9" fill="#c2d9f1" stroke="#4686cf" stroke-width="0.95"/>
<circle cx="530.6" cy="329.1" r="1.9" fill="#c2d9f1" stroke="#4686cf" stroke-width="0.95"/>
<circle cx="532.6" cy="315.1" r="1.9" fill="#c2d9f1" stroke="#4686cf" stroke-width="0.95"/>
<circle cx="534.7" cy="296.9" r="1.9" fill="#c2d9f1" stroke="#4686cf" stroke-width="0.95"/>
<circle cx="536.8" cy="286.5" r="1.9" fill="#c2d9f1" stroke="#4686cf" stroke-width="0.95"/>
<circle cx="538.9" cy="285.8" r="1.9" fill="#c2d9f1" stroke="#4686cf" stroke-width="0.95"/>
<circle cx="540.9" cy="286.4" r="1.9" fill="#c2d9f1" stroke="#4686cf" stroke-width="0.95"/>
<circle cx="543.0" cy="291.0" r="1.9" fill="#c2d9f1" stroke="#4686cf" stroke-width="0.95"/>
<circle cx="545.1" cy="302.1" r="1.9" fill="#c2d9f1" stroke="#4686cf" stroke-width="0.95"/>
<circle cx="547.1" cy="316.0" r="1.9" fill="#c2d9f1" stroke="#4686cf" stroke-width="0.95"/>
<circle cx="549.2" cy="331.0" r="1.9" fill="#c2d9f1" stroke="#4686cf" stroke-width="0.95"/>
<circle cx="551.3" cy="347.7" r="1.9" fill="#c2d9f1" stroke="#4686cf" stroke-width="0.95"/>
<circle cx="553.3" cy="360.6" r="1.9" fill="#c2d9f1" stroke="#4686cf" stroke-width="0.95"/>
<circle cx="555.4" cy="372.4" r="1.9" fill="#c2d9f1" stroke="#4686cf" stroke-width="0.95"/>
<circle cx="557.5" cy="378.9" r="1.9" fill="#c2d9f1" stroke="#4686cf" stroke-width="0.95"/>
<circle cx="559.6" cy="383.2" r="1.9" fill="#c2d9f1" stroke="#4686cf" stroke-width="0.95"/>
<circle cx="561.6" cy="387.3" r="1.9" fill="#c2d9f1" stroke="#4686cf" stroke-width="0.95"/>
<circle cx="563.7" cy="391.2" r="1.9" fill="#c2d9f1" stroke="#4686cf" stroke-width="0.95"/>
<circle cx="565.8" cy="396.3" r="1.9" fill="#c2d9f1" stroke="#4686cf" stroke-width="0.95"/>
<circle cx="567.8" cy="401.5" r="1.9" fill="#c2d9f1" stroke="#4686cf" stroke-width="0.95"/>
<circle cx="569.9" cy="404.4" r="1.9" fill="#c2d9f1" stroke="#4686cf" stroke-width="0.95"/>
<circle cx="572.0" cy="407.0" r="1.9" fill="#c2d9f1" stroke="#4686cf" stroke-width="0.95"/>
<circle cx="574.0" cy="409.8" r="1.9" fill="#c2d9f1" stroke="#4686cf" stroke-width="0.95"/>
<circle cx="576.1" cy="412.1" r="1.9" fill="#c2d9f1" stroke="#4686cf" stroke-width="0.95"/>
<circle cx="578.2" cy="413.9" r="1.9" fill="#c2d9f1" stroke="#4686cf" stroke-width="0.95"/>
<circle cx="580.3" cy="415.1" r="1.9" fill="#c2d9f1" stroke="#4686cf" stroke-width="0.95"/>
<circle cx="582.3" cy="415.9" r="1.9" fill="#c2d9f1" stroke="#4686cf" stroke-width="0.95"/>
<circle cx="584.4" cy="416.4" r="1.9" fill="#c2d9f1" stroke="#4686cf" stroke-width="0.95"/>
<circle cx="586.5" cy="417.2" r="1.9" fill="#c2d9f1" stroke="#4686cf" stroke-width="0.95"/>
<circle cx="588.5" cy="418.1" r="1.9" fill="#c2d9f1" stroke="#4686cf" stroke-width="0.95"/>
<circle cx="590.6" cy="419.5" r="1.9" fill="#c2d9f1" stroke="#4686cf" stroke-width="0.95"/>
<circle cx="592.7" cy="421.6" r="1.9" fill="#c2d9f1" stroke="#4686cf" stroke-width="0.95"/>
<circle cx="594.7" cy="423.9" r="1.9" fill="#c2d9f1" stroke="#4686cf" stroke-width="0.95"/>
<circle cx="596.8" cy="426.0" r="1.9" fill="#c2d9f1" stroke="#4686cf" stroke-width="0.95"/>
<circle cx="598.9" cy="425.3" r="1.9" fill="#c2d9f1" stroke="#4686cf" stroke-width="0.95"/>
<circle cx="601.0" cy="423.8" r="1.9" fill="#c2d9f1" stroke="#4686cf" stroke-width="0.95"/>
<circle cx="603.0" cy="422.1" r="1.9" fill="#c2d9f1" stroke="#4686cf" stroke-width="0.95"/>
<circle cx="605.1" cy="420.3" r="1.9" fill="#c2d9f1" stroke="#4686cf" stroke-width="0.95"/>
<circle cx="607.2" cy="420.2" r="1.9" fill="#c2d9f1" stroke="#4686cf" stroke-width="0.95"/>
<circle cx="609.2" cy="420.9" r="1.9" fill="#c2d9f1" stroke="#4686cf" stroke-width="0.95"/>
<circle cx="611.3" cy="420.7" r="1.9" fill="#c2d9f1" stroke="#4686cf" stroke-width="0.95"/>
<circle cx="613.4" cy="419.4" r="1.9" fill="#c2d9f1" stroke="#4686cf" stroke-width="0.95"/>
<circle cx="615.4" cy="418.1" r="1.9" fill="#c2d9f1" stroke="#4686cf" stroke-width="0.95"/>
<circle cx="617.5" cy="416.5" r="1.9" fill="#c2d9f1" stroke="#4686cf" stroke-width="0.95"/>
<circle cx="619.6" cy="412.9" r="1.9" fill="#c2d9f1" stroke="#4686cf" stroke-width="0.95"/>
<circle cx="621.7" cy="409.1" r="1.9" fill="#c2d9f1" stroke="#4686cf" stroke-width="0.95"/>
<path d="M376.4,412.7 L377.0,412.7 L377.6,412.7 L378.3,412.7 L378.9,412.7 L379.5,412.7 L380.1,412.7 L380.7,412.7 L381.4,412.7 L382.0,412.7 L382.6,412.7 L383.2,412.7 L383.8,412.7 L384.5,412.7 L385.1,412.7 L385.7,412.7 L386.3,412.6 L386.9,412.6 L387.6,412.6 L388.2,412.6 L388.8,412.6 L389.4,412.6 L390.0,412.6 L390.6,412.6 L391.3,412.6 L391.9,412.6 L392.5,412.6 L393.1,412.6 L393.7,412.6 L394.4,412.6 L395.0,412.6 L395.6,412.6 L396.2,412.6 L396.8,412.6 L397.5,412.6 L398.1,412.6 L398.7,412.5 L399.3,412.5 L399.9,412.5 L400.6,412.5 L401.2,412.5 L401.8,412.5 L402.4,412.5 L403.0,412.5 L403.7,412.5 L404.3,412.5 L404.9,412.5 L405.5,412.5 L406.1,412.5 L406.8,412.5 L407.4,412.5 L408.0,412.5 L408.6,412.5 L409.2,412.4 L409.9,412.4 L410.5,412.4 L411.1,412.4 L411.7,412.4 L412.3,412.4 L413.0,412.4 L413.6,412.4 L414.2,412.4 L414.8,412.4 L415.4,412.4 L416.1,412.4 L416.7,412.4 L417.3,412.4 L417.9,412.4 L418.5,412.3 L419.1,412.3 L419.8,412.3 L420.4,412.3 L421.0,412.3 L421.6,412.3 L422.2,412.3 L422.9,412.3 L423.5,412.3 L424.1,412.3 L424.7,412.3 L425.3,412.3 L426.0,412.3 L426.6,412.2 L427.2,412.2 L427.8,412.2 L428.4,412.2 L429.1,412.2 L429.7,412.2 L430.3,412.2 L430.9,412.2 L431.5,412.2 L432.2,412.2 L432.8,412.2 L433.4,412.1 L434.0,412.1 L434.6,412.1 L435.3,412.1 L435.9,412.1 L436.5,412.1 L437.1,412.1 L437.7,412.1 L438.4,412.1 L439.0,412.1 L439.6,412.0 L440.2,412.0 L440.8,412.0 L441.5,412.0 L442.1,412.0 L442.7,412.0 L443.3,412.0 L443.9,412.0 L444.6,411.9 L445.2,411.9 L445.8,411.9 L446.4,411.9 L447.0,411.9 L447.6,411.9 L448.3,411.9 L448.9,411.8 L449.5,411.8 L450.1,411.8 L450.7,411.8 L451.4,411.8 L452.0,411.8 L452.6,411.8 L453.2,411.7 L453.8,411.7 L454.5,411.7 L455.1,411.7 L455.7,411.7 L456.3,411.7 L456.9,411.6 L457.6,411.6 L458.2,411.6 L458.8,411.6 L459.4,411.6 L460.0,411.5 L460.7,411.5 L461.3,411.5 L461.9,411.5 L462.5,411.5 L463.1,411.4 L463.8,411.4 L464.4,411.4 L465.0,411.4 L465.6,411.3 L466.2,411.3 L466.9,411.3 L467.5,411.3 L468.1,411.2 L468.7,411.2 L469.3,411.2 L470.0,411.2 L470.6,411.1 L471.2,411.1 L471.8,411.1 L472.4,411.0 L473.0,411.0 L473.7,411.0 L474.3,410.9 L474.9,410.9 L475.5,410.9 L476.1,410.8 L476.8,410.8 L477.4,410.7 L478.0,410.7 L478.6,410.7 L479.2,410.6 L479.9,410.6 L480.5,410.5 L481.1,410.5 L481.7,410.4 L482.3,410.4 L483.0,410.3 L483.6,410.3 L484.2,410.2 L484.8,410.2 L485.4,410.1 L486.1,410.1 L486.7,410.0 L487.3,409.9 L487.9,409.9 L488.5,409.8 L489.2,409.7 L489.8,409.7 L490.4,409.6 L491.0,409.5 L491.6,409.4 L492.3,409.3 L492.9,409.3 L493.5,409.2 L494.1,409.1 L494.7,409.0 L495.4,408.9 L496.0,408.8 L496.6,408.7 L497.2,408.5 L497.8,408.4 L498.5,408.3 L499.1,408.2 L499.7,408.0 L500.3,407.9 L500.9,407.8 L501.5,407.6 L502.2,407.4 L502.8,407.3 L503.4,407.1 L504.0,406.9 L504.6,406.7 L505.3,406.5 L505.9,406.3 L506.5,406.1 L507.1,405.8 L507.7,405.6 L508.4,405.3 L509.0,405.0 L509.6,404.7 L510.2,404.4 L510.8,404.0 L511.5,403.6 L512.1,403.2 L512.7,402.8 L513.3,402.3 L513.9,401.8 L514.6,401.2 L515.2,400.5 L515.8,399.8 L516.4,399.1 L517.0,398.2 L517.7,397.3 L518.3,396.3 L518.9,395.1 L519.5,393.9 L520.1,392.5 L520.8,391.0 L521.4,389.3 L522.0,387.5 L522.6,385.5 L523.2,383.3 L523.9,380.9 L524.5,378.3 L525.1,375.5 L525.7,372.4 L526.3,369.2 L527.0,365.6 L527.6,361.9 L528.2,357.9 L528.8,353.7 L529.4,349.3 L530.0,344.7 L530.7,339.9 L531.3,335.0 L531.9,330.0 L532.5,324.9 L533.1,319.8 L533.8,314.8 L534.4,309.9 L535.0,305.3 L535.6,301.0 L536.2,297.1 L536.9,293.8 L537.5,291.2 L538.1,289.3 L538.7,288.2 L539.3,288.0 L540.0,288.5 L540.6,289.6 L541.2,291.3 L541.8,293.6 L542.4,296.4 L543.1,299.7 L543.7,303.3 L544.3,307.2 L544.9,311.4 L545.5,315.7 L546.2,320.1 L546.8,324.5 L547.4,329.0 L548.0,333.4 L548.6,337.8 L549.3,342.0 L549.9,346.2 L550.5,350.1 L551.1,354.0 L551.7,357.6 L552.4,361.1 L553.0,364.5 L553.6,367.6 L554.2,370.6 L554.8,373.4 L555.4,376.0 L556.1,378.4 L556.7,380.7 L557.3,382.8 L557.9,384.8 L558.5,386.6 L559.2,388.2 L559.8,389.8 L560.4,391.2 L561.0,392.5 L561.6,393.7 L562.3,394.8 L562.9,395.8 L563.5,396.8 L564.1,397.6 L564.7,398.4 L565.4,399.1 L566.0,399.8 L566.6,400.4 L567.2,400.9 L567.8,401.4 L568.5,401.9 L569.1,402.3 L569.7,402.8 L570.3,403.1 L570.9,403.5 L571.6,403.8 L572.2,404.1 L572.8,404.4 L573.4,404.7 L574.0,404.9 L574.7,405.2 L575.3,405.4 L575.9,405.6 L576.5,405.8 L577.1,406.0 L577.8,406.2 L578.4,406.4 L579.0,406.6 L579.6,406.7 L580.2,406.9 L580.9,407.0 L581.5,407.2 L582.1,407.3 L582.7,407.5 L583.3,407.6 L583.9,407.7 L584.6,407.8 L585.2,407.9 L585.8,408.0 L586.4,408.1 L587.0,408.2 L587.7,408.3 L588.3,408.4 L588.9,408.5 L589.5,408.6 L590.1,408.7 L590.8,408.8 L591.4,408.8 L592.0,408.9 L592.6,409.0 L593.2,409.1 L593.9,409.1 L594.5,409.2 L595.1,409.3 L595.7,409.3 L596.3,409.4 L597.0,409.4 L597.6,409.5 L598.2,409.6 L598.8,409.6 L599.4,409.7 L600.1,409.7 L600.7,409.8 L601.3,409.8 L601.9,409.8 L602.5,409.9 L603.2,409.9 L603.8,410.0 L604.4,410.0 L605.0,410.0 L605.6,410.1 L606.3,410.1 L606.9,410.2 L607.5,410.2 L608.1,410.2 L608.7,410.3 L609.4,410.3 L610.0,410.3 L610.6,410.4 L611.2,410.4 L611.8,410.4 L612.4,410.4 L613.1,410.5 L613.7,410.5 L614.3,410.5 L614.9,410.5 L615.5,410.6 L616.2,410.6 L616.8,410.6 L617.4,410.6 L618.0,410.7 L618.6,410.7 L619.3,410.7 L619.9,410.7 L620.5,410.7 L621.1,410.8 L621.7,410.8 L622.4,410.8 L623.0,410.8 L623.6,410.8 L623.6,412.2 L623.0,412.2 L622.4,412.2 L621.7,412.2 L621.1,412.2 L620.5,412.2 L619.9,412.2 L619.3,412.2 L618.6,412.2 L618.0,412.2 L617.4,412.2 L616.8,412.2 L616.2,412.2 L615.5,412.2 L614.9,412.2 L614.3,412.2 L613.7,412.2 L613.1,412.2 L612.4,412.2 L611.8,412.2 L611.2,412.2 L610.6,412.2 L610.0,412.2 L609.4,412.2 L608.7,412.2 L608.1,412.3 L607.5,412.3 L606.9,412.3 L606.3,412.3 L605.6,412.3 L605.0,412.3 L604.4,412.3 L603.8,412.3 L603.2,412.3 L602.5,412.3 L601.9,412.3 L601.3,412.3 L600.7,412.3 L600.1,412.3 L599.4,412.3 L598.8,412.3 L598.2,412.3 L597.6,412.3 L597.0,412.3 L596.3,412.3 L595.7,412.3 L595.1,412.3 L594.5,412.3 L593.9,412.3 L593.2,412.3 L592.6,412.3 L592.0,412.3 L591.4,412.3 L590.8,412.3 L590.1,412.3 L589.5,412.3 L588.9,412.3 L588.3,412.3 L587.7,412.3 L587.0,412.3 L586.4,412.3 L585.8,412.3 L585.2,412.3 L584.6,412.3 L583.9,412.3 L583.3,412.3 L582.7,412.3 L582.1,412.3 L581.5,412.3 L580.9,412.3 L580.2,412.3 L579.6,412.3 L579.0,412.3 L578.4,412.3 L577.8,412.3 L577.1,412.4 L576.5,412.4 L575.9,412.4 L575.3,412.4 L574.7,412.4 L574.0,412.4 L573.4,412.4 L572.8,412.4 L572.2,412.4 L571.6,412.4 L570.9,412.4 L570.3,412.4 L569.7,412.4 L569.1,412.4 L568.5,412.4 L567.8,412.4 L567.2,412.4 L566.6,412.4 L566.0,412.4 L565.4,412.4 L564.7,412.4 L564.1,412.4 L563.5,412.4 L562.9,412.4 L562.3,412.4 L561.6,412.4 L561.0,412.4 L560.4,412.4 L559.8,412.4 L559.2,412.4 L558.5,412.4 L557.9,412.4 L557.3,412.4 L556.7,412.4 L556.1,412.4 L555.4,412.4 L554.8,412.4 L554.2,412.4 L553.6,412.4 L553.0,412.4 L552.4,412.4 L551.7,412.4 L551.1,412.4 L550.5,412.4 L549.9,412.4 L549.3,412.4 L548.6,412.4 L548.0,412.4 L547.4,412.4 L546.8,412.4 L546.2,412.5 L545.5,412.5 L544.9,412.5 L544.3,412.5 L543.7,412.5 L543.1,412.5 L542.4,412.5 L541.8,412.5 L541.2,412.5 L540.6,412.5 L540.0,412.5 L539.3,412.5 L538.7,412.5 L538.1,412.5 L537.5,412.5 L536.9,412.5 L536.2,412.5 L535.6,412.5 L535.0,412.5 L534.4,412.5 L533.8,412.5 L533.1,412.5 L532.5,412.5 L531.9,412.5 L531.3,412.5 L530.7,412.5 L530.0,412.5 L529.4,412.5 L528.8,412.5 L528.2,412.5 L527.6,412.5 L527.0,412.5 L526.3,412.5 L525.7,412.5 L525.1,412.5 L524.5,412.5 L523.9,412.5 L523.2,412.5 L522.6,412.5 L522.0,412.5 L521.4,412.5 L520.8,412.5 L520.1,412.5 L519.5,412.5 L518.9,412.5 L518.3,412.5 L517.7,412.5 L517.0,412.5 L516.4,412.5 L515.8,412.5 L515.2,412.6 L514.6,412.6 L513.9,412.6 L513.3,412.6 L512.7,412.6 L512.1,412.6 L511.5,412.6 L510.8,412.6 L510.2,412.6 L509.6,412.6 L509.0,412.6 L508.4,412.6 L507.7,412.6 L507.1,412.6 L506.5,412.6 L505.9,412.6 L505.3,412.6 L504.6,412.6 L504.0,412.6 L503.4,412.6 L502.8,412.6 L502.2,412.6 L501.5,412.6 L500.9,412.6 L500.3,412.6 L499.7,412.6 L499.1,412.6 L498.5,412.6 L497.8,412.6 L497.2,412.6 L496.6,412.6 L496.0,412.6 L495.4,412.6 L494.7,412.6 L494.1,412.6 L493.5,412.6 L492.9,412.6 L492.3,412.6 L491.6,412.6 L491.0,412.6 L490.4,412.6 L489.8,412.6 L489.2,412.6 L488.5,412.6 L487.9,412.6 L487.3,412.6 L486.7,412.6 L486.1,412.6 L485.4,412.6 L484.8,412.6 L484.2,412.7 L483.6,412.7 L483.0,412.7 L482.3,412.7 L481.7,412.7 L481.1,412.7 L480.5,412.7 L479.9,412.7 L479.2,412.7 L478.6,412.7 L478.0,412.7 L477.4,412.7 L476.8,412.7 L476.1,412.7 L475.5,412.7 L474.9,412.7 L474.3,412.7 L473.7,412.7 L473.0,412.7 L472.4,412.7 L471.8,412.7 L471.2,412.7 L470.6,412.7 L470.0,412.7 L469.3,412.7 L468.7,412.7 L468.1,412.7 L467.5,412.7 L466.9,412.7 L466.2,412.7 L465.6,412.7 L465.0,412.7 L464.4,412.7 L463.8,412.7 L463.1,412.7 L462.5,412.7 L461.9,412.7 L461.3,412.7 L460.7,412.7 L460.0,412.7 L459.4,412.7 L458.8,412.7 L458.2,412.7 L457.6,412.7 L456.9,412.7 L456.3,412.7 L455.7,412.7 L455.1,412.7 L454.5,412.7 L453.8,412.7 L453.2,412.8 L452.6,412.8 L452.0,412.8 L451.4,412.8 L450.7,412.8 L450.1,412.8 L449.5,412.8 L448.9,412.8 L448.3,412.8 L447.6,412.8 L447.0,412.8 L446.4,412.8 L445.8,412.8 L445.2,412.8 L444.6,412.8 L443.9,412.8 L443.3,412.8 L442.7,412.8 L442.1,412.8 L441.5,412.8 L440.8,412.8 L440.2,412.8 L439.6,412.8 L439.0,412.8 L438.4,412.8 L437.7,412.8 L437.1,412.8 L436.5,412.8 L435.9,412.8 L435.3,412.8 L434.6,412.8 L434.0,412.8 L433.4,412.8 L432.8,412.8 L432.2,412.8 L431.5,412.8 L430.9,412.8 L430.3,412.8 L429.7,412.8 L429.1,412.8 L428.4,412.8 L427.8,412.8 L427.2,412.8 L426.6,412.8 L426.0,412.8 L425.3,412.8 L424.7,412.8 L424.1,412.8 L423.5,412.8 L422.9,412.8 L422.2,412.9 L421.6,412.9 L421.0,412.9 L420.4,412.9 L419.8,412.9 L419.1,412.9 L418.5,412.9 L417.9,412.9 L417.3,412.9 L416.7,412.9 L416.1,412.9 L415.4,412.9 L414.8,412.9 L414.2,412.9 L413.6,412.9 L413.0,412.9 L412.3,412.9 L411.7,412.9 L411.1,412.9 L410.5,412.9 L409.9,412.9 L409.2,412.9 L408.6,412.9 L408.0,412.9 L407.4,412.9 L406.8,412.9 L406.1,412.9 L405.5,412.9 L404.9,412.9 L404.3,412.9 L403.7,412.9 L403.0,412.9 L402.4,412.9 L401.8,412.9 L401.2,412.9 L400.6,412.9 L399.9,412.9 L399.3,412.9 L398.7,412.9 L398.1,412.9 L397.5,412.9 L396.8,412.9 L396.2,412.9 L395.6,412.9 L395.0,412.9 L394.4,412.9 L393.7,412.9 L393.1,412.9 L392.5,412.9 L391.9,412.9 L391.3,413.0 L390.6,413.0 L390.0,413.0 L389.4,413.0 L388.8,413.0 L388.2,413.0 L387.6,413.0 L386.9,413.0 L386.3,413.0 L385.7,413.0 L385.1,413.0 L384.5,413.0 L383.8,413.0 L383.2,413.0 L382.6,413.0 L382.0,413.0 L381.4,413.0 L380.7,413.0 L380.1,413.0 L379.5,413.0 L378.9,413.0 L378.3,413.0 L377.6,413.0 L377.0,413.0 L376.4,413.0 Z" fill="url(#gdB)" fill-opacity="0.93" stroke="none"/>
<path d="M376.4,412.7 L377.0,412.7 L377.6,412.7 L378.3,412.7 L378.9,412.7 L379.5,412.7 L380.1,412.7 L380.7,412.7 L381.4,412.7 L382.0,412.7 L382.6,412.7 L383.2,412.7 L383.8,412.7 L384.5,412.7 L385.1,412.7 L385.7,412.7 L386.3,412.6 L386.9,412.6 L387.6,412.6 L388.2,412.6 L388.8,412.6 L389.4,412.6 L390.0,412.6 L390.6,412.6 L391.3,412.6 L391.9,412.6 L392.5,412.6 L393.1,412.6 L393.7,412.6 L394.4,412.6 L395.0,412.6 L395.6,412.6 L396.2,412.6 L396.8,412.6 L397.5,412.6 L398.1,412.6 L398.7,412.5 L399.3,412.5 L399.9,412.5 L400.6,412.5 L401.2,412.5 L401.8,412.5 L402.4,412.5 L403.0,412.5 L403.7,412.5 L404.3,412.5 L404.9,412.5 L405.5,412.5 L406.1,412.5 L406.8,412.5 L407.4,412.5 L408.0,412.5 L408.6,412.5 L409.2,412.4 L409.9,412.4 L410.5,412.4 L411.1,412.4 L411.7,412.4 L412.3,412.4 L413.0,412.4 L413.6,412.4 L414.2,412.4 L414.8,412.4 L415.4,412.4 L416.1,412.4 L416.7,412.4 L417.3,412.4 L417.9,412.4 L418.5,412.3 L419.1,412.3 L419.8,412.3 L420.4,412.3 L421.0,412.3 L421.6,412.3 L422.2,412.3 L422.9,412.3 L423.5,412.3 L424.1,412.3 L424.7,412.3 L425.3,412.3 L426.0,412.3 L426.6,412.2 L427.2,412.2 L427.8,412.2 L428.4,412.2 L429.1,412.2 L429.7,412.2 L430.3,412.2 L430.9,412.2 L431.5,412.2 L432.2,412.2 L432.8,412.2 L433.4,412.1 L434.0,412.1 L434.6,412.1 L435.3,412.1 L435.9,412.1 L436.5,412.1 L437.1,412.1 L437.7,412.1 L438.4,412.1 L439.0,412.1 L439.6,412.0 L440.2,412.0 L440.8,412.0 L441.5,412.0 L442.1,412.0 L442.7,412.0 L443.3,412.0 L443.9,412.0 L444.6,411.9 L445.2,411.9 L445.8,411.9 L446.4,411.9 L447.0,411.9 L447.6,411.9 L448.3,411.9 L448.9,411.8 L449.5,411.8 L450.1,411.8 L450.7,411.8 L451.4,411.8 L452.0,411.8 L452.6,411.8 L453.2,411.7 L453.8,411.7 L454.5,411.7 L455.1,411.7 L455.7,411.7 L456.3,411.7 L456.9,411.6 L457.6,411.6 L458.2,411.6 L458.8,411.6 L459.4,411.6 L460.0,411.5 L460.7,411.5 L461.3,411.5 L461.9,411.5 L462.5,411.5 L463.1,411.4 L463.8,411.4 L464.4,411.4 L465.0,411.4 L465.6,411.3 L466.2,411.3 L466.9,411.3 L467.5,411.3 L468.1,411.2 L468.7,411.2 L469.3,411.2 L470.0,411.2 L470.6,411.1 L471.2,411.1 L471.8,411.1 L472.4,411.0 L473.0,411.0 L473.7,411.0 L474.3,410.9 L474.9,410.9 L475.5,410.9 L476.1,410.8 L476.8,410.8 L477.4,410.7 L478.0,410.7 L478.6,410.7 L479.2,410.6 L479.9,410.6 L480.5,410.5 L481.1,410.5 L481.7,410.4 L482.3,410.4 L483.0,410.3 L483.6,410.3 L484.2,410.2 L484.8,410.2 L485.4,410.1 L486.1,410.1 L486.7,410.0 L487.3,409.9 L487.9,409.9 L488.5,409.8 L489.2,409.7 L489.8,409.7 L490.4,409.6 L491.0,409.5 L491.6,409.4 L492.3,409.3 L492.9,409.3 L493.5,409.2 L494.1,409.1 L494.7,409.0 L495.4,408.9 L496.0,408.8 L496.6,408.7 L497.2,408.5 L497.8,408.4 L498.5,408.3 L499.1,408.2 L499.7,408.0 L500.3,407.9 L500.9,407.8 L501.5,407.6 L502.2,407.4 L502.8,407.3 L503.4,407.1 L504.0,406.9 L504.6,406.7 L505.3,406.5 L505.9,406.3 L506.5,406.1 L507.1,405.8 L507.7,405.6 L508.4,405.3 L509.0,405.0 L509.6,404.7 L510.2,404.4 L510.8,404.0 L511.5,403.6 L512.1,403.2 L512.7,402.8 L513.3,402.3 L513.9,401.8 L514.6,401.2 L515.2,400.5 L515.8,399.8 L516.4,399.1 L517.0,398.2 L517.7,397.3 L518.3,396.3 L518.9,395.1 L519.5,393.9 L520.1,392.5 L520.8,391.0 L521.4,389.3 L522.0,387.5 L522.6,385.5 L523.2,383.3 L523.9,380.9 L524.5,378.3 L525.1,375.5 L525.7,372.4 L526.3,369.2 L527.0,365.6 L527.6,361.9 L528.2,357.9 L528.8,353.7 L529.4,349.3 L530.0,344.7 L530.7,339.9 L531.3,335.0 L531.9,330.0 L532.5,324.9 L533.1,319.8 L533.8,314.8 L534.4,309.9 L535.0,305.3 L535.6,301.0 L536.2,297.1 L536.9,293.8 L537.5,291.2 L538.1,289.3 L538.7,288.2 L539.3,288.0 L540.0,288.5 L540.6,289.6 L541.2,291.3 L541.8,293.6 L542.4,296.4 L543.1,299.7 L543.7,303.3 L544.3,307.2 L544.9,311.4 L545.5,315.7 L546.2,320.1 L546.8,324.5 L547.4,329.0 L548.0,333.4 L548.6,337.8 L549.3,342.0 L549.9,346.2 L550.5,350.1 L551.1,354.0 L551.7,357.6 L552.4,361.1 L553.0,364.5 L553.6,367.6 L554.2,370.6 L554.8,373.4 L555.4,376.0 L556.1,378.4 L556.7,380.7 L557.3,382.8 L557.9,384.8 L558.5,386.6 L559.2,388.2 L559.8,389.8 L560.4,391.2 L561.0,392.5 L561.6,393.7 L562.3,394.8 L562.9,395.8 L563.5,396.8 L564.1,397.6 L564.7,398.4 L565.4,399.1 L566.0,399.8 L566.6,400.4 L567.2,400.9 L567.8,401.4 L568.5,401.9 L569.1,402.3 L569.7,402.8 L570.3,403.1 L570.9,403.5 L571.6,403.8 L572.2,404.1 L572.8,404.4 L573.4,404.7 L574.0,404.9 L574.7,405.2 L575.3,405.4 L575.9,405.6 L576.5,405.8 L577.1,406.0 L577.8,406.2 L578.4,406.4 L579.0,406.6 L579.6,406.7 L580.2,406.9 L580.9,407.0 L581.5,407.2 L582.1,407.3 L582.7,407.5 L583.3,407.6 L583.9,407.7 L584.6,407.8 L585.2,407.9 L585.8,408.0 L586.4,408.1 L587.0,408.2 L587.7,408.3 L588.3,408.4 L588.9,408.5 L589.5,408.6 L590.1,408.7 L590.8,408.8 L591.4,408.8 L592.0,408.9 L592.6,409.0 L593.2,409.1 L593.9,409.1 L594.5,409.2 L595.1,409.3 L595.7,409.3 L596.3,409.4 L597.0,409.4 L597.6,409.5 L598.2,409.6 L598.8,409.6 L599.4,409.7 L600.1,409.7 L600.7,409.8 L601.3,409.8 L601.9,409.8 L602.5,409.9 L603.2,409.9 L603.8,410.0 L604.4,410.0 L605.0,410.0 L605.6,410.1 L606.3,410.1 L606.9,410.2 L607.5,410.2 L608.1,410.2 L608.7,410.3 L609.4,410.3 L610.0,410.3 L610.6,410.4 L611.2,410.4 L611.8,410.4 L612.4,410.4 L613.1,410.5 L613.7,410.5 L614.3,410.5 L614.9,410.5 L615.5,410.6 L616.2,410.6 L616.8,410.6 L617.4,410.6 L618.0,410.7 L618.6,410.7 L619.3,410.7 L619.9,410.7 L620.5,410.7 L621.1,410.8 L621.7,410.8 L622.4,410.8 L623.0,410.8 L623.6,410.8" fill="none" stroke="#5a88ea" stroke-width="1.0" stroke-linejoin="round"/>
<path d="M376.4,412.6 L377.0,412.6 L377.6,412.6 L378.3,412.6 L378.9,412.6 L379.5,412.6 L380.1,412.6 L380.7,412.6 L381.4,412.6 L382.0,412.6 L382.6,412.6 L383.2,412.6 L383.8,412.5 L384.5,412.5 L385.1,412.5 L385.7,412.5 L386.3,412.5 L386.9,412.5 L387.6,412.5 L388.2,412.5 L388.8,412.5 L389.4,412.5 L390.0,412.5 L390.6,412.4 L391.3,412.4 L391.9,412.4 L392.5,412.4 L393.1,412.4 L393.7,412.4 L394.4,412.4 L395.0,412.4 L395.6,412.3 L396.2,412.3 L396.8,412.3 L397.5,412.3 L398.1,412.3 L398.7,412.3 L399.3,412.3 L399.9,412.3 L400.6,412.2 L401.2,412.2 L401.8,412.2 L402.4,412.2 L403.0,412.2 L403.7,412.2 L404.3,412.1 L404.9,412.1 L405.5,412.1 L406.1,412.1 L406.8,412.1 L407.4,412.0 L408.0,412.0 L408.6,412.0 L409.2,412.0 L409.9,412.0 L410.5,411.9 L411.1,411.9 L411.7,411.9 L412.3,411.9 L413.0,411.8 L413.6,411.8 L414.2,411.8 L414.8,411.7 L415.4,411.7 L416.1,411.7 L416.7,411.6 L417.3,411.6 L417.9,411.6 L418.5,411.5 L419.1,411.5 L419.8,411.5 L420.4,411.4 L421.0,411.4 L421.6,411.3 L422.2,411.3 L422.9,411.2 L423.5,411.2 L424.1,411.1 L424.7,411.1 L425.3,411.0 L426.0,411.0 L426.6,410.9 L427.2,410.8 L427.8,410.8 L428.4,410.7 L429.1,410.6 L429.7,410.5 L430.3,410.4 L430.9,410.4 L431.5,410.3 L432.2,410.2 L432.8,410.0 L433.4,409.9 L434.0,409.8 L434.6,409.7 L435.3,409.5 L435.9,409.4 L436.5,409.2 L437.1,409.0 L437.7,408.8 L438.4,408.6 L439.0,408.4 L439.6,408.1 L440.2,407.8 L440.8,407.5 L441.5,407.1 L442.1,406.7 L442.7,406.3 L443.3,405.8 L443.9,405.2 L444.6,404.6 L445.2,404.0 L445.8,403.2 L446.4,402.4 L447.0,401.6 L447.6,400.6 L448.3,399.5 L448.9,398.4 L449.5,397.1 L450.1,395.8 L450.7,394.4 L451.4,392.8 L452.0,391.2 L452.6,389.5 L453.2,387.7 L453.8,385.8 L454.5,383.8 L455.1,381.8 L455.7,379.8 L456.3,377.7 L456.9,375.7 L457.6,373.7 L458.2,371.7 L458.8,369.9 L459.4,368.3 L460.0,366.8 L460.7,365.6 L461.3,364.7 L461.9,364.2 L462.5,363.9 L463.1,364.0 L463.8,364.5 L464.4,365.2 L465.0,366.3 L465.6,367.5 L466.2,369.0 L466.9,370.7 L467.5,372.5 L468.1,374.4 L468.7,376.3 L469.3,378.3 L470.0,380.3 L470.6,382.2 L471.2,384.1 L471.8,386.0 L472.4,387.8 L473.0,389.5 L473.7,391.2 L474.3,392.7 L474.9,394.2 L475.5,395.6 L476.1,396.9 L476.8,398.1 L477.4,399.2 L478.0,400.2 L478.6,401.2 L479.2,402.0 L479.9,402.8 L480.5,403.6 L481.1,404.2 L481.7,404.8 L482.3,405.4 L483.0,405.9 L483.6,406.3 L484.2,406.7 L484.8,407.1 L485.4,407.4 L486.1,407.7 L486.7,408.0 L487.3,408.2 L487.9,408.5 L488.5,408.7 L489.2,408.9 L489.8,409.0 L490.4,409.2 L491.0,409.3 L491.6,409.5 L492.3,409.6 L492.9,409.7 L493.5,409.8 L494.1,409.9 L494.7,410.0 L495.4,410.1 L496.0,410.2 L496.6,410.3 L497.2,410.3 L497.8,410.4 L498.5,410.5 L499.1,410.6 L499.7,410.6 L500.3,410.7 L500.9,410.7 L501.5,410.8 L502.2,410.8 L502.8,410.9 L503.4,410.9 L504.0,411.0 L504.6,411.0 L505.3,411.1 L505.9,411.1 L506.5,411.1 L507.1,411.2 L507.7,411.2 L508.4,411.2 L509.0,411.3 L509.6,411.3 L510.2,411.3 L510.8,411.4 L511.5,411.4 L512.1,411.4 L512.7,411.4 L513.3,411.5 L513.9,411.5 L514.6,411.5 L515.2,411.5 L515.8,411.5 L516.4,411.6 L517.0,411.6 L517.7,411.6 L518.3,411.6 L518.9,411.6 L519.5,411.7 L520.1,411.7 L520.8,411.7 L521.4,411.7 L522.0,411.7 L522.6,411.7 L523.2,411.7 L523.9,411.8 L524.5,411.8 L525.1,411.8 L525.7,411.8 L526.3,411.8 L527.0,411.8 L527.6,411.8 L528.2,411.8 L528.8,411.9 L529.4,411.9 L530.0,411.9 L530.7,411.9 L531.3,411.9 L531.9,411.9 L532.5,411.9 L533.1,411.9 L533.8,411.9 L534.4,411.9 L535.0,411.9 L535.6,411.9 L536.2,412.0 L536.9,412.0 L537.5,412.0 L538.1,412.0 L538.7,412.0 L539.3,412.0 L540.0,412.0 L540.6,412.0 L541.2,412.0 L541.8,412.0 L542.4,412.0 L543.1,412.0 L543.7,412.0 L544.3,412.0 L544.9,412.0 L545.5,412.0 L546.2,412.0 L546.8,412.0 L547.4,412.0 L548.0,412.0 L548.6,412.1 L549.3,412.1 L549.9,412.1 L550.5,412.1 L551.1,412.1 L551.7,412.1 L552.4,412.1 L553.0,412.1 L553.6,412.1 L554.2,412.1 L554.8,412.1 L555.4,412.1 L556.1,412.1 L556.7,412.1 L557.3,412.1 L557.9,412.1 L558.5,412.1 L559.2,412.1 L559.8,412.1 L560.4,412.1 L561.0,412.1 L561.6,412.1 L562.3,412.1 L562.9,412.1 L563.5,412.1 L564.1,412.1 L564.7,412.1 L565.4,412.1 L566.0,412.1 L566.6,412.1 L567.2,412.1 L567.8,412.1 L568.5,412.1 L569.1,412.1 L569.7,412.1 L570.3,412.1 L570.9,412.1 L571.6,412.1 L572.2,412.1 L572.8,412.1 L573.4,412.1 L574.0,412.1 L574.7,412.1 L575.3,412.1 L575.9,412.1 L576.5,412.1 L577.1,412.1 L577.8,412.1 L578.4,412.1 L579.0,412.1 L579.6,412.1 L580.2,412.1 L580.9,412.1 L581.5,412.1 L582.1,412.1 L582.7,412.1 L583.3,412.1 L583.9,412.1 L584.6,412.1 L585.2,412.1 L585.8,412.1 L586.4,412.1 L587.0,412.1 L587.7,412.1 L588.3,412.1 L588.9,412.1 L589.5,412.1 L590.1,412.1 L590.8,412.1 L591.4,412.1 L592.0,412.1 L592.6,412.1 L593.2,412.1 L593.9,412.1 L594.5,412.1 L595.1,412.1 L595.7,412.1 L596.3,412.1 L597.0,412.1 L597.6,412.1 L598.2,412.1 L598.8,412.1 L599.4,412.1 L600.1,412.1 L600.7,412.1 L601.3,412.1 L601.9,412.1 L602.5,412.1 L603.2,412.1 L603.8,412.1 L604.4,412.1 L605.0,412.1 L605.6,412.1 L606.3,412.1 L606.9,412.1 L607.5,412.1 L608.1,412.1 L608.7,412.1 L609.4,412.1 L610.0,412.1 L610.6,412.1 L611.2,412.1 L611.8,412.1 L612.4,412.1 L613.1,412.1 L613.7,412.1 L614.3,412.1 L614.9,412.1 L615.5,412.1 L616.2,412.1 L616.8,412.1 L617.4,412.1 L618.0,412.1 L618.6,412.1 L619.3,412.1 L619.9,412.1 L620.5,412.1 L621.1,412.1 L621.7,412.1 L622.4,412.1 L623.0,412.1 L623.6,412.1 L623.6,412.2 L623.0,412.2 L622.4,412.2 L621.7,412.2 L621.1,412.2 L620.5,412.2 L619.9,412.2 L619.3,412.2 L618.6,412.2 L618.0,412.2 L617.4,412.2 L616.8,412.2 L616.2,412.2 L615.5,412.2 L614.9,412.2 L614.3,412.2 L613.7,412.2 L613.1,412.2 L612.4,412.2 L611.8,412.2 L611.2,412.2 L610.6,412.2 L610.0,412.2 L609.4,412.2 L608.7,412.2 L608.1,412.3 L607.5,412.3 L606.9,412.3 L606.3,412.3 L605.6,412.3 L605.0,412.3 L604.4,412.3 L603.8,412.3 L603.2,412.3 L602.5,412.3 L601.9,412.3 L601.3,412.3 L600.7,412.3 L600.1,412.3 L599.4,412.3 L598.8,412.3 L598.2,412.3 L597.6,412.3 L597.0,412.3 L596.3,412.3 L595.7,412.3 L595.1,412.3 L594.5,412.3 L593.9,412.3 L593.2,412.3 L592.6,412.3 L592.0,412.3 L591.4,412.3 L590.8,412.3 L590.1,412.3 L589.5,412.3 L588.9,412.3 L588.3,412.3 L587.7,412.3 L587.0,412.3 L586.4,412.3 L585.8,412.3 L585.2,412.3 L584.6,412.3 L583.9,412.3 L583.3,412.3 L582.7,412.3 L582.1,412.3 L581.5,412.3 L580.9,412.3 L580.2,412.3 L579.6,412.3 L579.0,412.3 L578.4,412.3 L577.8,412.3 L577.1,412.4 L576.5,412.4 L575.9,412.4 L575.3,412.4 L574.7,412.4 L574.0,412.4 L573.4,412.4 L572.8,412.4 L572.2,412.4 L571.6,412.4 L570.9,412.4 L570.3,412.4 L569.7,412.4 L569.1,412.4 L568.5,412.4 L567.8,412.4 L567.2,412.4 L566.6,412.4 L566.0,412.4 L565.4,412.4 L564.7,412.4 L564.1,412.4 L563.5,412.4 L562.9,412.4 L562.3,412.4 L561.6,412.4 L561.0,412.4 L560.4,412.4 L559.8,412.4 L559.2,412.4 L558.5,412.4 L557.9,412.4 L557.3,412.4 L556.7,412.4 L556.1,412.4 L555.4,412.4 L554.8,412.4 L554.2,412.4 L553.6,412.4 L553.0,412.4 L552.4,412.4 L551.7,412.4 L551.1,412.4 L550.5,412.4 L549.9,412.4 L549.3,412.4 L548.6,412.4 L548.0,412.4 L547.4,412.4 L546.8,412.4 L546.2,412.5 L545.5,412.5 L544.9,412.5 L544.3,412.5 L543.7,412.5 L543.1,412.5 L542.4,412.5 L541.8,412.5 L541.2,412.5 L540.6,412.5 L540.0,412.5 L539.3,412.5 L538.7,412.5 L538.1,412.5 L537.5,412.5 L536.9,412.5 L536.2,412.5 L535.6,412.5 L535.0,412.5 L534.4,412.5 L533.8,412.5 L533.1,412.5 L532.5,412.5 L531.9,412.5 L531.3,412.5 L530.7,412.5 L530.0,412.5 L529.4,412.5 L528.8,412.5 L528.2,412.5 L527.6,412.5 L527.0,412.5 L526.3,412.5 L525.7,412.5 L525.1,412.5 L524.5,412.5 L523.9,412.5 L523.2,412.5 L522.6,412.5 L522.0,412.5 L521.4,412.5 L520.8,412.5 L520.1,412.5 L519.5,412.5 L518.9,412.5 L518.3,412.5 L517.7,412.5 L517.0,412.5 L516.4,412.5 L515.8,412.5 L515.2,412.6 L514.6,412.6 L513.9,412.6 L513.3,412.6 L512.7,412.6 L512.1,412.6 L511.5,412.6 L510.8,412.6 L510.2,412.6 L509.6,412.6 L509.0,412.6 L508.4,412.6 L507.7,412.6 L507.1,412.6 L506.5,412.6 L505.9,412.6 L505.3,412.6 L504.6,412.6 L504.0,412.6 L503.4,412.6 L502.8,412.6 L502.2,412.6 L501.5,412.6 L500.9,412.6 L500.3,412.6 L499.7,412.6 L499.1,412.6 L498.5,412.6 L497.8,412.6 L497.2,412.6 L496.6,412.6 L496.0,412.6 L495.4,412.6 L494.7,412.6 L494.1,412.6 L493.5,412.6 L492.9,412.6 L492.3,412.6 L491.6,412.6 L491.0,412.6 L490.4,412.6 L489.8,412.6 L489.2,412.6 L488.5,412.6 L487.9,412.6 L487.3,412.6 L486.7,412.6 L486.1,412.6 L485.4,412.6 L484.8,412.6 L484.2,412.7 L483.6,412.7 L483.0,412.7 L482.3,412.7 L481.7,412.7 L481.1,412.7 L480.5,412.7 L479.9,412.7 L479.2,412.7 L478.6,412.7 L478.0,412.7 L477.4,412.7 L476.8,412.7 L476.1,412.7 L475.5,412.7 L474.9,412.7 L474.3,412.7 L473.7,412.7 L473.0,412.7 L472.4,412.7 L471.8,412.7 L471.2,412.7 L470.6,412.7 L470.0,412.7 L469.3,412.7 L468.7,412.7 L468.1,412.7 L467.5,412.7 L466.9,412.7 L466.2,412.7 L465.6,412.7 L465.0,412.7 L464.4,412.7 L463.8,412.7 L463.1,412.7 L462.5,412.7 L461.9,412.7 L461.3,412.7 L460.7,412.7 L460.0,412.7 L459.4,412.7 L458.8,412.7 L458.2,412.7 L457.6,412.7 L456.9,412.7 L456.3,412.7 L455.7,412.7 L455.1,412.7 L454.5,412.7 L453.8,412.7 L453.2,412.8 L452.6,412.8 L452.0,412.8 L451.4,412.8 L450.7,412.8 L450.1,412.8 L449.5,412.8 L448.9,412.8 L448.3,412.8 L447.6,412.8 L447.0,412.8 L446.4,412.8 L445.8,412.8 L445.2,412.8 L444.6,412.8 L443.9,412.8 L443.3,412.8 L442.7,412.8 L442.1,412.8 L441.5,412.8 L440.8,412.8 L440.2,412.8 L439.6,412.8 L439.0,412.8 L438.4,412.8 L437.7,412.8 L437.1,412.8 L436.5,412.8 L435.9,412.8 L435.3,412.8 L434.6,412.8 L434.0,412.8 L433.4,412.8 L432.8,412.8 L432.2,412.8 L431.5,412.8 L430.9,412.8 L430.3,412.8 L429.7,412.8 L429.1,412.8 L428.4,412.8 L427.8,412.8 L427.2,412.8 L426.6,412.8 L426.0,412.8 L425.3,412.8 L424.7,412.8 L424.1,412.8 L423.5,412.8 L422.9,412.8 L422.2,412.9 L421.6,412.9 L421.0,412.9 L420.4,412.9 L419.8,412.9 L419.1,412.9 L418.5,412.9 L417.9,412.9 L417.3,412.9 L416.7,412.9 L416.1,412.9 L415.4,412.9 L414.8,412.9 L414.2,412.9 L413.6,412.9 L413.0,412.9 L412.3,412.9 L411.7,412.9 L411.1,412.9 L410.5,412.9 L409.9,412.9 L409.2,412.9 L408.6,412.9 L408.0,412.9 L407.4,412.9 L406.8,412.9 L406.1,412.9 L405.5,412.9 L404.9,412.9 L404.3,412.9 L403.7,412.9 L403.0,412.9 L402.4,412.9 L401.8,412.9 L401.2,412.9 L400.6,412.9 L399.9,412.9 L399.3,412.9 L398.7,412.9 L398.1,412.9 L397.5,412.9 L396.8,412.9 L396.2,412.9 L395.6,412.9 L395.0,412.9 L394.4,412.9 L393.7,412.9 L393.1,412.9 L392.5,412.9 L391.9,412.9 L391.3,413.0 L390.6,413.0 L390.0,413.0 L389.4,413.0 L388.8,413.0 L388.2,413.0 L387.6,413.0 L386.9,413.0 L386.3,413.0 L385.7,413.0 L385.1,413.0 L384.5,413.0 L383.8,413.0 L383.2,413.0 L382.6,413.0 L382.0,413.0 L381.4,413.0 L380.7,413.0 L380.1,413.0 L379.5,413.0 L378.9,413.0 L378.3,413.0 L377.6,413.0 L377.0,413.0 L376.4,413.0 Z" fill="url(#gdO)" fill-opacity="0.93" stroke="none"/>
<path d="M376.4,412.6 L377.0,412.6 L377.6,412.6 L378.3,412.6 L378.9,412.6 L379.5,412.6 L380.1,412.6 L380.7,412.6 L381.4,412.6 L382.0,412.6 L382.6,412.6 L383.2,412.6 L383.8,412.5 L384.5,412.5 L385.1,412.5 L385.7,412.5 L386.3,412.5 L386.9,412.5 L387.6,412.5 L388.2,412.5 L388.8,412.5 L389.4,412.5 L390.0,412.5 L390.6,412.4 L391.3,412.4 L391.9,412.4 L392.5,412.4 L393.1,412.4 L393.7,412.4 L394.4,412.4 L395.0,412.4 L395.6,412.3 L396.2,412.3 L396.8,412.3 L397.5,412.3 L398.1,412.3 L398.7,412.3 L399.3,412.3 L399.9,412.3 L400.6,412.2 L401.2,412.2 L401.8,412.2 L402.4,412.2 L403.0,412.2 L403.7,412.2 L404.3,412.1 L404.9,412.1 L405.5,412.1 L406.1,412.1 L406.8,412.1 L407.4,412.0 L408.0,412.0 L408.6,412.0 L409.2,412.0 L409.9,412.0 L410.5,411.9 L411.1,411.9 L411.7,411.9 L412.3,411.9 L413.0,411.8 L413.6,411.8 L414.2,411.8 L414.8,411.7 L415.4,411.7 L416.1,411.7 L416.7,411.6 L417.3,411.6 L417.9,411.6 L418.5,411.5 L419.1,411.5 L419.8,411.5 L420.4,411.4 L421.0,411.4 L421.6,411.3 L422.2,411.3 L422.9,411.2 L423.5,411.2 L424.1,411.1 L424.7,411.1 L425.3,411.0 L426.0,411.0 L426.6,410.9 L427.2,410.8 L427.8,410.8 L428.4,410.7 L429.1,410.6 L429.7,410.5 L430.3,410.4 L430.9,410.4 L431.5,410.3 L432.2,410.2 L432.8,410.0 L433.4,409.9 L434.0,409.8 L434.6,409.7 L435.3,409.5 L435.9,409.4 L436.5,409.2 L437.1,409.0 L437.7,408.8 L438.4,408.6 L439.0,408.4 L439.6,408.1 L440.2,407.8 L440.8,407.5 L441.5,407.1 L442.1,406.7 L442.7,406.3 L443.3,405.8 L443.9,405.2 L444.6,404.6 L445.2,404.0 L445.8,403.2 L446.4,402.4 L447.0,401.6 L447.6,400.6 L448.3,399.5 L448.9,398.4 L449.5,397.1 L450.1,395.8 L450.7,394.4 L451.4,392.8 L452.0,391.2 L452.6,389.5 L453.2,387.7 L453.8,385.8 L454.5,383.8 L455.1,381.8 L455.7,379.8 L456.3,377.7 L456.9,375.7 L457.6,373.7 L458.2,371.7 L458.8,369.9 L459.4,368.3 L460.0,366.8 L460.7,365.6 L461.3,364.7 L461.9,364.2 L462.5,363.9 L463.1,364.0 L463.8,364.5 L464.4,365.2 L465.0,366.3 L465.6,367.5 L466.2,369.0 L466.9,370.7 L467.5,372.5 L468.1,374.4 L468.7,376.3 L469.3,378.3 L470.0,380.3 L470.6,382.2 L471.2,384.1 L471.8,386.0 L472.4,387.8 L473.0,389.5 L473.7,391.2 L474.3,392.7 L474.9,394.2 L475.5,395.6 L476.1,396.9 L476.8,398.1 L477.4,399.2 L478.0,400.2 L478.6,401.2 L479.2,402.0 L479.9,402.8 L480.5,403.6 L481.1,404.2 L481.7,404.8 L482.3,405.4 L483.0,405.9 L483.6,406.3 L484.2,406.7 L484.8,407.1 L485.4,407.4 L486.1,407.7 L486.7,408.0 L487.3,408.2 L487.9,408.5 L488.5,408.7 L489.2,408.9 L489.8,409.0 L490.4,409.2 L491.0,409.3 L491.6,409.5 L492.3,409.6 L492.9,409.7 L493.5,409.8 L494.1,409.9 L494.7,410.0 L495.4,410.1 L496.0,410.2 L496.6,410.3 L497.2,410.3 L497.8,410.4 L498.5,410.5 L499.1,410.6 L499.7,410.6 L500.3,410.7 L500.9,410.7 L501.5,410.8 L502.2,410.8 L502.8,410.9 L503.4,410.9 L504.0,411.0 L504.6,411.0 L505.3,411.1 L505.9,411.1 L506.5,411.1 L507.1,411.2 L507.7,411.2 L508.4,411.2 L509.0,411.3 L509.6,411.3 L510.2,411.3 L510.8,411.4 L511.5,411.4 L512.1,411.4 L512.7,411.4 L513.3,411.5 L513.9,411.5 L514.6,411.5 L515.2,411.5 L515.8,411.5 L516.4,411.6 L517.0,411.6 L517.7,411.6 L518.3,411.6 L518.9,411.6 L519.5,411.7 L520.1,411.7 L520.8,411.7 L521.4,411.7 L522.0,411.7 L522.6,411.7 L523.2,411.7 L523.9,411.8 L524.5,411.8 L525.1,411.8 L525.7,411.8 L526.3,411.8 L527.0,411.8 L527.6,411.8 L528.2,411.8 L528.8,411.9 L529.4,411.9 L530.0,411.9 L530.7,411.9 L531.3,411.9 L531.9,411.9 L532.5,411.9 L533.1,411.9 L533.8,411.9 L534.4,411.9 L535.0,411.9 L535.6,411.9 L536.2,412.0 L536.9,412.0 L537.5,412.0 L538.1,412.0 L538.7,412.0 L539.3,412.0 L540.0,412.0 L540.6,412.0 L541.2,412.0 L541.8,412.0 L542.4,412.0 L543.1,412.0 L543.7,412.0 L544.3,412.0 L544.9,412.0 L545.5,412.0 L546.2,412.0 L546.8,412.0 L547.4,412.0 L548.0,412.0 L548.6,412.1 L549.3,412.1 L549.9,412.1 L550.5,412.1 L551.1,412.1 L551.7,412.1 L552.4,412.1 L553.0,412.1 L553.6,412.1 L554.2,412.1 L554.8,412.1 L555.4,412.1 L556.1,412.1 L556.7,412.1 L557.3,412.1 L557.9,412.1 L558.5,412.1 L559.2,412.1 L559.8,412.1 L560.4,412.1 L561.0,412.1 L561.6,412.1 L562.3,412.1 L562.9,412.1 L563.5,412.1 L564.1,412.1 L564.7,412.1 L565.4,412.1 L566.0,412.1 L566.6,412.1 L567.2,412.1 L567.8,412.1 L568.5,412.1 L569.1,412.1 L569.7,412.1 L570.3,412.1 L570.9,412.1 L571.6,412.1 L572.2,412.1 L572.8,412.1 L573.4,412.1 L574.0,412.1 L574.7,412.1 L575.3,412.1 L575.9,412.1 L576.5,412.1 L577.1,412.1 L577.8,412.1 L578.4,412.1 L579.0,412.1 L579.6,412.1 L580.2,412.1 L580.9,412.1 L581.5,412.1 L582.1,412.1 L582.7,412.1 L583.3,412.1 L583.9,412.1 L584.6,412.1 L585.2,412.1 L585.8,412.1 L586.4,412.1 L587.0,412.1 L587.7,412.1 L588.3,412.1 L588.9,412.1 L589.5,412.1 L590.1,412.1 L590.8,412.1 L591.4,412.1 L592.0,412.1 L592.6,412.1 L593.2,412.1 L593.9,412.1 L594.5,412.1 L595.1,412.1 L595.7,412.1 L596.3,412.1 L597.0,412.1 L597.6,412.1 L598.2,412.1 L598.8,412.1 L599.4,412.1 L600.1,412.1 L600.7,412.1 L601.3,412.1 L601.9,412.1 L602.5,412.1 L603.2,412.1 L603.8,412.1 L604.4,412.1 L605.0,412.1 L605.6,412.1 L606.3,412.1 L606.9,412.1 L607.5,412.1 L608.1,412.1 L608.7,412.1 L609.4,412.1 L610.0,412.1 L610.6,412.1 L611.2,412.1 L611.8,412.1 L612.4,412.1 L613.1,412.1 L613.7,412.1 L614.3,412.1 L614.9,412.1 L615.5,412.1 L616.2,412.1 L616.8,412.1 L617.4,412.1 L618.0,412.1 L618.6,412.1 L619.3,412.1 L619.9,412.1 L620.5,412.1 L621.1,412.1 L621.7,412.1 L622.4,412.1 L623.0,412.1 L623.6,412.1" fill="none" stroke="#f39a2a" stroke-width="1.1" stroke-linejoin="round"/>
<path d="M376.4,413.0 L377.0,413.0 L377.6,413.0 L378.3,413.0 L378.9,413.0 L379.5,413.0 L380.1,413.0 L380.7,413.0 L381.4,413.0 L382.0,413.0 L382.6,413.0 L383.2,413.0 L383.8,413.0 L384.5,413.0 L385.1,413.0 L385.7,412.9 L386.3,412.9 L386.9,412.9 L387.6,412.9 L388.2,412.9 L388.8,412.9 L389.4,412.9 L390.0,412.9 L390.6,412.9 L391.3,412.9 L391.9,412.9 L392.5,412.9 L393.1,412.9 L393.7,412.9 L394.4,412.9 L395.0,412.9 L395.6,412.9 L396.2,412.9 L396.8,412.9 L397.5,412.9 L398.1,412.9 L398.7,412.9 L399.3,412.9 L399.9,412.9 L400.6,412.9 L401.2,412.9 L401.8,412.9 L402.4,412.9 L403.0,412.9 L403.7,412.9 L404.3,412.9 L404.9,412.9 L405.5,412.9 L406.1,412.9 L406.8,412.9 L407.4,412.9 L408.0,412.9 L408.6,412.9 L409.2,412.9 L409.9,412.9 L410.5,412.8 L411.1,412.8 L411.7,412.8 L412.3,412.8 L413.0,412.8 L413.6,412.8 L414.2,412.8 L414.8,412.8 L415.4,412.8 L416.1,412.8 L416.7,412.8 L417.3,412.8 L417.9,412.8 L418.5,412.8 L419.1,412.8 L419.8,412.8 L420.4,412.8 L421.0,412.8 L421.6,412.8 L422.2,412.8 L422.9,412.8 L423.5,412.8 L424.1,412.8 L424.7,412.8 L425.3,412.8 L426.0,412.8 L426.6,412.8 L427.2,412.8 L427.8,412.8 L428.4,412.8 L429.1,412.7 L429.7,412.7 L430.3,412.7 L430.9,412.7 L431.5,412.7 L432.2,412.7 L432.8,412.7 L433.4,412.7 L434.0,412.7 L434.6,412.7 L435.3,412.7 L435.9,412.7 L436.5,412.7 L437.1,412.7 L437.7,412.7 L438.4,412.7 L439.0,412.7 L439.6,412.7 L440.2,412.7 L440.8,412.6 L441.5,412.6 L442.1,412.6 L442.7,412.6 L443.3,412.6 L443.9,412.6 L444.6,412.6 L445.2,412.6 L445.8,412.6 L446.4,412.6 L447.0,412.5 L447.6,412.5 L448.3,412.5 L448.9,412.5 L449.5,412.5 L450.1,412.5 L450.7,412.4 L451.4,412.4 L452.0,412.4 L452.6,412.3 L453.2,412.3 L453.8,412.2 L454.5,412.2 L455.1,412.1 L455.7,412.0 L456.3,411.9 L456.9,411.9 L457.6,411.7 L458.2,411.6 L458.8,411.5 L459.4,411.3 L460.0,411.1 L460.7,411.0 L461.3,410.7 L461.9,410.5 L462.5,410.3 L463.1,410.0 L463.8,409.7 L464.4,409.4 L465.0,409.1 L465.6,408.8 L466.2,408.5 L466.9,408.1 L467.5,407.8 L468.1,407.5 L468.7,407.1 L469.3,406.8 L470.0,406.5 L470.6,406.3 L471.2,406.0 L471.8,405.8 L472.4,405.7 L473.0,405.5 L473.7,405.5 L474.3,405.5 L474.9,405.5 L475.5,405.6 L476.1,405.8 L476.8,406.0 L477.4,406.2 L478.0,406.5 L478.6,406.8 L479.2,407.1 L479.9,407.4 L480.5,407.7 L481.1,408.1 L481.7,408.4 L482.3,408.7 L483.0,409.0 L483.6,409.3 L484.2,409.6 L484.8,409.9 L485.4,410.2 L486.1,410.4 L486.7,410.6 L487.3,410.9 L487.9,411.0 L488.5,411.2 L489.2,411.4 L489.8,411.5 L490.4,411.6 L491.0,411.7 L491.6,411.8 L492.3,411.9 L492.9,412.0 L493.5,412.0 L494.1,412.1 L494.7,412.1 L495.4,412.2 L496.0,412.2 L496.6,412.3 L497.2,412.3 L497.8,412.3 L498.5,412.3 L499.1,412.3 L499.7,412.3 L500.3,412.4 L500.9,412.4 L501.5,412.4 L502.2,412.4 L502.8,412.4 L503.4,412.4 L504.0,412.4 L504.6,412.4 L505.3,412.4 L505.9,412.4 L506.5,412.4 L507.1,412.4 L507.7,412.4 L508.4,412.4 L509.0,412.4 L509.6,412.4 L510.2,412.4 L510.8,412.4 L511.5,412.4 L512.1,412.4 L512.7,412.4 L513.3,412.4 L513.9,412.5 L514.6,412.5 L515.2,412.5 L515.8,412.5 L516.4,412.5 L517.0,412.5 L517.7,412.5 L518.3,412.5 L518.9,412.5 L519.5,412.5 L520.1,412.5 L520.8,412.5 L521.4,412.5 L522.0,412.5 L522.6,412.5 L523.2,412.5 L523.9,412.5 L524.5,412.5 L525.1,412.5 L525.7,412.5 L526.3,412.5 L527.0,412.5 L527.6,412.5 L528.2,412.5 L528.8,412.5 L529.4,412.4 L530.0,412.4 L530.7,412.4 L531.3,412.4 L531.9,412.4 L532.5,412.4 L533.1,412.4 L533.8,412.4 L534.4,412.4 L535.0,412.4 L535.6,412.4 L536.2,412.4 L536.9,412.4 L537.5,412.4 L538.1,412.4 L538.7,412.4 L539.3,412.4 L540.0,412.4 L540.6,412.4 L541.2,412.4 L541.8,412.4 L542.4,412.4 L543.1,412.4 L543.7,412.4 L544.3,412.4 L544.9,412.4 L545.5,412.4 L546.2,412.4 L546.8,412.4 L547.4,412.4 L548.0,412.4 L548.6,412.4 L549.3,412.4 L549.9,412.4 L550.5,412.4 L551.1,412.4 L551.7,412.4 L552.4,412.4 L553.0,412.4 L553.6,412.4 L554.2,412.4 L554.8,412.4 L555.4,412.4 L556.1,412.4 L556.7,412.4 L557.3,412.4 L557.9,412.4 L558.5,412.4 L559.2,412.4 L559.8,412.4 L560.4,412.4 L561.0,412.4 L561.6,412.4 L562.3,412.4 L562.9,412.4 L563.5,412.4 L564.1,412.4 L564.7,412.4 L565.4,412.4 L566.0,412.4 L566.6,412.4 L567.2,412.4 L567.8,412.4 L568.5,412.4 L569.1,412.4 L569.7,412.4 L570.3,412.4 L570.9,412.4 L571.6,412.4 L572.2,412.3 L572.8,412.3 L573.4,412.3 L574.0,412.3 L574.7,412.3 L575.3,412.3 L575.9,412.3 L576.5,412.3 L577.1,412.3 L577.8,412.3 L578.4,412.3 L579.0,412.3 L579.6,412.3 L580.2,412.3 L580.9,412.3 L581.5,412.3 L582.1,412.3 L582.7,412.3 L583.3,412.3 L583.9,412.3 L584.6,412.3 L585.2,412.3 L585.8,412.3 L586.4,412.3 L587.0,412.3 L587.7,412.3 L588.3,412.3 L588.9,412.3 L589.5,412.3 L590.1,412.3 L590.8,412.3 L591.4,412.3 L592.0,412.3 L592.6,412.3 L593.2,412.3 L593.9,412.3 L594.5,412.3 L595.1,412.3 L595.7,412.3 L596.3,412.3 L597.0,412.3 L597.6,412.3 L598.2,412.3 L598.8,412.3 L599.4,412.3 L600.1,412.3 L600.7,412.3 L601.3,412.3 L601.9,412.3 L602.5,412.3 L603.2,412.3 L603.8,412.3 L604.4,412.3 L605.0,412.3 L605.6,412.2 L606.3,412.2 L606.9,412.2 L607.5,412.2 L608.1,412.2 L608.7,412.2 L609.4,412.2 L610.0,412.2 L610.6,412.2 L611.2,412.2 L611.8,412.2 L612.4,412.2 L613.1,412.2 L613.7,412.2 L614.3,412.2 L614.9,412.2 L615.5,412.2 L616.2,412.2 L616.8,412.2 L617.4,412.2 L618.0,412.2 L618.6,412.2 L619.3,412.2 L619.9,412.2 L620.5,412.2 L621.1,412.2 L621.7,412.2 L622.4,412.2 L623.0,412.2 L623.6,412.2 L623.6,412.2 L623.0,412.2 L622.4,412.2 L621.7,412.2 L621.1,412.2 L620.5,412.2 L619.9,412.2 L619.3,412.2 L618.6,412.2 L618.0,412.2 L617.4,412.2 L616.8,412.2 L616.2,412.2 L615.5,412.2 L614.9,412.2 L614.3,412.2 L613.7,412.2 L613.1,412.2 L612.4,412.2 L611.8,412.2 L611.2,412.2 L610.6,412.2 L610.0,412.2 L609.4,412.2 L608.7,412.2 L608.1,412.3 L607.5,412.3 L606.9,412.3 L606.3,412.3 L605.6,412.3 L605.0,412.3 L604.4,412.3 L603.8,412.3 L603.2,412.3 L602.5,412.3 L601.9,412.3 L601.3,412.3 L600.7,412.3 L600.1,412.3 L599.4,412.3 L598.8,412.3 L598.2,412.3 L597.6,412.3 L597.0,412.3 L596.3,412.3 L595.7,412.3 L595.1,412.3 L594.5,412.3 L593.9,412.3 L593.2,412.3 L592.6,412.3 L592.0,412.3 L591.4,412.3 L590.8,412.3 L590.1,412.3 L589.5,412.3 L588.9,412.3 L588.3,412.3 L587.7,412.3 L587.0,412.3 L586.4,412.3 L585.8,412.3 L585.2,412.3 L584.6,412.3 L583.9,412.3 L583.3,412.3 L582.7,412.3 L582.1,412.3 L581.5,412.3 L580.9,412.3 L580.2,412.3 L579.6,412.3 L579.0,412.3 L578.4,412.3 L577.8,412.3 L577.1,412.4 L576.5,412.4 L575.9,412.4 L575.3,412.4 L574.7,412.4 L574.0,412.4 L573.4,412.4 L572.8,412.4 L572.2,412.4 L571.6,412.4 L570.9,412.4 L570.3,412.4 L569.7,412.4 L569.1,412.4 L568.5,412.4 L567.8,412.4 L567.2,412.4 L566.6,412.4 L566.0,412.4 L565.4,412.4 L564.7,412.4 L564.1,412.4 L563.5,412.4 L562.9,412.4 L562.3,412.4 L561.6,412.4 L561.0,412.4 L560.4,412.4 L559.8,412.4 L559.2,412.4 L558.5,412.4 L557.9,412.4 L557.3,412.4 L556.7,412.4 L556.1,412.4 L555.4,412.4 L554.8,412.4 L554.2,412.4 L553.6,412.4 L553.0,412.4 L552.4,412.4 L551.7,412.4 L551.1,412.4 L550.5,412.4 L549.9,412.4 L549.3,412.4 L548.6,412.4 L548.0,412.4 L547.4,412.4 L546.8,412.4 L546.2,412.5 L545.5,412.5 L544.9,412.5 L544.3,412.5 L543.7,412.5 L543.1,412.5 L542.4,412.5 L541.8,412.5 L541.2,412.5 L540.6,412.5 L540.0,412.5 L539.3,412.5 L538.7,412.5 L538.1,412.5 L537.5,412.5 L536.9,412.5 L536.2,412.5 L535.6,412.5 L535.0,412.5 L534.4,412.5 L533.8,412.5 L533.1,412.5 L532.5,412.5 L531.9,412.5 L531.3,412.5 L530.7,412.5 L530.0,412.5 L529.4,412.5 L528.8,412.5 L528.2,412.5 L527.6,412.5 L527.0,412.5 L526.3,412.5 L525.7,412.5 L525.1,412.5 L524.5,412.5 L523.9,412.5 L523.2,412.5 L522.6,412.5 L522.0,412.5 L521.4,412.5 L520.8,412.5 L520.1,412.5 L519.5,412.5 L518.9,412.5 L518.3,412.5 L517.7,412.5 L517.0,412.5 L516.4,412.5 L515.8,412.5 L515.2,412.6 L514.6,412.6 L513.9,412.6 L513.3,412.6 L512.7,412.6 L512.1,412.6 L511.5,412.6 L510.8,412.6 L510.2,412.6 L509.6,412.6 L509.0,412.6 L508.4,412.6 L507.7,412.6 L507.1,412.6 L506.5,412.6 L505.9,412.6 L505.3,412.6 L504.6,412.6 L504.0,412.6 L503.4,412.6 L502.8,412.6 L502.2,412.6 L501.5,412.6 L500.9,412.6 L500.3,412.6 L499.7,412.6 L499.1,412.6 L498.5,412.6 L497.8,412.6 L497.2,412.6 L496.6,412.6 L496.0,412.6 L495.4,412.6 L494.7,412.6 L494.1,412.6 L493.5,412.6 L492.9,412.6 L492.3,412.6 L491.6,412.6 L491.0,412.6 L490.4,412.6 L489.8,412.6 L489.2,412.6 L488.5,412.6 L487.9,412.6 L487.3,412.6 L486.7,412.6 L486.1,412.6 L485.4,412.6 L484.8,412.6 L484.2,412.7 L483.6,412.7 L483.0,412.7 L482.3,412.7 L481.7,412.7 L481.1,412.7 L480.5,412.7 L479.9,412.7 L479.2,412.7 L478.6,412.7 L478.0,412.7 L477.4,412.7 L476.8,412.7 L476.1,412.7 L475.5,412.7 L474.9,412.7 L474.3,412.7 L473.7,412.7 L473.0,412.7 L472.4,412.7 L471.8,412.7 L471.2,412.7 L470.6,412.7 L470.0,412.7 L469.3,412.7 L468.7,412.7 L468.1,412.7 L467.5,412.7 L466.9,412.7 L466.2,412.7 L465.6,412.7 L465.0,412.7 L464.4,412.7 L463.8,412.7 L463.1,412.7 L462.5,412.7 L461.9,412.7 L461.3,412.7 L460.7,412.7 L460.0,412.7 L459.4,412.7 L458.8,412.7 L458.2,412.7 L457.6,412.7 L456.9,412.7 L456.3,412.7 L455.7,412.7 L455.1,412.7 L454.5,412.7 L453.8,412.7 L453.2,412.8 L452.6,412.8 L452.0,412.8 L451.4,412.8 L450.7,412.8 L450.1,412.8 L449.5,412.8 L448.9,412.8 L448.3,412.8 L447.6,412.8 L447.0,412.8 L446.4,412.8 L445.8,412.8 L445.2,412.8 L444.6,412.8 L443.9,412.8 L443.3,412.8 L442.7,412.8 L442.1,412.8 L441.5,412.8 L440.8,412.8 L440.2,412.8 L439.6,412.8 L439.0,412.8 L438.4,412.8 L437.7,412.8 L437.1,412.8 L436.5,412.8 L435.9,412.8 L435.3,412.8 L434.6,412.8 L434.0,412.8 L433.4,412.8 L432.8,412.8 L432.2,412.8 L431.5,412.8 L430.9,412.8 L430.3,412.8 L429.7,412.8 L429.1,412.8 L428.4,412.8 L427.8,412.8 L427.2,412.8 L426.6,412.8 L426.0,412.8 L425.3,412.8 L424.7,412.8 L424.1,412.8 L423.5,412.8 L422.9,412.8 L422.2,412.9 L421.6,412.9 L421.0,412.9 L420.4,412.9 L419.8,412.9 L419.1,412.9 L418.5,412.9 L417.9,412.9 L417.3,412.9 L416.7,412.9 L416.1,412.9 L415.4,412.9 L414.8,412.9 L414.2,412.9 L413.6,412.9 L413.0,412.9 L412.3,412.9 L411.7,412.9 L411.1,412.9 L410.5,412.9 L409.9,412.9 L409.2,412.9 L408.6,412.9 L408.0,412.9 L407.4,412.9 L406.8,412.9 L406.1,412.9 L405.5,412.9 L404.9,412.9 L404.3,412.9 L403.7,412.9 L403.0,412.9 L402.4,412.9 L401.8,412.9 L401.2,412.9 L400.6,412.9 L399.9,412.9 L399.3,412.9 L398.7,412.9 L398.1,412.9 L397.5,412.9 L396.8,412.9 L396.2,412.9 L395.6,412.9 L395.0,412.9 L394.4,412.9 L393.7,412.9 L393.1,412.9 L392.5,412.9 L391.9,412.9 L391.3,413.0 L390.6,413.0 L390.0,413.0 L389.4,413.0 L388.8,413.0 L388.2,413.0 L387.6,413.0 L386.9,413.0 L386.3,413.0 L385.7,413.0 L385.1,413.0 L384.5,413.0 L383.8,413.0 L383.2,413.0 L382.6,413.0 L382.0,413.0 L381.4,413.0 L380.7,413.0 L380.1,413.0 L379.5,413.0 L378.9,413.0 L378.3,413.0 L377.6,413.0 L377.0,413.0 L376.4,413.0 Z" fill="url(#gdP)" fill-opacity="0.93" stroke="none"/>
<path d="M376.4,413.0 L377.0,413.0 L377.6,413.0 L378.3,413.0 L378.9,413.0 L379.5,413.0 L380.1,413.0 L380.7,413.0 L381.4,413.0 L382.0,413.0 L382.6,413.0 L383.2,413.0 L383.8,413.0 L384.5,413.0 L385.1,413.0 L385.7,412.9 L386.3,412.9 L386.9,412.9 L387.6,412.9 L388.2,412.9 L388.8,412.9 L389.4,412.9 L390.0,412.9 L390.6,412.9 L391.3,412.9 L391.9,412.9 L392.5,412.9 L393.1,412.9 L393.7,412.9 L394.4,412.9 L395.0,412.9 L395.6,412.9 L396.2,412.9 L396.8,412.9 L397.5,412.9 L398.1,412.9 L398.7,412.9 L399.3,412.9 L399.9,412.9 L400.6,412.9 L401.2,412.9 L401.8,412.9 L402.4,412.9 L403.0,412.9 L403.7,412.9 L404.3,412.9 L404.9,412.9 L405.5,412.9 L406.1,412.9 L406.8,412.9 L407.4,412.9 L408.0,412.9 L408.6,412.9 L409.2,412.9 L409.9,412.9 L410.5,412.8 L411.1,412.8 L411.7,412.8 L412.3,412.8 L413.0,412.8 L413.6,412.8 L414.2,412.8 L414.8,412.8 L415.4,412.8 L416.1,412.8 L416.7,412.8 L417.3,412.8 L417.9,412.8 L418.5,412.8 L419.1,412.8 L419.8,412.8 L420.4,412.8 L421.0,412.8 L421.6,412.8 L422.2,412.8 L422.9,412.8 L423.5,412.8 L424.1,412.8 L424.7,412.8 L425.3,412.8 L426.0,412.8 L426.6,412.8 L427.2,412.8 L427.8,412.8 L428.4,412.8 L429.1,412.7 L429.7,412.7 L430.3,412.7 L430.9,412.7 L431.5,412.7 L432.2,412.7 L432.8,412.7 L433.4,412.7 L434.0,412.7 L434.6,412.7 L435.3,412.7 L435.9,412.7 L436.5,412.7 L437.1,412.7 L437.7,412.7 L438.4,412.7 L439.0,412.7 L439.6,412.7 L440.2,412.7 L440.8,412.6 L441.5,412.6 L442.1,412.6 L442.7,412.6 L443.3,412.6 L443.9,412.6 L444.6,412.6 L445.2,412.6 L445.8,412.6 L446.4,412.6 L447.0,412.5 L447.6,412.5 L448.3,412.5 L448.9,412.5 L449.5,412.5 L450.1,412.5 L450.7,412.4 L451.4,412.4 L452.0,412.4 L452.6,412.3 L453.2,412.3 L453.8,412.2 L454.5,412.2 L455.1,412.1 L455.7,412.0 L456.3,411.9 L456.9,411.9 L457.6,411.7 L458.2,411.6 L458.8,411.5 L459.4,411.3 L460.0,411.1 L460.7,411.0 L461.3,410.7 L461.9,410.5 L462.5,410.3 L463.1,410.0 L463.8,409.7 L464.4,409.4 L465.0,409.1 L465.6,408.8 L466.2,408.5 L466.9,408.1 L467.5,407.8 L468.1,407.5 L468.7,407.1 L469.3,406.8 L470.0,406.5 L470.6,406.3 L471.2,406.0 L471.8,405.8 L472.4,405.7 L473.0,405.5 L473.7,405.5 L474.3,405.5 L474.9,405.5 L475.5,405.6 L476.1,405.8 L476.8,406.0 L477.4,406.2 L478.0,406.5 L478.6,406.8 L479.2,407.1 L479.9,407.4 L480.5,407.7 L481.1,408.1 L481.7,408.4 L482.3,408.7 L483.0,409.0 L483.6,409.3 L484.2,409.6 L484.8,409.9 L485.4,410.2 L486.1,410.4 L486.7,410.6 L487.3,410.9 L487.9,411.0 L488.5,411.2 L489.2,411.4 L489.8,411.5 L490.4,411.6 L491.0,411.7 L491.6,411.8 L492.3,411.9 L492.9,412.0 L493.5,412.0 L494.1,412.1 L494.7,412.1 L495.4,412.2 L496.0,412.2 L496.6,412.3 L497.2,412.3 L497.8,412.3 L498.5,412.3 L499.1,412.3 L499.7,412.3 L500.3,412.4 L500.9,412.4 L501.5,412.4 L502.2,412.4 L502.8,412.4 L503.4,412.4 L504.0,412.4 L504.6,412.4 L505.3,412.4 L505.9,412.4 L506.5,412.4 L507.1,412.4 L507.7,412.4 L508.4,412.4 L509.0,412.4 L509.6,412.4 L510.2,412.4 L510.8,412.4 L511.5,412.4 L512.1,412.4 L512.7,412.4 L513.3,412.4 L513.9,412.5 L514.6,412.5 L515.2,412.5 L515.8,412.5 L516.4,412.5 L517.0,412.5 L517.7,412.5 L518.3,412.5 L518.9,412.5 L519.5,412.5 L520.1,412.5 L520.8,412.5 L521.4,412.5 L522.0,412.5 L522.6,412.5 L523.2,412.5 L523.9,412.5 L524.5,412.5 L525.1,412.5 L525.7,412.5 L526.3,412.5 L527.0,412.5 L527.6,412.5 L528.2,412.5 L528.8,412.5 L529.4,412.4 L530.0,412.4 L530.7,412.4 L531.3,412.4 L531.9,412.4 L532.5,412.4 L533.1,412.4 L533.8,412.4 L534.4,412.4 L535.0,412.4 L535.6,412.4 L536.2,412.4 L536.9,412.4 L537.5,412.4 L538.1,412.4 L538.7,412.4 L539.3,412.4 L540.0,412.4 L540.6,412.4 L541.2,412.4 L541.8,412.4 L542.4,412.4 L543.1,412.4 L543.7,412.4 L544.3,412.4 L544.9,412.4 L545.5,412.4 L546.2,412.4 L546.8,412.4 L547.4,412.4 L548.0,412.4 L548.6,412.4 L549.3,412.4 L549.9,412.4 L550.5,412.4 L551.1,412.4 L551.7,412.4 L552.4,412.4 L553.0,412.4 L553.6,412.4 L554.2,412.4 L554.8,412.4 L555.4,412.4 L556.1,412.4 L556.7,412.4 L557.3,412.4 L557.9,412.4 L558.5,412.4 L559.2,412.4 L559.8,412.4 L560.4,412.4 L561.0,412.4 L561.6,412.4 L562.3,412.4 L562.9,412.4 L563.5,412.4 L564.1,412.4 L564.7,412.4 L565.4,412.4 L566.0,412.4 L566.6,412.4 L567.2,412.4 L567.8,412.4 L568.5,412.4 L569.1,412.4 L569.7,412.4 L570.3,412.4 L570.9,412.4 L571.6,412.4 L572.2,412.3 L572.8,412.3 L573.4,412.3 L574.0,412.3 L574.7,412.3 L575.3,412.3 L575.9,412.3 L576.5,412.3 L577.1,412.3 L577.8,412.3 L578.4,412.3 L579.0,412.3 L579.6,412.3 L580.2,412.3 L580.9,412.3 L581.5,412.3 L582.1,412.3 L582.7,412.3 L583.3,412.3 L583.9,412.3 L584.6,412.3 L585.2,412.3 L585.8,412.3 L586.4,412.3 L587.0,412.3 L587.7,412.3 L588.3,412.3 L588.9,412.3 L589.5,412.3 L590.1,412.3 L590.8,412.3 L591.4,412.3 L592.0,412.3 L592.6,412.3 L593.2,412.3 L593.9,412.3 L594.5,412.3 L595.1,412.3 L595.7,412.3 L596.3,412.3 L597.0,412.3 L597.6,412.3 L598.2,412.3 L598.8,412.3 L599.4,412.3 L600.1,412.3 L600.7,412.3 L601.3,412.3 L601.9,412.3 L602.5,412.3 L603.2,412.3 L603.8,412.3 L604.4,412.3 L605.0,412.3 L605.6,412.2 L606.3,412.2 L606.9,412.2 L607.5,412.2 L608.1,412.2 L608.7,412.2 L609.4,412.2 L610.0,412.2 L610.6,412.2 L611.2,412.2 L611.8,412.2 L612.4,412.2 L613.1,412.2 L613.7,412.2 L614.3,412.2 L614.9,412.2 L615.5,412.2 L616.2,412.2 L616.8,412.2 L617.4,412.2 L618.0,412.2 L618.6,412.2 L619.3,412.2 L619.9,412.2 L620.5,412.2 L621.1,412.2 L621.7,412.2 L622.4,412.2 L623.0,412.2 L623.6,412.2" fill="none" stroke="#b78be8" stroke-width="1.0" stroke-linejoin="round"/>
<path d="M376.4,413.0 L377.0,413.0 L377.6,413.0 L378.3,413.0 L378.9,413.0 L379.5,413.0 L380.1,413.0 L380.7,413.0 L381.4,413.0 L382.0,413.0 L382.6,413.0 L383.2,413.0 L383.8,413.0 L384.5,413.0 L385.1,413.0 L385.7,413.0 L386.3,413.0 L386.9,413.0 L387.6,412.9 L388.2,412.9 L388.8,412.9 L389.4,412.9 L390.0,412.9 L390.6,412.9 L391.3,412.9 L391.9,412.9 L392.5,412.9 L393.1,412.9 L393.7,412.9 L394.4,412.9 L395.0,412.9 L395.6,412.9 L396.2,412.9 L396.8,412.9 L397.5,412.9 L398.1,412.9 L398.7,412.9 L399.3,412.9 L399.9,412.9 L400.6,412.9 L401.2,412.9 L401.8,412.9 L402.4,412.9 L403.0,412.9 L403.7,412.9 L404.3,412.9 L404.9,412.9 L405.5,412.9 L406.1,412.9 L406.8,412.9 L407.4,412.9 L408.0,412.9 L408.6,412.9 L409.2,412.9 L409.9,412.9 L410.5,412.9 L411.1,412.9 L411.7,412.9 L412.3,412.9 L413.0,412.9 L413.6,412.9 L414.2,412.9 L414.8,412.9 L415.4,412.8 L416.1,412.8 L416.7,412.8 L417.3,412.8 L417.9,412.8 L418.5,412.8 L419.1,412.8 L419.8,412.8 L420.4,412.8 L421.0,412.8 L421.6,412.8 L422.2,412.8 L422.9,412.8 L423.5,412.8 L424.1,412.8 L424.7,412.8 L425.3,412.8 L426.0,412.8 L426.6,412.8 L427.2,412.8 L427.8,412.8 L428.4,412.8 L429.1,412.8 L429.7,412.8 L430.3,412.8 L430.9,412.8 L431.5,412.8 L432.2,412.8 L432.8,412.8 L433.4,412.8 L434.0,412.8 L434.6,412.8 L435.3,412.8 L435.9,412.8 L436.5,412.8 L437.1,412.8 L437.7,412.8 L438.4,412.8 L439.0,412.8 L439.6,412.8 L440.2,412.8 L440.8,412.8 L441.5,412.7 L442.1,412.7 L442.7,412.7 L443.3,412.7 L443.9,412.7 L444.6,412.7 L445.2,412.7 L445.8,412.7 L446.4,412.7 L447.0,412.7 L447.6,412.7 L448.3,412.7 L448.9,412.7 L449.5,412.7 L450.1,412.7 L450.7,412.7 L451.4,412.7 L452.0,412.7 L452.6,412.7 L453.2,412.7 L453.8,412.7 L454.5,412.7 L455.1,412.7 L455.7,412.7 L456.3,412.7 L456.9,412.7 L457.6,412.7 L458.2,412.7 L458.8,412.7 L459.4,412.7 L460.0,412.7 L460.7,412.7 L461.3,412.7 L461.9,412.7 L462.5,412.7 L463.1,412.6 L463.8,412.6 L464.4,412.6 L465.0,412.6 L465.6,412.6 L466.2,412.6 L466.9,412.6 L467.5,412.6 L468.1,412.6 L468.7,412.6 L469.3,412.6 L470.0,412.6 L470.6,412.6 L471.2,412.6 L471.8,412.6 L472.4,412.6 L473.0,412.6 L473.7,412.6 L474.3,412.6 L474.9,412.6 L475.5,412.6 L476.1,412.6 L476.8,412.6 L477.4,412.6 L478.0,412.6 L478.6,412.5 L479.2,412.5 L479.9,412.5 L480.5,412.5 L481.1,412.5 L481.7,412.5 L482.3,412.5 L483.0,412.5 L483.6,412.5 L484.2,412.5 L484.8,412.5 L485.4,412.5 L486.1,412.5 L486.7,412.5 L487.3,412.5 L487.9,412.5 L488.5,412.5 L489.2,412.4 L489.8,412.4 L490.4,412.4 L491.0,412.4 L491.6,412.4 L492.3,412.4 L492.9,412.4 L493.5,412.4 L494.1,412.4 L494.7,412.4 L495.4,412.4 L496.0,412.3 L496.6,412.3 L497.2,412.3 L497.8,412.3 L498.5,412.3 L499.1,412.3 L499.7,412.3 L500.3,412.2 L500.9,412.2 L501.5,412.2 L502.2,412.2 L502.8,412.1 L503.4,412.1 L504.0,412.1 L504.6,412.0 L505.3,412.0 L505.9,411.9 L506.5,411.9 L507.1,411.8 L507.7,411.7 L508.4,411.6 L509.0,411.5 L509.6,411.4 L510.2,411.3 L510.8,411.1 L511.5,411.0 L512.1,410.8 L512.7,410.6 L513.3,410.4 L513.9,410.2 L514.6,409.9 L515.2,409.6 L515.8,409.3 L516.4,409.0 L517.0,408.6 L517.7,408.3 L518.3,407.9 L518.9,407.5 L519.5,407.1 L520.1,406.6 L520.8,406.2 L521.4,405.7 L522.0,405.3 L522.6,404.8 L523.2,404.4 L523.9,403.9 L524.5,403.5 L525.1,403.1 L525.7,402.8 L526.3,402.5 L527.0,402.2 L527.6,402.0 L528.2,401.8 L528.8,401.7 L529.4,401.7 L530.0,401.7 L530.7,401.8 L531.3,402.0 L531.9,402.2 L532.5,402.5 L533.1,402.8 L533.8,403.1 L534.4,403.5 L535.0,403.9 L535.6,404.4 L536.2,404.8 L536.9,405.3 L537.5,405.7 L538.1,406.2 L538.7,406.6 L539.3,407.0 L540.0,407.4 L540.6,407.9 L541.2,408.2 L541.8,408.6 L542.4,408.9 L543.1,409.3 L543.7,409.6 L544.3,409.8 L544.9,410.1 L545.5,410.3 L546.2,410.5 L546.8,410.7 L547.4,410.9 L548.0,411.0 L548.6,411.2 L549.3,411.3 L549.9,411.4 L550.5,411.5 L551.1,411.6 L551.7,411.7 L552.4,411.7 L553.0,411.8 L553.6,411.8 L554.2,411.9 L554.8,411.9 L555.4,411.9 L556.1,412.0 L556.7,412.0 L557.3,412.0 L557.9,412.0 L558.5,412.0 L559.2,412.1 L559.8,412.1 L560.4,412.1 L561.0,412.1 L561.6,412.1 L562.3,412.1 L562.9,412.1 L563.5,412.1 L564.1,412.1 L564.7,412.1 L565.4,412.2 L566.0,412.2 L566.6,412.2 L567.2,412.2 L567.8,412.2 L568.5,412.2 L569.1,412.2 L569.7,412.2 L570.3,412.2 L570.9,412.2 L571.6,412.2 L572.2,412.2 L572.8,412.2 L573.4,412.2 L574.0,412.2 L574.7,412.2 L575.3,412.2 L575.9,412.2 L576.5,412.2 L577.1,412.2 L577.8,412.2 L578.4,412.2 L579.0,412.2 L579.6,412.2 L580.2,412.2 L580.9,412.2 L581.5,412.2 L582.1,412.2 L582.7,412.2 L583.3,412.2 L583.9,412.2 L584.6,412.2 L585.2,412.2 L585.8,412.2 L586.4,412.2 L587.0,412.2 L587.7,412.2 L588.3,412.2 L588.9,412.2 L589.5,412.2 L590.1,412.2 L590.8,412.2 L591.4,412.2 L592.0,412.2 L592.6,412.2 L593.2,412.2 L593.9,412.2 L594.5,412.2 L595.1,412.2 L595.7,412.2 L596.3,412.2 L597.0,412.2 L597.6,412.2 L598.2,412.2 L598.8,412.2 L599.4,412.2 L600.1,412.2 L600.7,412.2 L601.3,412.2 L601.9,412.2 L602.5,412.2 L603.2,412.2 L603.8,412.2 L604.4,412.2 L605.0,412.2 L605.6,412.2 L606.3,412.2 L606.9,412.2 L607.5,412.2 L608.1,412.2 L608.7,412.2 L609.4,412.2 L610.0,412.2 L610.6,412.2 L611.2,412.2 L611.8,412.2 L612.4,412.2 L613.1,412.2 L613.7,412.2 L614.3,412.2 L614.9,412.2 L615.5,412.2 L616.2,412.2 L616.8,412.2 L617.4,412.2 L618.0,412.2 L618.6,412.2 L619.3,412.2 L619.9,412.2 L620.5,412.2 L621.1,412.2 L621.7,412.2 L622.4,412.2 L623.0,412.2 L623.6,412.2 L623.6,412.2 L623.0,412.2 L622.4,412.2 L621.7,412.2 L621.1,412.2 L620.5,412.2 L619.9,412.2 L619.3,412.2 L618.6,412.2 L618.0,412.2 L617.4,412.2 L616.8,412.2 L616.2,412.2 L615.5,412.2 L614.9,412.2 L614.3,412.2 L613.7,412.2 L613.1,412.2 L612.4,412.2 L611.8,412.2 L611.2,412.2 L610.6,412.2 L610.0,412.2 L609.4,412.2 L608.7,412.2 L608.1,412.3 L607.5,412.3 L606.9,412.3 L606.3,412.3 L605.6,412.3 L605.0,412.3 L604.4,412.3 L603.8,412.3 L603.2,412.3 L602.5,412.3 L601.9,412.3 L601.3,412.3 L600.7,412.3 L600.1,412.3 L599.4,412.3 L598.8,412.3 L598.2,412.3 L597.6,412.3 L597.0,412.3 L596.3,412.3 L595.7,412.3 L595.1,412.3 L594.5,412.3 L593.9,412.3 L593.2,412.3 L592.6,412.3 L592.0,412.3 L591.4,412.3 L590.8,412.3 L590.1,412.3 L589.5,412.3 L588.9,412.3 L588.3,412.3 L587.7,412.3 L587.0,412.3 L586.4,412.3 L585.8,412.3 L585.2,412.3 L584.6,412.3 L583.9,412.3 L583.3,412.3 L582.7,412.3 L582.1,412.3 L581.5,412.3 L580.9,412.3 L580.2,412.3 L579.6,412.3 L579.0,412.3 L578.4,412.3 L577.8,412.3 L577.1,412.4 L576.5,412.4 L575.9,412.4 L575.3,412.4 L574.7,412.4 L574.0,412.4 L573.4,412.4 L572.8,412.4 L572.2,412.4 L571.6,412.4 L570.9,412.4 L570.3,412.4 L569.7,412.4 L569.1,412.4 L568.5,412.4 L567.8,412.4 L567.2,412.4 L566.6,412.4 L566.0,412.4 L565.4,412.4 L564.7,412.4 L564.1,412.4 L563.5,412.4 L562.9,412.4 L562.3,412.4 L561.6,412.4 L561.0,412.4 L560.4,412.4 L559.8,412.4 L559.2,412.4 L558.5,412.4 L557.9,412.4 L557.3,412.4 L556.7,412.4 L556.1,412.4 L555.4,412.4 L554.8,412.4 L554.2,412.4 L553.6,412.4 L553.0,412.4 L552.4,412.4 L551.7,412.4 L551.1,412.4 L550.5,412.4 L549.9,412.4 L549.3,412.4 L548.6,412.4 L548.0,412.4 L547.4,412.4 L546.8,412.4 L546.2,412.5 L545.5,412.5 L544.9,412.5 L544.3,412.5 L543.7,412.5 L543.1,412.5 L542.4,412.5 L541.8,412.5 L541.2,412.5 L540.6,412.5 L540.0,412.5 L539.3,412.5 L538.7,412.5 L538.1,412.5 L537.5,412.5 L536.9,412.5 L536.2,412.5 L535.6,412.5 L535.0,412.5 L534.4,412.5 L533.8,412.5 L533.1,412.5 L532.5,412.5 L531.9,412.5 L531.3,412.5 L530.7,412.5 L530.0,412.5 L529.4,412.5 L528.8,412.5 L528.2,412.5 L527.6,412.5 L527.0,412.5 L526.3,412.5 L525.7,412.5 L525.1,412.5 L524.5,412.5 L523.9,412.5 L523.2,412.5 L522.6,412.5 L522.0,412.5 L521.4,412.5 L520.8,412.5 L520.1,412.5 L519.5,412.5 L518.9,412.5 L518.3,412.5 L517.7,412.5 L517.0,412.5 L516.4,412.5 L515.8,412.5 L515.2,412.6 L514.6,412.6 L513.9,412.6 L513.3,412.6 L512.7,412.6 L512.1,412.6 L511.5,412.6 L510.8,412.6 L510.2,412.6 L509.6,412.6 L509.0,412.6 L508.4,412.6 L507.7,412.6 L507.1,412.6 L506.5,412.6 L505.9,412.6 L505.3,412.6 L504.6,412.6 L504.0,412.6 L503.4,412.6 L502.8,412.6 L502.2,412.6 L501.5,412.6 L500.9,412.6 L500.3,412.6 L499.7,412.6 L499.1,412.6 L498.5,412.6 L497.8,412.6 L497.2,412.6 L496.6,412.6 L496.0,412.6 L495.4,412.6 L494.7,412.6 L494.1,412.6 L493.5,412.6 L492.9,412.6 L492.3,412.6 L491.6,412.6 L491.0,412.6 L490.4,412.6 L489.8,412.6 L489.2,412.6 L488.5,412.6 L487.9,412.6 L487.3,412.6 L486.7,412.6 L486.1,412.6 L485.4,412.6 L484.8,412.6 L484.2,412.7 L483.6,412.7 L483.0,412.7 L482.3,412.7 L481.7,412.7 L481.1,412.7 L480.5,412.7 L479.9,412.7 L479.2,412.7 L478.6,412.7 L478.0,412.7 L477.4,412.7 L476.8,412.7 L476.1,412.7 L475.5,412.7 L474.9,412.7 L474.3,412.7 L473.7,412.7 L473.0,412.7 L472.4,412.7 L471.8,412.7 L471.2,412.7 L470.6,412.7 L470.0,412.7 L469.3,412.7 L468.7,412.7 L468.1,412.7 L467.5,412.7 L466.9,412.7 L466.2,412.7 L465.6,412.7 L465.0,412.7 L464.4,412.7 L463.8,412.7 L463.1,412.7 L462.5,412.7 L461.9,412.7 L461.3,412.7 L460.7,412.7 L460.0,412.7 L459.4,412.7 L458.8,412.7 L458.2,412.7 L457.6,412.7 L456.9,412.7 L456.3,412.7 L455.7,412.7 L455.1,412.7 L454.5,412.7 L453.8,412.7 L453.2,412.8 L452.6,412.8 L452.0,412.8 L451.4,412.8 L450.7,412.8 L450.1,412.8 L449.5,412.8 L448.9,412.8 L448.3,412.8 L447.6,412.8 L447.0,412.8 L446.4,412.8 L445.8,412.8 L445.2,412.8 L444.6,412.8 L443.9,412.8 L443.3,412.8 L442.7,412.8 L442.1,412.8 L441.5,412.8 L440.8,412.8 L440.2,412.8 L439.6,412.8 L439.0,412.8 L438.4,412.8 L437.7,412.8 L437.1,412.8 L436.5,412.8 L435.9,412.8 L435.3,412.8 L434.6,412.8 L434.0,412.8 L433.4,412.8 L432.8,412.8 L432.2,412.8 L431.5,412.8 L430.9,412.8 L430.3,412.8 L429.7,412.8 L429.1,412.8 L428.4,412.8 L427.8,412.8 L427.2,412.8 L426.6,412.8 L426.0,412.8 L425.3,412.8 L424.7,412.8 L424.1,412.8 L423.5,412.8 L422.9,412.8 L422.2,412.9 L421.6,412.9 L421.0,412.9 L420.4,412.9 L419.8,412.9 L419.1,412.9 L418.5,412.9 L417.9,412.9 L417.3,412.9 L416.7,412.9 L416.1,412.9 L415.4,412.9 L414.8,412.9 L414.2,412.9 L413.6,412.9 L413.0,412.9 L412.3,412.9 L411.7,412.9 L411.1,412.9 L410.5,412.9 L409.9,412.9 L409.2,412.9 L408.6,412.9 L408.0,412.9 L407.4,412.9 L406.8,412.9 L406.1,412.9 L405.5,412.9 L404.9,412.9 L404.3,412.9 L403.7,412.9 L403.0,412.9 L402.4,412.9 L401.8,412.9 L401.2,412.9 L400.6,412.9 L399.9,412.9 L399.3,412.9 L398.7,412.9 L398.1,412.9 L397.5,412.9 L396.8,412.9 L396.2,412.9 L395.6,412.9 L395.0,412.9 L394.4,412.9 L393.7,412.9 L393.1,412.9 L392.5,412.9 L391.9,412.9 L391.3,413.0 L390.6,413.0 L390.0,413.0 L389.4,413.0 L388.8,413.0 L388.2,413.0 L387.6,413.0 L386.9,413.0 L386.3,413.0 L385.7,413.0 L385.1,413.0 L384.5,413.0 L383.8,413.0 L383.2,413.0 L382.6,413.0 L382.0,413.0 L381.4,413.0 L380.7,413.0 L380.1,413.0 L379.5,413.0 L378.9,413.0 L378.3,413.0 L377.6,413.0 L377.0,413.0 L376.4,413.0 Z" fill="url(#gdG)" fill-opacity="0.93" stroke="none"/>
<path d="M376.4,413.0 L377.0,413.0 L377.6,413.0 L378.3,413.0 L378.9,413.0 L379.5,413.0 L380.1,413.0 L380.7,413.0 L381.4,413.0 L382.0,413.0 L382.6,413.0 L383.2,413.0 L383.8,413.0 L384.5,413.0 L385.1,413.0 L385.7,413.0 L386.3,413.0 L386.9,413.0 L387.6,412.9 L388.2,412.9 L388.8,412.9 L389.4,412.9 L390.0,412.9 L390.6,412.9 L391.3,412.9 L391.9,412.9 L392.5,412.9 L393.1,412.9 L393.7,412.9 L394.4,412.9 L395.0,412.9 L395.6,412.9 L396.2,412.9 L396.8,412.9 L397.5,412.9 L398.1,412.9 L398.7,412.9 L399.3,412.9 L399.9,412.9 L400.6,412.9 L401.2,412.9 L401.8,412.9 L402.4,412.9 L403.0,412.9 L403.7,412.9 L404.3,412.9 L404.9,412.9 L405.5,412.9 L406.1,412.9 L406.8,412.9 L407.4,412.9 L408.0,412.9 L408.6,412.9 L409.2,412.9 L409.9,412.9 L410.5,412.9 L411.1,412.9 L411.7,412.9 L412.3,412.9 L413.0,412.9 L413.6,412.9 L414.2,412.9 L414.8,412.9 L415.4,412.8 L416.1,412.8 L416.7,412.8 L417.3,412.8 L417.9,412.8 L418.5,412.8 L419.1,412.8 L419.8,412.8 L420.4,412.8 L421.0,412.8 L421.6,412.8 L422.2,412.8 L422.9,412.8 L423.5,412.8 L424.1,412.8 L424.7,412.8 L425.3,412.8 L426.0,412.8 L426.6,412.8 L427.2,412.8 L427.8,412.8 L428.4,412.8 L429.1,412.8 L429.7,412.8 L430.3,412.8 L430.9,412.8 L431.5,412.8 L432.2,412.8 L432.8,412.8 L433.4,412.8 L434.0,412.8 L434.6,412.8 L435.3,412.8 L435.9,412.8 L436.5,412.8 L437.1,412.8 L437.7,412.8 L438.4,412.8 L439.0,412.8 L439.6,412.8 L440.2,412.8 L440.8,412.8 L441.5,412.7 L442.1,412.7 L442.7,412.7 L443.3,412.7 L443.9,412.7 L444.6,412.7 L445.2,412.7 L445.8,412.7 L446.4,412.7 L447.0,412.7 L447.6,412.7 L448.3,412.7 L448.9,412.7 L449.5,412.7 L450.1,412.7 L450.7,412.7 L451.4,412.7 L452.0,412.7 L452.6,412.7 L453.2,412.7 L453.8,412.7 L454.5,412.7 L455.1,412.7 L455.7,412.7 L456.3,412.7 L456.9,412.7 L457.6,412.7 L458.2,412.7 L458.8,412.7 L459.4,412.7 L460.0,412.7 L460.7,412.7 L461.3,412.7 L461.9,412.7 L462.5,412.7 L463.1,412.6 L463.8,412.6 L464.4,412.6 L465.0,412.6 L465.6,412.6 L466.2,412.6 L466.9,412.6 L467.5,412.6 L468.1,412.6 L468.7,412.6 L469.3,412.6 L470.0,412.6 L470.6,412.6 L471.2,412.6 L471.8,412.6 L472.4,412.6 L473.0,412.6 L473.7,412.6 L474.3,412.6 L474.9,412.6 L475.5,412.6 L476.1,412.6 L476.8,412.6 L477.4,412.6 L478.0,412.6 L478.6,412.5 L479.2,412.5 L479.9,412.5 L480.5,412.5 L481.1,412.5 L481.7,412.5 L482.3,412.5 L483.0,412.5 L483.6,412.5 L484.2,412.5 L484.8,412.5 L485.4,412.5 L486.1,412.5 L486.7,412.5 L487.3,412.5 L487.9,412.5 L488.5,412.5 L489.2,412.4 L489.8,412.4 L490.4,412.4 L491.0,412.4 L491.6,412.4 L492.3,412.4 L492.9,412.4 L493.5,412.4 L494.1,412.4 L494.7,412.4 L495.4,412.4 L496.0,412.3 L496.6,412.3 L497.2,412.3 L497.8,412.3 L498.5,412.3 L499.1,412.3 L499.7,412.3 L500.3,412.2 L500.9,412.2 L501.5,412.2 L502.2,412.2 L502.8,412.1 L503.4,412.1 L504.0,412.1 L504.6,412.0 L505.3,412.0 L505.9,411.9 L506.5,411.9 L507.1,411.8 L507.7,411.7 L508.4,411.6 L509.0,411.5 L509.6,411.4 L510.2,411.3 L510.8,411.1 L511.5,411.0 L512.1,410.8 L512.7,410.6 L513.3,410.4 L513.9,410.2 L514.6,409.9 L515.2,409.6 L515.8,409.3 L516.4,409.0 L517.0,408.6 L517.7,408.3 L518.3,407.9 L518.9,407.5 L519.5,407.1 L520.1,406.6 L520.8,406.2 L521.4,405.7 L522.0,405.3 L522.6,404.8 L523.2,404.4 L523.9,403.9 L524.5,403.5 L525.1,403.1 L525.7,402.8 L526.3,402.5 L527.0,402.2 L527.6,402.0 L528.2,401.8 L528.8,401.7 L529.4,401.7 L530.0,401.7 L530.7,401.8 L531.3,402.0 L531.9,402.2 L532.5,402.5 L533.1,402.8 L533.8,403.1 L534.4,403.5 L535.0,403.9 L535.6,404.4 L536.2,404.8 L536.9,405.3 L537.5,405.7 L538.1,406.2 L538.7,406.6 L539.3,407.0 L540.0,407.4 L540.6,407.9 L541.2,408.2 L541.8,408.6 L542.4,408.9 L543.1,409.3 L543.7,409.6 L544.3,409.8 L544.9,410.1 L545.5,410.3 L546.2,410.5 L546.8,410.7 L547.4,410.9 L548.0,411.0 L548.6,411.2 L549.3,411.3 L549.9,411.4 L550.5,411.5 L551.1,411.6 L551.7,411.7 L552.4,411.7 L553.0,411.8 L553.6,411.8 L554.2,411.9 L554.8,411.9 L555.4,411.9 L556.1,412.0 L556.7,412.0 L557.3,412.0 L557.9,412.0 L558.5,412.0 L559.2,412.1 L559.8,412.1 L560.4,412.1 L561.0,412.1 L561.6,412.1 L562.3,412.1 L562.9,412.1 L563.5,412.1 L564.1,412.1 L564.7,412.1 L565.4,412.2 L566.0,412.2 L566.6,412.2 L567.2,412.2 L567.8,412.2 L568.5,412.2 L569.1,412.2 L569.7,412.2 L570.3,412.2 L570.9,412.2 L571.6,412.2 L572.2,412.2 L572.8,412.2 L573.4,412.2 L574.0,412.2 L574.7,412.2 L575.3,412.2 L575.9,412.2 L576.5,412.2 L577.1,412.2 L577.8,412.2 L578.4,412.2 L579.0,412.2 L579.6,412.2 L580.2,412.2 L580.9,412.2 L581.5,412.2 L582.1,412.2 L582.7,412.2 L583.3,412.2 L583.9,412.2 L584.6,412.2 L585.2,412.2 L585.8,412.2 L586.4,412.2 L587.0,412.2 L587.7,412.2 L588.3,412.2 L588.9,412.2 L589.5,412.2 L590.1,412.2 L590.8,412.2 L591.4,412.2 L592.0,412.2 L592.6,412.2 L593.2,412.2 L593.9,412.2 L594.5,412.2 L595.1,412.2 L595.7,412.2 L596.3,412.2 L597.0,412.2 L597.6,412.2 L598.2,412.2 L598.8,412.2 L599.4,412.2 L600.1,412.2 L600.7,412.2 L601.3,412.2 L601.9,412.2 L602.5,412.2 L603.2,412.2 L603.8,412.2 L604.4,412.2 L605.0,412.2 L605.6,412.2 L606.3,412.2 L606.9,412.2 L607.5,412.2 L608.1,412.2 L608.7,412.2 L609.4,412.2 L610.0,412.2 L610.6,412.2 L611.2,412.2 L611.8,412.2 L612.4,412.2 L613.1,412.2 L613.7,412.2 L614.3,412.2 L614.9,412.2 L615.5,412.2 L616.2,412.2 L616.8,412.2 L617.4,412.2 L618.0,412.2 L618.6,412.2 L619.3,412.2 L619.9,412.2 L620.5,412.2 L621.1,412.2 L621.7,412.2 L622.4,412.2 L623.0,412.2 L623.6,412.2" fill="none" stroke="#1e8a3e" stroke-width="1.0" stroke-linejoin="round"/>
<line x1="376.40" y1="413.00" x2="623.60" y2="412.20" stroke="#b58ae8" stroke-width="1.3" />
<rect x="376.4" y="257.0" width="247.20000000000005" height="185.60000000000002" fill="none" stroke="#222" stroke-width="1.6"/>
<line x1="376.40" y1="442.60" x2="376.40" y2="446.40" stroke="#222" stroke-width="1.3" />
<text x="376.40" y="460.30" font-size="14" fill="#222" stroke="#222" stroke-width="0.0" text-anchor="middle" >356</text>
<line x1="417.80" y1="442.60" x2="417.80" y2="446.40" stroke="#222" stroke-width="1.3" />
<text x="417.80" y="460.30" font-size="14" fill="#222" stroke="#222" stroke-width="0.0" text-anchor="middle" >354</text>
<line x1="459.20" y1="442.60" x2="459.20" y2="446.40" stroke="#222" stroke-width="1.3" />
<text x="459.20" y="460.30" font-size="14" fill="#222" stroke="#222" stroke-width="0.0" text-anchor="middle" >352</text>
<line x1="500.60" y1="442.60" x2="500.60" y2="446.40" stroke="#222" stroke-width="1.3" />
<text x="500.60" y="460.30" font-size="14" fill="#222" stroke="#222" stroke-width="0.0" text-anchor="middle" >350</text>
<line x1="542.00" y1="442.60" x2="542.00" y2="446.40" stroke="#222" stroke-width="1.3" />
<text x="542.00" y="460.30" font-size="14" fill="#222" stroke="#222" stroke-width="0.0" text-anchor="middle" >348</text>
<line x1="583.40" y1="442.60" x2="583.40" y2="446.40" stroke="#222" stroke-width="1.3" />
<text x="583.40" y="460.30" font-size="14" fill="#222" stroke="#222" stroke-width="0.0" text-anchor="middle" >346</text>
<line x1="624.80" y1="442.60" x2="624.80" y2="446.40" stroke="#222" stroke-width="1.3" />
<text x="624.80" y="460.30" font-size="14" fill="#222" stroke="#222" stroke-width="0.0" text-anchor="middle" >344</text>
<text x="499.20" y="473.30" font-size="14.2" fill="#222" stroke="#222" stroke-width="0.0" text-anchor="middle" >Binding Energy (eV)</text>
<text x="0" y="0" font-size="14" fill="#222" stroke="#222" stroke-width="0.0" text-anchor="middle" dominant-baseline="central" transform="translate(366.00,352.00) rotate(-90)" >Intensity (a.u.)</text>
<text x="343.60" y="271.40" font-size="21.3" fill="#111" stroke="#111" stroke-width="0.0" text-anchor="start" >(d)</text>
<text x="588.40" y="271.00" font-size="11.5" fill="#222" stroke="#222" stroke-width="0.0" text-anchor="start" >Ca 2p</text>
<text x="470.50" y="277.00" font-size="11.6" fill="#5b8ae6" stroke="#5b8ae6" stroke-width="0.0" text-anchor="start" >Ca 2p<tspan font-size="7.8" dy="2.8">3/2</tspan></text>
<line x1="509.00" y1="278.20" x2="529.89" y2="285.78" stroke="#5b8ae6" stroke-width="1.2" />
<path d="M536.00,288.00 L528.93,288.41 L530.85,283.15 Z" fill="#5b8ae6"/>
<text x="400.30" y="354.10" font-size="11.8" fill="#f5a03c" stroke="#f5a03c" stroke-width="0.0" text-anchor="start" >Ca 2p<tspan font-size="7.8" dy="2.8">1/2</tspan></text>
<line x1="439.40" y1="354.20" x2="454.09" y2="359.57" stroke="#f5a03c" stroke-width="1.3" />
<path d="M460.20,361.80 L453.07,362.39 L455.12,356.75 Z" fill="#f5a03c"/>
<text x="388.40" y="390.60" font-size="11.3" fill="#b48be6" stroke="#b48be6" stroke-width="0.0" text-anchor="start" >Ca-COOH</text>
<line x1="437.50" y1="388.50" x2="466.96" y2="401.31" stroke="#b48be6" stroke-width="0.9" />
<path d="M472.00,403.50 L466.00,403.51 L467.91,399.11 Z" fill="#b48be6"/>
<text x="481.60" y="372.80" font-size="11.4" fill="#259052" stroke="#259052" stroke-width="0.0" text-anchor="start" >Ca-OH</text>
<line x1="507.70" y1="375.20" x2="525.05" y2="394.99" stroke="#259052" stroke-width="1.2" />
<path d="M529.00,399.50 L523.09,396.70 L527.00,393.27 Z" fill="#259052"/>
<clipPath id="clipE"><rect x="676" y="20.4" width="253.4" height="186.3"/></clipPath>
<line x1="719.00" y1="81.80" x2="719.00" y2="177.00" stroke="#6f96f0" stroke-width="1.5" stroke-dasharray="6.7,6.8"/>
<line x1="730.00" y1="84.50" x2="730.00" y2="174.50" stroke="#6f96f0" stroke-width="1.5" stroke-dasharray="6.7,6.8"/>
<line x1="719.00" y1="81.80" x2="725.90" y2="81.80" stroke="#6f96f0" stroke-width="1.5" />
<line x1="718.40" y1="177.40" x2="726.00" y2="177.40" stroke="#6f96f0" stroke-width="1.5" />
<line x1="741.20" y1="98.60" x2="741.20" y2="174.00" stroke="#6f96f0" stroke-width="1.5" stroke-dasharray="6.7,6.8"/>
<line x1="753.70" y1="99.50" x2="753.70" y2="175.50" stroke="#6f96f0" stroke-width="1.5" stroke-dasharray="6.7,6.8"/>
<line x1="741.20" y1="98.60" x2="747.60" y2="98.60" stroke="#6f96f0" stroke-width="1.5" />
<line x1="744.40" y1="180.30" x2="751.20" y2="180.30" stroke="#6f96f0" stroke-width="1.5" />
<line x1="756.80" y1="64.90" x2="756.80" y2="128.90" stroke="#6f96f0" stroke-width="1.5" stroke-dasharray="6.7,6.8"/>
<line x1="769.30" y1="66.60" x2="769.30" y2="128.00" stroke="#6f96f0" stroke-width="1.5" stroke-dasharray="6.7,6.8"/>
<line x1="756.80" y1="64.90" x2="763.20" y2="64.90" stroke="#6f96f0" stroke-width="1.5" />
<line x1="756.80" y1="128.90" x2="762.60" y2="128.90" stroke="#6f96f0" stroke-width="1.5" />
<g clip-path="url(#clipE)">
<path d="M676.0,100.0 L678.0,107.0 L681.0,115.0 L684.0,114.5 L686.0,113.0 L692.0,104.0 L696.0,101.0 L702.0,88.0 L708.0,72.0 L713.0,56.0 L718.0,42.0 L721.0,36.0 L723.0,32.0 L725.6,30.4 L727.5,31.2 L729.0,33.0 L732.0,37.0 L736.0,43.0 L740.0,49.0 L744.0,54.0 L751.0,61.0 L755.0,64.0 L758.0,67.0 L760.0,72.0 L761.3,78.0 L762.4,83.0 L763.7,79.0 L765.0,73.0 L768.0,68.0 L774.0,71.0 L780.0,74.0 L790.0,79.0 L796.0,82.0 L806.0,85.0 L809.0,86.4 L810.5,93.0 L812.0,102.0 L814.0,107.0 L815.0,97.0 L815.6,88.0 L818.0,87.6 L834.0,92.4 L854.0,99.6 L864.0,104.0 L867.0,106.0 L872.0,110.0 L877.0,114.0 L880.0,117.0 L884.0,120.0 L888.0,122.0 L892.0,120.0 L897.0,116.0 L901.0,110.0 L906.0,105.0 L917.0,106.0 L929.0,108.4" stroke="#8577d6" stroke-width="1.7" fill="none" stroke-linejoin="round" stroke-linecap="round" />
<path d="M676.0,167.3 L678.0,178.0 L680.5,187.7 L683.6,179.7 L687.3,169.8 L691.7,164.2 L694.8,162.4 L697.2,155.0 L699.7,150.0 L703.0,141.0 L706.0,131.0 L708.5,123.0 L710.0,118.5 L712.0,114.0 L714.0,107.0 L716.1,100.6 L718.7,97.0 L722.3,93.4 L725.9,86.7 L727.5,86.0 L730.4,85.2 L732.1,86.2 L735.7,92.4 L740.9,100.6 L746.0,107.8 L751.2,114.0 L755.3,119.2 L760.0,123.3 L763.0,125.0 L766.0,125.5 L769.0,126.0 L775.0,128.0 L781.3,130.8 L790.0,137.0 L800.0,141.0 L808.0,144.0 L810.5,152.0 L813.0,163.0 L814.5,155.0 L816.0,146.0 L830.0,150.0 L837.0,152.0 L852.0,157.0 L857.0,157.0 L870.0,160.0 L877.0,163.0 L886.0,166.4 L889.0,166.4 L897.0,164.5 L905.0,162.6 L913.0,164.0 L917.0,165.0 L929.0,165.6" stroke="#3d8b89" stroke-width="1.7" fill="none" stroke-linejoin="round" stroke-linecap="round" />
<path d="M684.0,213.0 L689.2,206.3 L694.8,199.5 L699.0,197.0 L704.0,187.0 L708.4,176.0 L712.7,170.4 L715.8,169.8 L719.5,172.3 L725.0,174.0 L729.4,171.0 L735.0,170.5 L740.0,171.0 L746.0,177.0 L752.0,175.0 L757.0,179.0 L762.0,183.0 L765.0,179.0 L768.0,174.0 L774.0,172.5 L780.0,171.6 L795.0,171.5 L808.0,172.0 L811.0,179.0 L813.0,177.0 L815.0,175.0 L818.0,172.0 L837.0,173.6 L844.0,174.0 L853.0,178.0 L855.0,179.6 L857.0,177.0 L862.0,178.5 L867.0,181.0 L872.0,184.0 L877.0,188.0 L883.0,194.0 L886.0,199.0 L889.0,203.5 L892.0,201.0 L895.0,196.0 L898.0,189.0 L901.0,180.0 L905.0,172.0 L907.0,169.0 L913.0,168.5 L917.0,169.0 L921.0,171.0 L929.0,169.6" stroke="#4b8fd7" stroke-width="1.7" fill="none" stroke-linejoin="round" stroke-linecap="round" />
</g>
<rect x="676.0" y="20.4" width="253.39999999999998" height="186.29999999999998" fill="none" stroke="#222" stroke-width="1.6"/>
<line x1="683.60" y1="206.70" x2="683.60" y2="210.20" stroke="#222" stroke-width="1.3" />
<text x="683.60" y="224.00" font-size="13.8" fill="#222" stroke="#222" stroke-width="0.0" text-anchor="middle" >500</text>
<line x1="718.60" y1="206.70" x2="718.60" y2="210.20" stroke="#222" stroke-width="1.3" />
<text x="718.60" y="224.00" font-size="13.8" fill="#222" stroke="#222" stroke-width="0.0" text-anchor="middle" >1000</text>
<line x1="753.60" y1="206.70" x2="753.60" y2="210.20" stroke="#222" stroke-width="1.3" />
<text x="753.60" y="224.00" font-size="13.8" fill="#222" stroke="#222" stroke-width="0.0" text-anchor="middle" >1500</text>
<line x1="788.60" y1="206.70" x2="788.60" y2="210.20" stroke="#222" stroke-width="1.3" />
<text x="788.60" y="224.00" font-size="13.8" fill="#222" stroke="#222" stroke-width="0.0" text-anchor="middle" >2000</text>
<line x1="823.60" y1="206.70" x2="823.60" y2="210.20" stroke="#222" stroke-width="1.3" />
<text x="823.60" y="224.00" font-size="13.8" fill="#222" stroke="#222" stroke-width="0.0" text-anchor="middle" >2500</text>
<line x1="858.60" y1="206.70" x2="858.60" y2="210.20" stroke="#222" stroke-width="1.3" />
<text x="858.60" y="224.00" font-size="13.8" fill="#222" stroke="#222" stroke-width="0.0" text-anchor="middle" >3000</text>
<line x1="893.60" y1="206.70" x2="893.60" y2="210.20" stroke="#222" stroke-width="1.3" />
<text x="893.60" y="224.00" font-size="13.8" fill="#222" stroke="#222" stroke-width="0.0" text-anchor="middle" >3500</text>
<line x1="928.60" y1="206.70" x2="928.60" y2="210.20" stroke="#222" stroke-width="1.3" />
<text x="928.60" y="224.00" font-size="13.8" fill="#222" stroke="#222" stroke-width="0.0" text-anchor="middle" >4000</text>
<text x="809.20" y="238.30" font-size="14.2" fill="#222" stroke="#222" stroke-width="0.0" text-anchor="middle" >Wavenumber (cm<tspan font-size="8.6" dy="-5.2">-1</tspan><tspan dy="5.2">)</tspan></text>
<text x="0" y="0" font-size="14" fill="#222" stroke="#222" stroke-width="0.0" text-anchor="middle" dominant-baseline="central" transform="translate(667.50,114.00) rotate(-90)" >Transmittance (a.u.)</text>
<text x="645.70" y="37.20" font-size="21.3" fill="#111" stroke="#111" stroke-width="0.0" text-anchor="start" >(e)</text>
<text x="711.30" y="188.90" font-size="11.6" fill="#222" stroke="#222" stroke-width="0.0" text-anchor="start" >1102</text>
<text x="737.70" y="192.50" font-size="11.6" fill="#222" stroke="#222" stroke-width="0.0" text-anchor="start" >1394</text>
<text x="886.00" y="103.20" font-size="12.5" fill="#222" stroke="#222" stroke-width="0.0" text-anchor="start" >Ca<tspan font-size="8.5" dy="-4.5">2+</tspan><tspan dy="4.5">/T</tspan></text>
<text x="873.20" y="159.50" font-size="12.0" fill="#222" stroke="#222" stroke-width="0.0" text-anchor="start" >Ca<tspan font-size="8.2" dy="-4.8">2+</tspan><tspan dy="4.8">/T/G</tspan></text>
<text x="908.00" y="180.20" font-size="12.5" fill="#222" stroke="#222" stroke-width="0.0" text-anchor="start" >G</text>
<rect x="678" y="257.6" width="250" height="186.4" fill="none" stroke="#444" stroke-width="1.4"/>
<text x="648.10" y="272.00" font-size="21.3" fill="#111" stroke="#111" stroke-width="0.0" text-anchor="start" >(f)</text>
<line x1="801.80" y1="342.20" x2="820.70" y2="349.20" stroke="#9a9a9a" stroke-width="2.4" stroke-linecap="round"/>
<line x1="802.50" y1="319.00" x2="820.70" y2="309.60" stroke="#9a9a9a" stroke-width="2.4" stroke-linecap="round"/>
<line x1="733.80" y1="339.90" x2="734.50" y2="315.40" stroke="#9a9a9a" stroke-width="2.4" stroke-linecap="round"/>
<line x1="751.70" y1="308.20" x2="768.70" y2="317.00" stroke="#9a9a9a" stroke-width="2.4" stroke-linecap="round"/>
<line x1="733.80" y1="339.90" x2="751.70" y2="348.00" stroke="#9a9a9a" stroke-width="2.4" stroke-linecap="round"/>
<line x1="806.00" y1="276.30" x2="821.10" y2="286.80" stroke="#9a9a9a" stroke-width="2.4" stroke-linecap="round"/>
<line x1="767.60" y1="340.80" x2="768.70" y2="317.00" stroke="#9a9a9a" stroke-width="2.4" stroke-linecap="round"/>
<line x1="785.50" y1="348.50" x2="801.80" y2="342.20" stroke="#9a9a9a" stroke-width="2.4" stroke-linecap="round"/>
<line x1="767.60" y1="340.80" x2="785.50" y2="348.50" stroke="#9a9a9a" stroke-width="2.4" stroke-linecap="round"/>
<line x1="733.80" y1="275.80" x2="751.70" y2="283.80" stroke="#9a9a9a" stroke-width="2.4" stroke-linecap="round"/>
<line x1="717.50" y1="307.80" x2="734.50" y2="315.40" stroke="#9a9a9a" stroke-width="2.4" stroke-linecap="round"/>
<line x1="837.00" y1="318.70" x2="837.00" y2="341.50" stroke="#9a9a9a" stroke-width="2.4" stroke-linecap="round"/>
<line x1="751.70" y1="348.00" x2="767.60" y2="340.80" stroke="#9a9a9a" stroke-width="2.4" stroke-linecap="round"/>
<line x1="717.50" y1="283.80" x2="733.80" y2="275.80" stroke="#9a9a9a" stroke-width="2.4" stroke-linecap="round"/>
<line x1="820.70" y1="349.20" x2="831.60" y2="360.20" stroke="#9a9a9a" stroke-width="2.4" stroke-linecap="round"/>
<line x1="820.70" y1="349.20" x2="837.00" y2="341.50" stroke="#9a9a9a" stroke-width="2.4" stroke-linecap="round"/>
<line x1="769.20" y1="277.50" x2="786.90" y2="285.20" stroke="#9a9a9a" stroke-width="2.4" stroke-linecap="round"/>
<line x1="768.70" y1="317.00" x2="786.70" y2="310.00" stroke="#9a9a9a" stroke-width="2.4" stroke-linecap="round"/>
<line x1="751.70" y1="283.80" x2="769.20" y2="277.50" stroke="#9a9a9a" stroke-width="2.4" stroke-linecap="round"/>
<line x1="820.70" y1="309.60" x2="837.00" y2="318.70" stroke="#9a9a9a" stroke-width="2.4" stroke-linecap="round"/>
<line x1="786.70" y1="310.00" x2="802.50" y2="319.00" stroke="#9a9a9a" stroke-width="2.4" stroke-linecap="round"/>
<line x1="751.70" y1="283.80" x2="751.70" y2="308.20" stroke="#9a9a9a" stroke-width="2.4" stroke-linecap="round"/>
<line x1="801.80" y1="342.20" x2="802.50" y2="319.00" stroke="#9a9a9a" stroke-width="2.4" stroke-linecap="round"/>
<line x1="786.90" y1="285.20" x2="806.00" y2="276.30" stroke="#9a9a9a" stroke-width="2.4" stroke-linecap="round"/>
<line x1="786.70" y1="310.00" x2="786.90" y2="285.20" stroke="#9a9a9a" stroke-width="2.4" stroke-linecap="round"/>
<line x1="734.50" y1="315.40" x2="751.70" y2="308.20" stroke="#9a9a9a" stroke-width="2.4" stroke-linecap="round"/>
<line x1="717.50" y1="283.80" x2="717.50" y2="307.80" stroke="#9a9a9a" stroke-width="2.4" stroke-linecap="round"/>
<line x1="820.70" y1="309.60" x2="821.10" y2="286.80" stroke="#9a9a9a" stroke-width="2.4" stroke-linecap="round"/>
<line x1="751.70" y1="348.00" x2="745.00" y2="382.30" stroke="#9b3b3b" stroke-width="1.2" />
<line x1="812.00" y1="380.00" x2="830.80" y2="371.60" stroke="#b0608a" stroke-width="1.2" />
<line x1="831.60" y1="360.20" x2="843.30" y2="358.40" stroke="#9a9a9a" stroke-width="2.2" />
<line x1="733.80" y1="339.90" x2="733.80" y2="354.80" stroke="#9a9a9a" stroke-width="2.0" />
<rect x="699" y="409" width="126" height="9" fill="#555" opacity="0.45" filter="url(#shadow)"/>
<line x1="712.20" y1="389.40" x2="712.20" y2="404.00" stroke="#3a66c8" stroke-width="1.6" />
<line x1="745.00" y1="382.30" x2="745.00" y2="404.00" stroke="#3a66c8" stroke-width="1.6" />
<line x1="776.40" y1="389.40" x2="776.40" y2="404.00" stroke="#3a66c8" stroke-width="1.6" />
<line x1="811.50" y1="394.50" x2="811.50" y2="404.00" stroke="#3a66c8" stroke-width="1.6" />
<rect x="697.5" y="403.1" width="126.7" height="12.6" fill="url(#barG)"/>
<circle cx="717.5" cy="283.8" r="5.3" fill="url(#sgG)"/>
<circle cx="733.8" cy="275.8" r="5.3" fill="url(#sgG)"/>
<circle cx="751.7" cy="283.8" r="5.3" fill="url(#sgG)"/>
<circle cx="769.2" cy="277.5" r="5.3" fill="url(#sgG)"/>
<circle cx="786.9" cy="285.2" r="5.3" fill="url(#sgG)"/>
<circle cx="806" cy="276.3" r="5.3" fill="url(#sgG)"/>
<circle cx="821.1" cy="286.8" r="5.3" fill="url(#sgG)"/>
<circle cx="717.5" cy="307.8" r="5.3" fill="url(#sgG)"/>
<circle cx="734.5" cy="315.4" r="5.3" fill="url(#sgG)"/>
<circle cx="751.7" cy="308.2" r="5.3" fill="url(#sgG)"/>
<circle cx="768.7" cy="317" r="5.3" fill="url(#sgG)"/>
<circle cx="786.7" cy="310" r="5.3" fill="url(#sgG)"/>
<circle cx="802.5" cy="319" r="5.3" fill="url(#sgG)"/>
<circle cx="820.7" cy="309.6" r="5.3" fill="url(#sgG)"/>
<circle cx="837" cy="318.7" r="5.3" fill="url(#sgG)"/>
<circle cx="733.8" cy="339.9" r="5.3" fill="url(#sgG)"/>
<circle cx="751.7" cy="348" r="5.3" fill="url(#sgG)"/>
<circle cx="767.6" cy="340.8" r="5.3" fill="url(#sgG)"/>
<circle cx="785.5" cy="348.5" r="5.3" fill="url(#sgG)"/>
<circle cx="801.8" cy="342.2" r="5.3" fill="url(#sgG)"/>
<circle cx="820.7" cy="349.2" r="5.3" fill="url(#sgG)"/>
<circle cx="837" cy="341.5" r="5.3" fill="url(#sgG)"/>
<circle cx="831.6" cy="360.2" r="5.3" fill="url(#sgG)"/>
<circle cx="733.8" cy="354.8" r="6.3" fill="url(#sgR)"/>
<circle cx="843.3" cy="358.4" r="6.3" fill="url(#sgR)"/>
<circle cx="830.8" cy="371.6" r="6.3" fill="url(#sgR)"/>
<circle cx="712.2" cy="389.4" r="6.3" fill="url(#sgR)"/>
<circle cx="745" cy="382.3" r="6.3" fill="url(#sgR)"/>
<circle cx="776.4" cy="389.4" r="6.3" fill="url(#sgR)"/>
<circle cx="811.5" cy="394.5" r="6.3" fill="url(#sgR)"/>
<circle cx="733.3" cy="366" r="3.8" fill="url(#sgH)"/>
<circle cx="712.2" cy="378.2" r="3.8" fill="url(#sgH)"/>
<circle cx="776.4" cy="378.2" r="3.8" fill="url(#sgH)"/>
<circle cx="812" cy="380" r="8.4" fill="url(#sgC)"/>
<circle cx="872.9" cy="311.5" r="4.1" fill="url(#sgH)"/>
<circle cx="875" cy="344.4" r="6.3" fill="url(#sgR)"/>
<circle cx="877" cy="380.7" r="8.4" fill="url(#sgC)"/>
<text x="889.50" y="316.20" font-size="12" fill="#222" stroke="#222" stroke-width="0.0" text-anchor="start" >H</text>
<text x="890.60" y="348.80" font-size="12" fill="#222" stroke="#222" stroke-width="0.0" text-anchor="start" >O</text>
<text x="889.00" y="385.30" font-size="12" fill="#222" stroke="#222" stroke-width="0.0" text-anchor="start" >Ca<tspan font-size="8" dy="-4.5">2+</tspan></text>
<text x="740.50" y="431.30" font-size="12" fill="#222" stroke="#222" stroke-width="0.0" text-anchor="start" >Ca<tspan font-size="7.6" dy="-4.6">2+</tspan><tspan dy="4.6">/T/G</tspan></text>
</svg></body></html>
